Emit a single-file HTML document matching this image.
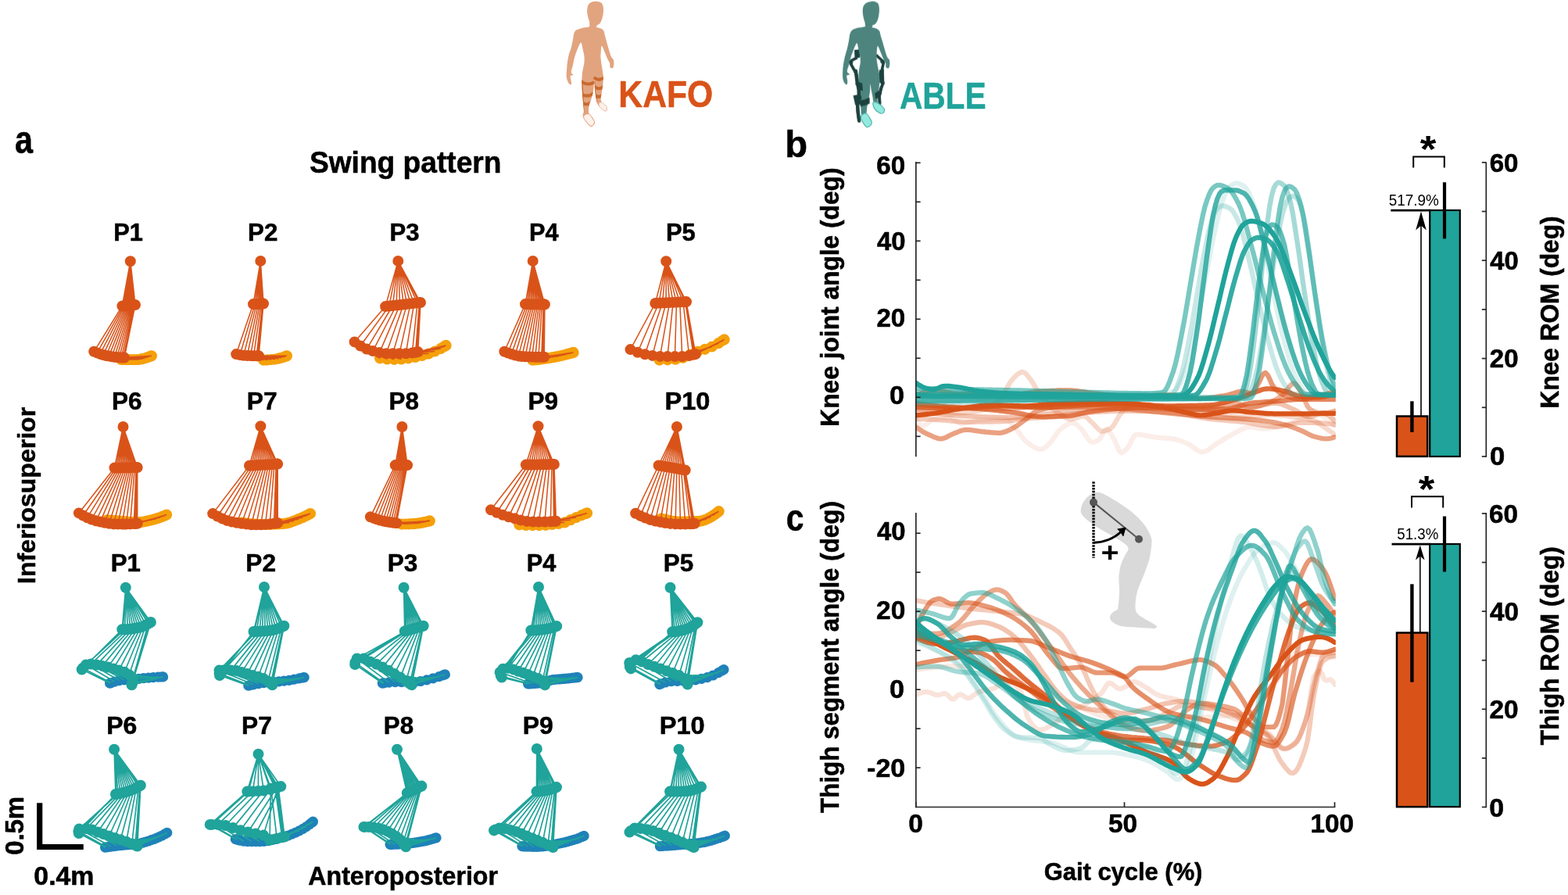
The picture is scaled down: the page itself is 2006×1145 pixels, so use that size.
<!DOCTYPE html>
<html lang="en"><head><meta charset="utf-8"><title>Swing pattern, knee and thigh kinematics: KAFO vs ABLE</title>
<style>
html,body{margin:0;padding:0;background:#fff;}
body{width:2006px;height:1145px;overflow:hidden;}
svg{display:block;font-family:"Liberation Sans",sans-serif;}
</style></head>
<body>
<svg width="2006" height="1145" viewBox="0 0 2006 1145">
<rect width="2006" height="1145" fill="#fff"/>
<g id="part_people_build">
<defs><filter id="soft" x="-10%" y="-10%" width="120%" height="120%"><feGaussianBlur stdDeviation="0.5"/></filter></defs>
<g filter="url(#soft)">
<g transform="translate(715,0) scale(0.14861)">
<clipPath id="kclip"><path d="M266,195C255.3,197.3 272.2,220.5 262,228C251.8,235.5 223.3,235 205,240C186.7,245 164.3,250.5 152,258C139.7,265.5 136.2,271.3 131,285C125.8,298.7 125.2,319.2 121,340C116.8,360.8 111.8,388.3 106,410C100.2,431.7 91.5,448.3 86,470C80.5,491.7 76,518.3 73,540C70,561.7 69.3,580 68,600C66.7,620 63.3,642.5 65,660C66.7,677.5 72.7,693.7 78,705C83.3,716.3 92,725.8 97,728C102,730.2 107.2,725.7 108,718C108.8,710.3 103.3,693 102,682C100.7,671 96.3,658 100,652C103.7,646 123,651.3 124,646C125,640.7 106.5,634.3 106,620C105.5,605.7 116,581.7 121,560C126,538.3 129.3,513.3 136,490C142.7,466.7 152,440.7 161,420C170,399.3 182.7,366 190,366C197.3,366 200.3,401 205,420C209.7,439 215.8,460 218,480C220.2,500 220,520 218,540C216,560 209,583.3 206,600C203,616.7 201.3,625 200,640C198.7,655 198,666.7 198,690C198,713.3 198.3,748.3 200,780C201.7,811.7 205.5,850 208,880C210.5,910 215.3,942.5 215,960C214.7,977.5 205.8,975 206,985C206.2,995 209.3,1006.7 216,1020C222.7,1033.3 236,1053.7 246,1065C256,1076.3 267,1086.3 276,1088C285,1089.7 294.7,1081.3 300,1075C305.3,1068.7 309.7,1060 308,1050C306.3,1040 297,1025.8 290,1015C283,1004.2 271.7,994.2 266,985C260.3,975.8 256.7,974.2 256,960C255.3,945.8 258,918.3 262,900C266,881.7 274.5,868.3 280,850C285.5,831.7 291.3,811.7 295,790C298.7,768.3 300.2,734.7 302,720C303.8,705.3 304.5,692 306,702C307.5,712 308.7,755.3 311,780C313.3,804.7 316.7,831.7 320,850C323.3,868.3 326.7,879.2 331,890C335.3,900.8 337.8,905.8 346,915C354.2,924.2 370.2,937.8 380,945C389.8,952.2 399.2,959.7 405,958C410.8,956.3 415.8,943.8 415,935C414.2,926.2 407.3,913.3 400,905C392.7,896.7 377.5,894.2 371,885C364.5,875.8 361.2,865.8 361,850C360.8,834.2 366.8,811.7 370,790C373.2,768.3 378,741.7 380,720C382,698.3 382.3,676.7 382,660C381.7,643.3 380.3,636.7 378,620C375.7,603.3 371,580 368,560C365,540 361,520 360,500C359,480 360.3,457.3 362,440C363.7,422.7 364.5,394.3 370,396C375.5,397.7 386.7,431 395,450C403.3,469 412.8,494.2 420,510C427.2,525.8 434.5,533.3 438,545C441.5,556.7 436.5,573.3 441,580C445.5,586.7 459.7,590 465,585C470.3,580 472.2,561.7 473,550C473.8,538.3 473.7,525 470,515C466.3,505 457.5,504.2 451,490C444.5,475.8 437.7,451.7 431,430C424.3,408.3 417,381.7 411,360C405,338.3 399.2,315.8 395,300C390.8,284.2 391.7,274.2 386,265C380.3,255.8 371.7,250.5 361,245C350.3,239.5 327.8,237.2 322,232C316.2,226.8 335.3,220.2 326,214C316.7,207.8 276.7,192.7 266,195Z"/></clipPath>
<path d="M266,195C255.3,197.3 272.2,220.5 262,228C251.8,235.5 223.3,235 205,240C186.7,245 164.3,250.5 152,258C139.7,265.5 136.2,271.3 131,285C125.8,298.7 125.2,319.2 121,340C116.8,360.8 111.8,388.3 106,410C100.2,431.7 91.5,448.3 86,470C80.5,491.7 76,518.3 73,540C70,561.7 69.3,580 68,600C66.7,620 63.3,642.5 65,660C66.7,677.5 72.7,693.7 78,705C83.3,716.3 92,725.8 97,728C102,730.2 107.2,725.7 108,718C108.8,710.3 103.3,693 102,682C100.7,671 96.3,658 100,652C103.7,646 123,651.3 124,646C125,640.7 106.5,634.3 106,620C105.5,605.7 116,581.7 121,560C126,538.3 129.3,513.3 136,490C142.7,466.7 152,440.7 161,420C170,399.3 182.7,366 190,366C197.3,366 200.3,401 205,420C209.7,439 215.8,460 218,480C220.2,500 220,520 218,540C216,560 209,583.3 206,600C203,616.7 201.3,625 200,640C198.7,655 198,666.7 198,690C198,713.3 198.3,748.3 200,780C201.7,811.7 205.5,850 208,880C210.5,910 215.3,942.5 215,960C214.7,977.5 205.8,975 206,985C206.2,995 209.3,1006.7 216,1020C222.7,1033.3 236,1053.7 246,1065C256,1076.3 267,1086.3 276,1088C285,1089.7 294.7,1081.3 300,1075C305.3,1068.7 309.7,1060 308,1050C306.3,1040 297,1025.8 290,1015C283,1004.2 271.7,994.2 266,985C260.3,975.8 256.7,974.2 256,960C255.3,945.8 258,918.3 262,900C266,881.7 274.5,868.3 280,850C285.5,831.7 291.3,811.7 295,790C298.7,768.3 300.2,734.7 302,720C303.8,705.3 304.5,692 306,702C307.5,712 308.7,755.3 311,780C313.3,804.7 316.7,831.7 320,850C323.3,868.3 326.7,879.2 331,890C335.3,900.8 337.8,905.8 346,915C354.2,924.2 370.2,937.8 380,945C389.8,952.2 399.2,959.7 405,958C410.8,956.3 415.8,943.8 415,935C414.2,926.2 407.3,913.3 400,905C392.7,896.7 377.5,894.2 371,885C364.5,875.8 361.2,865.8 361,850C360.8,834.2 366.8,811.7 370,790C373.2,768.3 378,741.7 380,720C382,698.3 382.3,676.7 382,660C381.7,643.3 380.3,636.7 378,620C375.7,603.3 371,580 368,560C365,540 361,520 360,500C359,480 360.3,457.3 362,440C363.7,422.7 364.5,394.3 370,396C375.5,397.7 386.7,431 395,450C403.3,469 412.8,494.2 420,510C427.2,525.8 434.5,533.3 438,545C441.5,556.7 436.5,573.3 441,580C445.5,586.7 459.7,590 465,585C470.3,580 472.2,561.7 473,550C473.8,538.3 473.7,525 470,515C466.3,505 457.5,504.2 451,490C444.5,475.8 437.7,451.7 431,430C424.3,408.3 417,381.7 411,360C405,338.3 399.2,315.8 395,300C390.8,284.2 391.7,274.2 386,265C380.3,255.8 371.7,250.5 361,245C350.3,239.5 327.8,237.2 322,232C316.2,226.8 335.3,220.2 326,214C316.7,207.8 276.7,192.7 266,195Z" fill="#E2A47F"/>
<path d="M310,12C323.3,10.7 339.7,12.7 350,16C360.3,19.3 366.5,23 372,32C377.5,41 381.5,55.3 383,70C384.5,84.7 383.3,103.3 381,120C378.7,136.7 374,156 369,170C364,184 357.8,196.3 351,204C344.2,211.7 336.5,214.7 328,216C319.5,217.3 309.7,214.7 300,212C290.3,209.3 277.3,207.8 270,200C262.7,192.2 260,177 256,165C252,153 248.2,140.5 246,128C243.8,115.5 242.3,103 243,90C243.7,77 245.5,61 250,50C254.5,39 260,30.3 270,24C280,17.7 296.7,13.3 310,12Z" fill="#E2A47F"/>
<g clip-path="url(#kclip)">
<path d="M190,700 Q250,742 305,708" stroke="#CB6A2F" stroke-width="27" fill="none"/>
<path d="M200,812 Q250,842 298,802" stroke="#CB6A2F" stroke-width="27" fill="none"/>
<path d="M205,886 Q245,914 282,878" stroke="#CB6A2F" stroke-width="27" fill="none"/>
<path d="M302,666 Q345,704 388,668" stroke="#CB6A2F" stroke-width="27" fill="none"/>
<path d="M306,745 Q345,779 384,745" stroke="#CB6A2F" stroke-width="27" fill="none"/>
<path d="M312,820 Q345,848 376,818" stroke="#CB6A2F" stroke-width="27" fill="none"/>
<path d="M197,690 L204,800 L212,970" stroke="#CB6A2F" stroke-width="13" fill="none"/>
<path d="M306,700 L314,800 L328,895" stroke="#CB6A2F" stroke-width="9" fill="none"/>
</g>
<path d="M222,990C230,984.3 249,974.5 262,982C275,989.5 292.7,1023.3 300,1035C307.3,1046.7 306.3,1045.5 306,1052C305.7,1058.5 303,1068.5 298,1074C293,1079.5 284.7,1087.3 276,1085C267.3,1082.7 256.3,1071.5 246,1060C235.7,1048.5 218,1027.7 214,1016C210,1004.3 214,995.7 222,990Z" fill="#FBF0EA" stroke="#E08A55" stroke-width="5"/>
<path d="M346,886C350,880.7 363.3,878.7 374,884C384.7,889.3 403.5,909 410,918C416.5,927 414,932 413,938C412,944 408.8,952 404,954C399.2,956 393,956.3 384,950C375,943.7 356.3,926.7 350,916C343.7,905.3 342,891.3 346,886Z" fill="#FBF0EA" stroke="#E8A784" stroke-width="4"/>
</g>
<g transform="translate(1065,0) scale(0.14861)">
<path d="M188,430 L232,425 L236,495 L192,500 Z" fill="#1D4340"/>
<path d="M205,500 L165,520 L156,546 L186,600 L206,640 L212,700 L226,760 L230,830 L212,880 L218,960 L228,1035" stroke="#1D4340" stroke-width="25" fill="none" stroke-linejoin="round" stroke-linecap="round"/>
<path d="M380,478 L422,516 L440,538 L426,600 L431,700 L434,722 L416,760 L402,820 L406,885" stroke="#1D4340" stroke-width="24" fill="none" stroke-linejoin="round" stroke-linecap="round"/>
<path d="M283,200C272.3,202.3 291.2,221.3 280,228C268.8,234.7 234.2,235 216,240C197.8,245 181.8,249.7 171,258C160.2,266.3 156,274.7 151,290C146,305.3 145.2,328.3 141,350C136.8,371.7 131.8,396.7 126,420C120.2,443.3 111.5,466.7 106,490C100.5,513.3 96,538.3 93,560C90,581.7 88.5,600 88,620C87.5,640 86.7,663.3 90,680C93.3,696.7 102.2,712.3 108,720C113.8,727.7 121.5,730 125,726C128.5,722 129.3,708.3 129,696C128.7,683.7 119.8,661.3 123,652C126.2,642.7 147.5,646.2 148,640C148.5,633.8 127.2,628.3 126,615C124.8,601.7 136,579.2 141,560C146,540.8 149.3,521.7 156,500C162.7,478.3 172,451.5 181,430C190,408.5 202.7,371 210,371C217.3,371 220.3,410.2 225,430C229.7,449.8 235.5,471.7 238,490C240.5,508.3 241.5,521.7 240,540C238.5,558.3 231.5,580 229,600C226.5,620 225.2,640 225,660C224.8,680 226.3,696.7 228,720C229.7,743.3 233,775 235,800C237,825 238.3,846.7 240,870C241.7,893.3 243.3,920.8 245,940C246.7,959.2 242.5,979.2 250,985C257.5,990.8 282.3,984.2 290,975C297.7,965.8 293.3,945.8 296,930C298.7,914.2 302.7,896.7 306,880C309.3,863.3 313.2,846.7 316,830C318.8,813.3 321.3,798 323,780C324.7,762 324,722 326,722C328,722 331.8,762 335,780C338.2,798 341.7,813.3 345,830C348.3,846.7 348.3,870.8 355,880C361.7,889.2 379.5,890 385,885C390.5,880 386.2,865.8 388,850C389.8,834.2 393.2,811.7 396,790C398.8,768.3 402.7,743.3 405,720C407.3,696.7 410.8,666.7 410,650C409.2,633.3 403.7,635 400,620C396.3,605 391.3,580 388,560C384.7,540 381,520 380,500C379,480 380.3,457.3 382,440C383.7,422.7 384.5,394.3 390,396C395.5,397.7 406.7,431 415,450C423.3,469 432.8,494.2 440,510C447.2,525.8 454.5,533.3 458,545C461.5,556.7 456.5,573.3 461,580C465.5,586.7 479.7,590 485,585C490.3,580 492.2,561.7 493,550C493.8,538.3 493.7,525 490,515C486.3,505 477.5,504.2 471,490C464.5,475.8 457.7,451.7 451,430C444.3,408.3 437.3,381.7 431,360C424.7,338.3 417.3,315.3 413,300C408.7,284.7 410.3,277 405,268C399.7,259 391.5,251.5 381,246C370.5,240.5 348.2,240.3 342,235C335.8,229.7 353.8,219.8 344,214C334.2,208.2 293.7,197.7 283,200Z" fill="#4D857E"/>
<path d="M335,12C348.8,11 365,14.2 375,18C385,21.8 390.3,24.7 395,35C399.7,45.3 402.3,64.2 403,80C403.7,95.8 401.8,113.3 399,130C396.2,146.7 391.5,167 386,180C380.5,193 373.3,202 366,208C358.7,214 351,215.2 342,216C333,216.8 321.3,214.8 312,213C302.7,211.2 292.7,212.2 286,205C279.3,197.8 275.7,181.7 272,170C268.3,158.3 266,148.3 264,135C262,121.7 259.3,104.2 260,90C260.7,75.8 262.7,61 268,50C273.3,39 280.8,30.3 292,24C303.2,17.7 321.2,13 335,12Z" fill="#4D857E"/>
<path d="M200,610 L212,700 L226,770 L228,840 L216,900 L220,970 L230,1040" stroke="#1D4340" stroke-width="30" fill="none" stroke-linejoin="round" stroke-linecap="round"/>
<path d="M430,600 L434,712 L418,770 L404,830 L408,890" stroke="#1D4340" stroke-width="24" fill="none" stroke-linejoin="round" stroke-linecap="round"/>
<path d="M203,700 L256,716 L262,782 L216,772 Z" fill="#1D4340"/>
<path d="M178,822 L236,812 L242,900 L196,905 Z" fill="#1D4340"/>
<path d="M232,862 Q280,860 320,838 L320,890 Q282,914 240,916 Z" fill="#1D4340"/>
<path d="M402,600 L436,610 L441,722 L406,712 Z" fill="#1D4340"/>
<path d="M364,802 L411,774 L414,832 L370,852 Z" fill="#1D4340"/>
<circle cx="160" cy="535" r="17" fill="#1D4340"/>
<circle cx="200" cy="615" r="16" fill="#1D4340"/>
<circle cx="215" cy="720" r="18" fill="#1D4340"/>
<circle cx="228" cy="840" r="22" fill="#1D4340"/>
<circle cx="430" cy="530" r="17" fill="#1D4340"/>
<circle cx="428" cy="610" r="16" fill="#1D4340"/>
<circle cx="432" cy="715" r="17" fill="#1D4340"/>
<circle cx="408" cy="800" r="16" fill="#1D4340"/>
<path d="M254,988C261.7,982 277.3,969 290,976C302.7,983 322,1017.3 330,1030C338,1042.7 338,1044.3 338,1052C338,1059.7 337,1069 330,1076C323,1083 306.7,1096.7 296,1094C285.3,1091.3 274.7,1073.7 266,1060C257.3,1046.3 246,1024 244,1012C242,1000 246.3,994 254,988Z" fill="#92EADF" stroke="#43A99E" stroke-width="7"/>
<path d="M350,882C355,874.3 375,878.3 390,886C405,893.7 430.5,917.3 440,928C449.5,938.7 447.3,943 447,950C446.7,957 444.2,965.8 438,970C431.8,974.2 423,981.3 410,975C397,968.7 370,947.5 360,932C350,916.5 345,889.7 350,882Z" fill="#92EADF" stroke="#43A99E" stroke-width="7"/>
</g>
</g>
</g>
<g id="part_swing_build">
<path d="M155,460h0M159.3,460h0M163.4,460h0M167.4,460h0M171.2,460h0M174.9,460h0M178.4,459.8h0M181.7,459.2h0M184.8,458.5h0M187.6,457.6h0M190.2,456.7h0M192.4,455.9h0M192.5,455.8h0M192.8,455.7h0M193.1,455.6h0M193.3,455.5h0M193.6,455.4h0M193.9,455.3h0" stroke="#F5A00A" stroke-width="14.2" stroke-linecap="round" fill="none"/>
<path d="M166.8,334.2L156.4,391.5L120.2,449.8L155,460M166.8,334.2L158.2,391.3L124.2,451.4L159.3,460M166.8,334.2L159.9,391.2L128.1,452.9L163.4,460M166.8,334.2L161.6,391L132,454.1L167.4,460M166.8,334.2L163.2,390.9L135.7,455L171.2,460M166.8,334.2L164.8,390.7L139.4,455.6L174.9,460M166.8,334.2L166.3,390.6L142.9,456.2L178.4,459.8M166.8,334.2L167.7,390.5L146.3,456.7L181.7,459.2M166.8,334.2L169,390.4L149.5,457L184.8,458.5M166.8,334.2L170.3,390.2L152.5,457.3L187.6,457.6M166.8,334.2L171.4,390.1L155.2,457.5L190.2,456.7M166.8,334.2L172.3,390.1L157.5,457.6L192.4,455.9M166.8,334.2L172.4,390.1L157.6,457.6L192.5,455.8M166.8,334.2L172.5,390L157.9,457.6L192.8,455.7M166.8,334.2L172.6,390L158.2,457.6L193.1,455.6M166.8,334.2L172.8,390L158.5,457.6L193.3,455.5M166.8,334.2L172.9,390L158.8,457.6L193.6,455.4M166.8,334.2L173,390L159.1,457.6L193.9,455.3" stroke="#D95319" stroke-width="1.55" stroke-linejoin="round" fill="none"/>
<path d="M166.8,334.2h0M156.4,391.5h0M158.2,391.3h0M159.9,391.2h0M161.6,391h0M163.2,390.9h0M164.8,390.7h0M166.3,390.6h0M167.7,390.5h0M169,390.4h0M170.3,390.2h0M171.4,390.1h0M172.3,390.1h0M172.4,390.1h0M172.5,390h0M172.6,390h0M172.8,390h0M172.9,390h0M173,390h0M120.2,449.8h0M124.2,451.4h0M128.1,452.9h0M132,454.1h0M135.7,455h0M139.4,455.6h0M142.9,456.2h0M146.3,456.7h0M149.5,457h0M152.5,457.3h0M155.2,457.5h0M157.5,457.6h0M157.6,457.6h0M157.9,457.6h0M158.2,457.6h0M158.5,457.6h0M158.8,457.6h0M159.1,457.6h0" stroke="#D95319" stroke-width="14.0" stroke-linecap="round" fill="none"/>
<path d="M337,460.6h0M342.2,460.4h0M347.2,460h0M351.9,459.5h0M356.3,458.7h0M360.4,457.6h0M364.1,456.4h0M365.8,455.7h0M366,455.6h0M366.3,455.6h0M366.5,455.5h0M366.7,455.4h0M366.9,455.3h0" stroke="#F5A00A" stroke-width="14.2" stroke-linecap="round" fill="none"/>
<path d="M333.3,333.9L324,389.1L302.2,453.1L337,460.6M333.3,333.9L326.2,389L307,454L342.2,460.4M333.3,333.9L328.3,388.9L311.7,454.7L347.2,460M333.3,333.9L330.4,388.8L316.2,455L351.9,459.5M333.3,333.9L332.3,388.7L320.5,455.1L356.3,458.7M333.3,333.9L334.1,388.6L324.5,455.2L360.4,457.6M333.3,333.9L335.7,388.6L328.2,455.3L364.1,456.4M333.3,333.9L336.5,388.5L329.9,455.3L365.8,455.7M333.3,333.9L336.6,388.5L330.1,455.3L366,455.6M333.3,333.9L336.7,388.5L330.3,455.3L366.3,455.6M333.3,333.9L336.8,388.5L330.6,455.3L366.5,455.5M333.3,333.9L336.9,388.5L330.8,455.3L366.7,455.4M333.3,333.9L337,388.5L331,455.3L366.9,455.3" stroke="#D95319" stroke-width="1.55" stroke-linejoin="round" fill="none"/>
<path d="M333.3,333.9h0M324,389.1h0M326.2,389h0M328.3,388.9h0M330.4,388.8h0M332.3,388.7h0M334.1,388.6h0M335.7,388.6h0M336.5,388.5h0M336.6,388.5h0M336.7,388.5h0M336.8,388.5h0M336.9,388.5h0M337,388.5h0M302.2,453.1h0M307,454h0M311.7,454.7h0M316.2,455h0M320.5,455.1h0M324.5,455.2h0M328.2,455.3h0M329.9,455.3h0M330.1,455.3h0M330.3,455.3h0M330.6,455.3h0M330.8,455.3h0M331,455.3h0" stroke="#D95319" stroke-width="14.0" stroke-linecap="round" fill="none"/>
<path d="M486.1,458.3h0M495.3,459.4h0M504.4,459.8h0M513.4,459.4h0M522.4,458.3h0M531.2,456.9h0M539.9,455h0M548.3,452.6h0M556.3,449.5h0M563.9,445.9h0M567.9,443.6h0M568.6,443.2h0M569.3,442.8h0M569.9,442.3h0M570.6,441.9h0" stroke="#F5A00A" stroke-width="14.2" stroke-linecap="round" fill="none"/>
<path d="M509.3,333.9L493.1,392.1L453.6,437.4L486.1,458.3M509.3,333.9L497.8,391.6L461.1,442.5L495.3,459.4M509.3,333.9L502.5,391L469,446.6L504.4,459.8M509.3,333.9L507.1,390.5L477,449.1L513.4,459.4M509.3,333.9L511.7,390L485.5,451.1L522.4,458.3M509.3,333.9L516.3,389.5L494.1,452.2L531.2,456.9M509.3,333.9L520.8,388.9L502.6,452.3L539.9,455M509.3,333.9L525.3,388.4L511,452.3L548.3,452.6M509.3,333.9L529.7,387.9L519.3,452.3L556.3,449.5M509.3,333.9L534,387.5L527.3,451.6L563.9,445.9M509.3,333.9L536.4,387.2L531.7,450.7L567.9,443.6M509.3,333.9L536.8,387.1L532.5,450.6L568.6,443.2M509.3,333.9L537.2,387.1L533.2,450.4L569.3,442.8M509.3,333.9L537.6,387L534,450.3L569.9,442.3M509.3,333.9L538,387L534.7,450.1L570.6,441.9" stroke="#D95319" stroke-width="1.55" stroke-linejoin="round" fill="none"/>
<path d="M509.3,333.9h0M493.1,392.1h0M497.8,391.6h0M502.5,391h0M507.1,390.5h0M511.7,390h0M516.3,389.5h0M520.8,388.9h0M525.3,388.4h0M529.7,387.9h0M534,387.5h0M536.4,387.2h0M536.8,387.1h0M537.2,387.1h0M537.6,387h0M538,387h0M453.6,437.4h0M461.1,442.5h0M469,446.6h0M477,449.1h0M485.5,451.1h0M494.1,452.2h0M502.6,452.3h0M511,452.3h0M519.3,452.3h0M527.3,451.6h0M531.7,450.7h0M532.5,450.6h0M533.2,450.4h0M534,450.3h0M534.7,450.1h0" stroke="#D95319" stroke-width="14.0" stroke-linecap="round" fill="none"/>
<path d="M681.2,460.6h0M683.6,460.4h0M686.1,460.2h0M688.5,459.9h0M690.9,459.6h0M693.3,459.3h0M695.6,459h0M698,458.7h0M700.3,458.3h0M702.6,458h0M704.9,457.6h0M707.2,457.2h0M709.4,456.8h0M711.6,456.4h0M713.8,456h0M716,455.5h0M718.2,455h0M720.3,454.5h0M722.4,454h0M724.4,453.5h0M726.4,452.9h0M728.4,452.4h0M730.3,451.9h0M731.7,451.4h0M732,451.4h0M732.2,451.3h0M732.7,451.2h0M733.1,451h0M733.6,450.9h0" stroke="#F5A00A" stroke-width="14.2" stroke-linecap="round" fill="none"/>
<path d="M681.7,333.9L672,389.1L645.3,449.8L681.2,460.6M681.7,333.9L674.3,389.1L649.8,451.5L686.1,460.2M681.7,333.9L676.5,389.2L654.3,453L690.9,459.6M681.7,333.9L678.8,389.2L658.8,454.4L695.6,459M681.7,333.9L681,389.2L663.2,455.4L700.3,458.3M681.7,333.9L683.1,389.3L667.7,456L704.9,457.6M681.7,333.9L685.3,389.3L672,456.2L709.4,456.8M681.7,333.9L687.4,389.3L676.4,456.4L713.8,456M681.7,333.9L689.5,389.4L680.6,456.6L718.2,455M681.7,333.9L691.5,389.4L684.8,456.7L722.4,454M681.7,333.9L693.4,389.4L688.9,456.7L726.4,452.9M681.7,333.9L695.3,389.5L692.8,456.8L730.3,451.9M681.7,333.9L696,389.5L694.3,456.8L731.7,451.4M681.7,333.9L696.2,389.5L694.8,456.8L732.2,451.3M681.7,333.9L696.5,389.5L695.3,456.8L732.7,451.2M681.7,333.9L696.7,389.5L695.7,456.8L733.1,451M681.7,333.9L696.9,389.5L696.2,456.8L733.6,450.9" stroke="#D95319" stroke-width="1.55" stroke-linejoin="round" fill="none"/>
<path d="M681.7,333.9h0M672,389.1h0M674.3,389.1h0M676.5,389.2h0M678.8,389.2h0M681,389.2h0M683.1,389.3h0M685.3,389.3h0M687.4,389.3h0M689.5,389.4h0M691.5,389.4h0M693.4,389.4h0M695.3,389.5h0M696,389.5h0M696.2,389.5h0M696.5,389.5h0M696.7,389.5h0M696.9,389.5h0M645.3,449.8h0M649.8,451.5h0M654.3,453h0M658.8,454.4h0M663.2,455.4h0M667.7,456h0M672,456.2h0M676.4,456.4h0M680.6,456.6h0M684.8,456.7h0M688.9,456.7h0M692.8,456.8h0M694.3,456.8h0M694.8,456.8h0M695.3,456.8h0M695.7,456.8h0M696.2,456.8h0" stroke="#D95319" stroke-width="14.0" stroke-linecap="round" fill="none"/>
<path d="M843.6,460.6h0M854,460.3h0M864.1,459.7h0M873.8,457.7h0M883.1,453.6h0M892.4,449.8h0M901.8,446.8h0M910.8,443.5h0M919.1,439.2h0M924.1,436.1h0M924.9,435.5h0M925.8,435h0M926.6,434.4h0" stroke="#F5A00A" stroke-width="14.2" stroke-linecap="round" fill="none"/>
<path d="M852.2,334.2L838.3,388L806.5,447.1L843.6,460.6M852.2,334.2L842.9,387.8L815.7,450.8L854,460.3M852.2,334.2L847.5,387.6L825.1,453.3L864.1,459.7M852.2,334.2L852.1,387.3L834.7,454.9L873.8,457.7M852.2,334.2L856.6,387.1L844.4,455.9L883.1,453.6M852.2,334.2L861.1,386.9L853.9,456.1L892.4,449.8M852.2,334.2L865.5,386.7L863.4,456.1L901.8,446.8M852.2,334.2L869.8,386.5L872.7,456.1L910.8,443.5M852.2,334.2L874,386.3L881.6,455L919.1,439.2M852.2,334.2L876.7,386.2L887.1,453.8L924.1,436.1M852.2,334.2L877.1,386.1L888,453.6L924.9,435.5M852.2,334.2L877.6,386.1L889,453.3L925.8,435M852.2,334.2L878,386.1L889.9,453.1L926.6,434.4" stroke="#D95319" stroke-width="1.55" stroke-linejoin="round" fill="none"/>
<path d="M852.2,334.2h0M838.3,388h0M842.9,387.8h0M847.5,387.6h0M852.1,387.3h0M856.6,387.1h0M861.1,386.9h0M865.5,386.7h0M869.8,386.5h0M874,386.3h0M876.7,386.2h0M877.1,386.1h0M877.6,386.1h0M878,386.1h0M806.5,447.1h0M815.7,450.8h0M825.1,453.3h0M834.7,454.9h0M844.4,455.9h0M853.9,456.1h0M863.4,456.1h0M872.7,456.1h0M881.6,455h0M887.1,453.8h0M888,453.6h0M889,453.3h0M889.9,453.1h0" stroke="#D95319" stroke-width="14.0" stroke-linecap="round" fill="none"/>
<path d="M136.8,665.3h0M139.8,665.6h0M142.9,665.8h0M145.9,666.1h0M148.9,666.3h0M151.9,666.6h0M154.9,666.8h0M157.8,667.1h0M160.8,667.3h0M163.7,667.6h0M166.7,667.9h0M169.6,668.1h0M172.5,668.2h0M175.3,668.3h0M178.2,668.2h0M181,667.9h0M183.8,667.5h0M186.5,666.9h0M189.3,666.3h0M192,665.7h0M194.6,665.1h0M197.2,664.4h0M199.7,663.7h0M202.1,662.9h0M204.6,662.1h0M206.9,661.2h0M209.1,660.3h0M210.7,659.7h0M211.3,659.4h0M211.5,659.3h0M212.3,659h0M213.1,658.6h0" stroke="#F5A00A" stroke-width="14.2" stroke-linecap="round" fill="none"/>
<path d="M157.5,546L146.5,598.5L100.9,656.4L136.8,665.3M157.5,546L148.8,598.5L106.3,659.5L142.9,665.8M157.5,546L151.1,598.4L111.7,662.2L148.9,666.3M157.5,546L153.3,598.4L117.2,664.5L154.9,666.8M157.5,546L155.5,598.3L122.8,666.3L160.8,667.3M157.5,546L157.7,598.3L128.3,667.6L166.7,667.9M157.5,546L159.9,598.3L134,668.8L172.5,668.2M157.5,546L162.1,598.2L139.7,669.7L178.2,668.2M157.5,546L164.2,598.2L145.3,670.4L183.8,667.5M157.5,546L166.3,598.2L150.8,670.6L189.3,666.3M157.5,546L168.3,598.1L156.2,670.6L194.6,665.1M157.5,546L170.3,598.1L161.5,670.5L199.7,663.7M157.5,546L172.3,598.1L166.6,670.4L204.6,662.1M157.5,546L174.1,598L171.4,670.1L209.1,660.3M157.5,546L174.7,598L173.1,670L210.7,659.7M157.5,546L175,598L174,670L211.5,659.3M157.5,546L175.4,598L174.8,669.9L212.3,659M157.5,546L175.7,598L175.7,669.8L213.1,658.6" stroke="#D95319" stroke-width="1.55" stroke-linejoin="round" fill="none"/>
<path d="M157.5,546h0M146.5,598.5h0M148.8,598.5h0M151.1,598.4h0M153.3,598.4h0M155.5,598.3h0M157.7,598.3h0M159.9,598.3h0M162.1,598.2h0M164.2,598.2h0M166.3,598.2h0M168.3,598.1h0M170.3,598.1h0M172.3,598.1h0M174.1,598h0M174.7,598h0M175,598h0M175.4,598h0M175.7,598h0M100.9,656.4h0M106.3,659.5h0M111.7,662.2h0M117.2,664.5h0M122.8,666.3h0M128.3,667.6h0M134,668.8h0M139.7,669.7h0M145.3,670.4h0M150.8,670.6h0M156.2,670.6h0M161.5,670.5h0M166.6,670.4h0M171.4,670.1h0M173.1,670h0M174,670h0M174.8,669.9h0M175.7,669.8h0" stroke="#D95319" stroke-width="14.0" stroke-linecap="round" fill="none"/>
<path d="M309,668.5h0M312.5,669.1h0M316.1,669.6h0M319.6,670h0M323.1,670.4h0M326.5,670.7h0M330,670.9h0M333.5,671h0M336.9,671h0M340.3,671h0M343.8,670.9h0M347.2,670.8h0M350.6,670.6h0M354,670.5h0M357.3,670.3h0M360.6,670.1h0M363.8,669.8h0M367,669.4h0M370.1,668.7h0M373.1,667.6h0M376.1,666.5h0M379.1,665.3h0M381.9,664.2h0M384.7,663h0M387.4,661.9h0M390.1,660.6h0M392.6,659.4h0M394.3,658.5h0M394.9,658.2h0M395.2,658.1h0M396.1,657.6h0M397,657.1h0" stroke="#F5A00A" stroke-width="14.2" stroke-linecap="round" fill="none"/>
<path d="M333.4,545.3L319,595.8L272.2,657.1L309,668.5M333.4,545.3L321.8,595.6L278.2,660.5L316.1,669.6M333.4,545.3L324.6,595.5L284.2,663.4L323.1,670.4M333.4,545.3L327.4,595.3L290.3,665.9L330,670.9M333.4,545.3L330.2,595.1L296.5,667.5L336.9,671M333.4,545.3L332.9,595L302.8,668.7L343.8,670.9M333.4,545.3L335.6,594.8L309.1,669.8L350.6,670.6M333.4,545.3L338.3,594.6L315.4,670.6L357.3,670.3M333.4,545.3L340.9,594.5L321.6,671.2L363.8,669.8M333.4,545.3L343.5,594.3L327.7,671.3L370.1,668.7M333.4,545.3L346.1,594.2L333.7,671.2L376.1,666.5M333.4,545.3L348.6,594L339.5,670.9L381.9,664.2M333.4,545.3L350.9,593.9L345.2,670.5L387.4,661.9M333.4,545.3L353.2,593.7L350.5,669.8L392.6,659.4M333.4,545.3L354,593.7L352.3,669.6L394.3,658.5M333.4,545.3L354.4,593.6L353.3,669.4L395.2,658.1M333.4,545.3L354.8,593.6L354.2,669.3L396.1,657.6M333.4,545.3L355.2,593.6L355.2,669.1L397,657.1" stroke="#D95319" stroke-width="1.55" stroke-linejoin="round" fill="none"/>
<path d="M333.4,545.3h0M319,595.8h0M321.8,595.6h0M324.6,595.5h0M327.4,595.3h0M330.2,595.1h0M332.9,595h0M335.6,594.8h0M338.3,594.6h0M340.9,594.5h0M343.5,594.3h0M346.1,594.2h0M348.6,594h0M350.9,593.9h0M353.2,593.7h0M354,593.7h0M354.4,593.6h0M354.8,593.6h0M355.2,593.6h0M272.2,657.1h0M278.2,660.5h0M284.2,663.4h0M290.3,665.9h0M296.5,667.5h0M302.8,668.7h0M309.1,669.8h0M315.4,670.6h0M321.6,671.2h0M327.7,671.3h0M333.7,671.2h0M339.5,670.9h0M345.2,670.5h0M350.5,669.8h0M352.3,669.6h0M353.3,669.4h0M354.2,669.3h0M355.2,669.1h0" stroke="#D95319" stroke-width="14.0" stroke-linecap="round" fill="none"/>
<path d="M513.9,670.6h0M518.6,670.5h0M523.1,670.4h0M527.4,670.1h0M531.5,669.8h0M535.4,669.4h0M539,668.9h0M542.4,668.2h0M545.4,667.5h0M548,666.9h0M548.4,666.8h0M548.6,666.7h0M548.8,666.7h0M549,666.6h0M549.2,666.6h0M549.4,666.5h0M549.6,666.5h0M549.8,666.4h0" stroke="#F5A00A" stroke-width="14.2" stroke-linecap="round" fill="none"/>
<path d="M514.4,546L505.7,595.1L473.9,661.3L513.9,670.6M514.4,546L507.7,595.1L478,662.9L518.6,670.5M514.4,546L509.6,595.1L482.1,664.3L523.1,670.4M514.4,546L511.4,595.1L486,665.5L527.4,670.1M514.4,546L513.2,595.1L489.8,666.4L531.5,669.8M514.4,546L514.8,595.1L493.4,667.2L535.4,669.4M514.4,546L516.4,595.1L496.8,667.8L539,668.9M514.4,546L517.9,595.1L500,668.3L542.4,668.2M514.4,546L519.2,595.1L503,668.7L545.4,667.5M514.4,546L520.3,595.1L505.5,669L548,666.9M514.4,546L520.5,595.1L505.8,669L548.4,666.8M514.4,546L520.6,595.1L506,669L548.6,666.7M514.4,546L520.7,595.1L506.2,669L548.8,666.7M514.4,546L520.8,595.1L506.4,669L549,666.6M514.4,546L520.8,595.1L506.6,669.1L549.2,666.6M514.4,546L520.9,595.1L506.8,669.1L549.4,666.5M514.4,546L521,595.1L507,669.1L549.6,666.5M514.4,546L521.1,595.1L507.2,669.1L549.8,666.4" stroke="#D95319" stroke-width="1.55" stroke-linejoin="round" fill="none"/>
<path d="M514.4,546h0M505.7,595.1h0M507.7,595.1h0M509.6,595.1h0M511.4,595.1h0M513.2,595.1h0M514.8,595.1h0M516.4,595.1h0M517.9,595.1h0M519.2,595.1h0M520.3,595.1h0M520.5,595.1h0M520.6,595.1h0M520.7,595.1h0M520.8,595.1h0M520.8,595.1h0M520.9,595.1h0M521,595.1h0M521.1,595.1h0M473.9,661.3h0M478,662.9h0M482.1,664.3h0M486,665.5h0M489.8,666.4h0M493.4,667.2h0M496.8,667.8h0M500,668.3h0M503,668.7h0M505.5,669h0M505.8,669h0M506,669h0M506.2,669h0M506.4,669h0M506.6,669.1h0M506.8,669.1h0M507,669.1h0M507.2,669.1h0" stroke="#D95319" stroke-width="14.0" stroke-linecap="round" fill="none"/>
<path d="M664.3,671.3h0M672.8,671.9h0M681.3,672.1h0M689.7,672.1h0M698.1,671.8h0M706.4,671h0M714.6,669.9h0M722.4,668.4h0M729.9,665.2h0M737.2,662h0M744.3,659.1h0M748.2,657.5h0M749.1,657.2h0M750.1,656.8h0M751,656.4h0" stroke="#F5A00A" stroke-width="14.2" stroke-linecap="round" fill="none"/>
<path d="M688.5,545.3L672.8,594.6L628,652.3L664.3,671.3M688.5,545.3L676.2,594.5L635.5,655.7L672.8,671.9M688.5,545.3L679.7,594.5L643.1,658.7L681.3,672.1M688.5,545.3L683.1,594.4L650.7,661.2L689.7,672.1M688.5,545.3L686.4,594.4L658.4,663.3L698.1,671.8M688.5,545.3L689.8,594.3L666.2,665.4L706.4,671M688.5,545.3L693.1,594.3L674,666.9L714.6,669.9M688.5,545.3L696.4,594.2L681.8,667.6L722.4,668.4M688.5,545.3L699.7,594.2L689.4,667.6L729.9,665.2M688.5,545.3L702.9,594.1L697,667.5L737.2,662M688.5,545.3L706,594L704.4,667.2L744.3,659.1M688.5,545.3L707.7,594L708.5,667L748.2,657.5M688.5,545.3L708.1,594L709.5,666.9L749.1,657.2M688.5,545.3L708.5,594L710.4,666.9L750.1,656.8M688.5,545.3L708.9,594L711.4,666.8L751,656.4" stroke="#D95319" stroke-width="1.55" stroke-linejoin="round" fill="none"/>
<path d="M688.5,545.3h0M672.8,594.6h0M676.2,594.5h0M679.7,594.5h0M683.1,594.4h0M686.4,594.4h0M689.8,594.3h0M693.1,594.3h0M696.4,594.2h0M699.7,594.2h0M702.9,594.1h0M706,594h0M707.7,594h0M708.1,594h0M708.5,594h0M708.9,594h0M628,652.3h0M635.5,655.7h0M643.1,658.7h0M650.7,661.2h0M658.4,663.3h0M666.2,665.4h0M674,666.9h0M681.8,667.6h0M689.4,667.6h0M697,667.5h0M704.4,667.2h0M708.5,667h0M709.5,666.9h0M710.4,666.9h0M711.4,666.8h0" stroke="#D95319" stroke-width="14.0" stroke-linecap="round" fill="none"/>
<path d="M846,663.5h0M849.3,664.4h0M852.6,665.2h0M855.9,665.9h0M859.2,666.5h0M862.5,667h0M865.7,667.3h0M869,667.5h0M872.3,667.5h0M875.6,667.5h0M879,667.4h0M882.3,667.3h0M885.6,667.3h0M888.8,667.2h0M891.9,667h0M895,666.8h0M898,666.3h0M900.9,665.4h0M903.8,664.3h0M906.6,662.9h0M909.4,661.4h0M912.1,659.7h0M914.8,657.9h0M917.3,656h0M917.4,655.9h0M918.1,655.3h0M918.9,654.8h0M919.6,654.2h0" stroke="#F5A00A" stroke-width="14.2" stroke-linecap="round" fill="none"/>
<path d="M865.9,546L842.6,595.5L813.1,656.8L846,663.5M865.9,546L845.6,596L819.3,659.9L852.6,665.2M865.9,546L848.5,596.5L825.5,662.6L859.2,666.5M865.9,546L851.5,597.1L831.8,664.9L865.7,667.3M865.9,546L854.4,597.6L838.2,666.6L872.3,667.5M865.9,546L857.3,598.1L844.6,667.8L879,667.4M865.9,546L860.2,598.6L851.1,669L885.6,667.3M865.9,546L863.1,599.1L857.7,669.9L891.9,667M865.9,546L865.9,599.6L864.1,670.4L898,666.3M865.9,546L868.7,600.1L870.5,670.6L903.8,664.3M865.9,546L871.5,600.6L876.8,670.5L909.4,661.4M865.9,546L874.2,601.1L882.9,670.3L914.8,657.9M865.9,546L875.5,601.3L886,670L917.4,655.9M865.9,546L875.9,601.4L886.9,670L918.1,655.3M865.9,546L876.3,601.4L887.7,669.9L918.9,654.8M865.9,546L876.7,601.5L888.6,669.8L919.6,654.2" stroke="#D95319" stroke-width="1.55" stroke-linejoin="round" fill="none"/>
<path d="M865.9,546h0M842.6,595.5h0M845.6,596h0M848.5,596.5h0M851.5,597.1h0M854.4,597.6h0M857.3,598.1h0M860.2,598.6h0M863.1,599.1h0M865.9,599.6h0M868.7,600.1h0M871.5,600.6h0M874.2,601.1h0M875.5,601.3h0M875.9,601.4h0M876.3,601.4h0M876.7,601.5h0M813.1,656.8h0M819.3,659.9h0M825.5,662.6h0M831.8,664.9h0M838.2,666.6h0M844.6,667.8h0M851.1,669h0M857.7,669.9h0M864.1,670.4h0M870.5,670.6h0M876.8,670.5h0M882.9,670.3h0M886,670h0M886.9,670h0M887.7,669.9h0M888.6,669.8h0" stroke="#D95319" stroke-width="14.0" stroke-linecap="round" fill="none"/>
<path d="M140.6,874.1h0M142.1,873.6h0M146.6,872.1h0M152.6,870.6h0M158.8,869.9h0M165,869.5h0M171.3,869.1h0M177.5,868.4h0M183.7,867.7h0M189.9,867.1h0M196.1,866.6h0M202.4,866.2h0M206.3,866h0M207.1,866h0M207.8,865.9h0M208.6,865.9h0" stroke="#1F82B8" stroke-width="13.2" stroke-linecap="round" fill="none"/>
<path d="M160.8,751.7L156.3,805.3L104.7,856.5L140.6,874.1M160.8,751.7L157.2,805.3L105.9,854.8L142.1,873.6M160.8,751.7L159.9,805.2L110,850.5L146.6,872.1M160.8,751.7L163.4,805L116.2,849.6L152.6,870.6M160.8,751.7L166.9,804.6L123.6,850.6L158.8,869.9M160.8,751.7L170.3,804.2L130.9,851.9L165,869.5M160.8,751.7L173.7,803.6L138,853.5L171.3,869.1M160.8,751.7L177,803L145,855.4L177.5,868.4M160.8,751.7L180.3,802.2L152.1,857.5L183.7,867.7M160.8,751.7L183.5,801L159.2,859.8L189.9,867.1M160.8,751.7L186.7,799.5L165.2,863.2L196.1,866.6M160.8,751.7L189.8,797.8L169.7,869.2L202.4,866.2M160.8,751.7L191.8,796.7L169.4,873.5L206.3,866M160.8,751.7L192.1,796.5L169.2,874.4L207.1,866M160.8,751.7L192.5,796.2L168.9,875.3L207.8,865.9M160.8,751.7L192.9,796L168.5,876.3L208.6,865.9" stroke="#1FA39A" stroke-width="1.7" stroke-linejoin="round" fill="none"/>
<path d="M160.8,751.7h0M156.3,805.3h0M157.2,805.3h0M159.9,805.2h0M163.4,805h0M166.9,804.6h0M170.3,804.2h0M173.7,803.6h0M177,803h0M180.3,802.2h0M183.5,801h0M186.7,799.5h0M189.8,797.8h0M191.8,796.7h0M192.1,796.5h0M192.5,796.2h0M192.9,796h0M104.7,856.5h0M105.9,854.8h0M110,850.5h0M116.2,849.6h0M123.6,850.6h0M130.9,851.9h0M138,853.5h0M145,855.4h0M152.1,857.5h0M159.2,859.8h0M165.2,863.2h0M169.7,869.2h0M169.4,873.5h0M169.2,874.4h0M168.9,875.3h0M168.5,876.3h0" stroke="#1FA39A" stroke-width="14.0" stroke-linecap="round" fill="none"/>
<path d="M317.8,877.1h0M319.4,876.8h0M324.2,875.8h0M330.7,874.6h0M337.2,873.7h0M343.7,873.1h0M350.3,872.5h0M356.8,871.9h0M363.3,871.2h0M369.8,870.3h0M376.3,869.2h0M382.8,867.9h0M386.8,867.1h0M387.6,866.9h0M388.4,866.8h0M389.2,866.6h0" stroke="#1F82B8" stroke-width="13.2" stroke-linecap="round" fill="none"/>
<path d="M338,751L324.5,808L281,864L317.8,877.1M338,751L325.4,808L280.6,861.6L319.4,876.8M338,751L328.2,807.9L280.5,857.6L324.2,875.8M338,751L331.9,807.8L286.1,857.6L330.7,874.6M338,751L335.5,807.6L295.3,857.6L337.2,873.7M338,751L339.1,807.3L302.4,858.1L343.7,873.1M338,751L342.7,806.9L309.4,859.9L350.3,872.5M338,751L346.2,806.5L316.3,862L356.8,871.9M338,751L349.7,805.9L323.2,863.9L363.3,871.2M338,751L353.2,804.9L330.2,865.7L369.8,870.3M338,751L356.6,803.7L336.9,868L376.3,869.2M338,751L360,802.3L342.9,871.5L382.8,867.9M338,751L362.2,801.4L346.4,874.4L386.8,867.1M338,751L362.6,801.2L347.1,875L387.6,866.9M338,751L363,801L347.7,875.7L388.4,866.8M338,751L363.4,800.8L348.4,876.3L389.2,866.6" stroke="#1FA39A" stroke-width="1.7" stroke-linejoin="round" fill="none"/>
<path d="M338,751h0M324.5,808h0M325.4,808h0M328.2,807.9h0M331.9,807.8h0M335.5,807.6h0M339.1,807.3h0M342.7,806.9h0M346.2,806.5h0M349.7,805.9h0M353.2,804.9h0M356.6,803.7h0M360,802.3h0M362.2,801.4h0M362.6,801.2h0M363,801h0M363.4,800.8h0M281,864h0M280.6,861.6h0M280.5,857.6h0M286.1,857.6h0M295.3,857.6h0M302.4,858.1h0M309.4,859.9h0M316.3,862h0M323.2,863.9h0M330.2,865.7h0M336.9,868h0M342.9,871.5h0M346.4,874.4h0M347.1,875h0M347.7,875.7h0M348.4,876.3h0" stroke="#1FA39A" stroke-width="14.0" stroke-linecap="round" fill="none"/>
<path d="M489.4,874.1h0M491.2,873.8h0M497.5,873.1h0M505.6,872.6h0M513.7,872.7h0M521.9,873h0M530,872.8h0M538,871.5h0M546,869.8h0M553.9,867.9h0M561.7,865.6h0M566.8,863.8h0M567.7,863.5h0M568.5,863.2h0M569.4,862.9h0" stroke="#1F82B8" stroke-width="13.2" stroke-linecap="round" fill="none"/>
<path d="M516.6,751.7L517.8,807.5L454.2,850L489.4,874.1M516.6,751.7L518.3,807.3L454.3,847.6L491.2,873.8M516.6,751.7L520.2,806.8L456.7,842.5L497.5,873.1M516.6,751.7L522.6,806.2L465.5,842.4L505.6,872.6M516.6,751.7L525,805.5L473.5,846.4L513.7,872.7M516.6,751.7L527.4,804.8L481.6,849.8L521.9,873M516.6,751.7L529.8,804.1L489.4,853.6L530,872.8M516.6,751.7L532.1,803.5L497.1,857.8L538,871.5M516.6,751.7L534.5,802.8L504.7,862.1L546,869.8M516.6,751.7L536.9,802.1L512.2,866.6L553.9,867.9M516.6,751.7L539.3,801.5L519.5,871.3L561.7,865.6M516.6,751.7L540.9,801L524.3,874.6L566.8,863.8M516.6,751.7L541.2,801L525.1,875.1L567.7,863.5M516.6,751.7L541.4,800.9L525.9,875.7L568.5,863.2M516.6,751.7L541.7,800.8L526.7,876.3L569.4,862.9" stroke="#1FA39A" stroke-width="1.7" stroke-linejoin="round" fill="none"/>
<path d="M516.6,751.7h0M517.8,807.5h0M518.3,807.3h0M520.2,806.8h0M522.6,806.2h0M525,805.5h0M527.4,804.8h0M529.8,804.1h0M532.1,803.5h0M534.5,802.8h0M536.9,802.1h0M539.3,801.5h0M540.9,801h0M541.2,801h0M541.4,800.9h0M541.7,800.8h0M454.2,850h0M454.3,847.6h0M456.7,842.5h0M465.5,842.4h0M473.5,846.4h0M481.6,849.8h0M489.4,853.6h0M497.1,857.8h0M504.7,862.1h0M512.2,866.6h0M519.5,871.3h0M524.3,874.6h0M525.1,875.1h0M525.9,875.7h0M526.7,876.3h0" stroke="#1FA39A" stroke-width="14.0" stroke-linecap="round" fill="none"/>
<path d="M675.5,874.8h0M677,874.8h0M678.4,874.8h0M681.4,874.6h0M684.3,874.5h0M687.2,874.2h0M690.1,874h0M693,873.5h0M695.8,872.8h0M698.6,872h0M701.4,871.1h0M704.3,870.3h0M707.1,869.7h0M710,869.3h0M712.9,869h0M715.8,868.8h0M718.7,868.6h0M721.6,868.3h0M724.6,868.1h0M727.5,867.8h0M730.4,867.5h0M733.3,867.2h0M736.2,866.9h0M736.9,866.8h0M737.7,866.7h0M738.4,866.7h0M739.1,866.6h0" stroke="#1F82B8" stroke-width="13.2" stroke-linecap="round" fill="none"/>
<path d="M689,751L679.3,806.5L641.9,866.6L675.5,874.8M689,751L680.1,806.5L640.8,864.7L677,874.8M689,751L682.4,806.4L639.6,860L681.4,874.6M689,751L685.4,806.3L643.4,855.8L687.2,874.2M689,751L688.5,806L650.2,854.8L693,873.5M689,751L691.5,805.7L656.6,856.4L698.6,872M689,751L694.5,805.3L663,858.7L704.3,870.3M689,751L697.5,804.9L669.3,860.7L710,869.3M689,751L700.5,804.4L675.5,863L715.8,868.8M689,751L703.4,803.8L681.6,865.4L721.6,868.3M689,751L706.4,803L688.3,868L727.5,867.8M689,751L709.3,802.1L694.1,871L733.3,867.2M689,751L711.1,801.5L696.4,873.8L736.9,866.8M689,751L711.5,801.3L696.7,874.6L737.7,866.7M689,751L711.8,801.2L697,875.5L738.4,866.7M689,751L712.2,801.1L697.2,876.3L739.1,866.6" stroke="#1FA39A" stroke-width="1.7" stroke-linejoin="round" fill="none"/>
<path d="M689,751h0M679.3,806.5h0M680.1,806.5h0M682.4,806.4h0M685.4,806.3h0M688.5,806h0M691.5,805.7h0M694.5,805.3h0M697.5,804.9h0M700.5,804.4h0M703.4,803.8h0M706.4,803h0M709.3,802.1h0M711.1,801.5h0M711.5,801.3h0M711.8,801.2h0M712.2,801.1h0M641.9,866.6h0M640.8,864.7h0M639.6,860h0M643.4,855.8h0M650.2,854.8h0M656.6,856.4h0M663,858.7h0M669.3,860.7h0M675.5,863h0M681.6,865.4h0M688.3,868h0M694.1,871h0M696.4,873.8h0M696.7,874.6h0M697,875.5h0M697.2,876.3h0" stroke="#1FA39A" stroke-width="14.0" stroke-linecap="round" fill="none"/>
<path d="M843.8,875.6h0M845.6,874.9h0M851.2,873h0M858.8,871.7h0M866.5,871.4h0M874.3,871.2h0M882,870.9h0M889.8,869.9h0M897.4,868.4h0M904.9,866.6h0M912.1,864h0M919.1,860.7h0M923.5,858.2h0M924.3,857.7h0M925.2,857.2h0M926,856.7h0" stroke="#1F82B8" stroke-width="13.2" stroke-linecap="round" fill="none"/>
<path d="M857.5,751.7L860.2,808.3L807.1,855.4L843.8,875.6M857.5,751.7L861,808.3L805.8,853.1L845.6,874.9M857.5,751.7L863.5,808.1L805.2,847.9L851.2,873M857.5,751.7L866.7,807.7L813.5,844.2L858.8,871.7M857.5,751.7L869.8,807.1L821.2,846.5L866.5,871.4M857.5,751.7L872.9,806.3L829.1,850L874.3,871.2M857.5,751.7L875.8,805.5L837,852.8L882,870.9M857.5,751.7L878.8,804.6L844.9,855.4L889.8,869.9M857.5,751.7L881.6,803.4L852.7,858.2L897.4,868.4M857.5,751.7L884.4,801.9L860.6,861L904.9,866.6M857.5,751.7L887.1,800.2L868.7,863.9L912.1,864M857.5,751.7L889.8,798.3L875.3,868.1L919.1,860.7M857.5,751.7L891.4,797.1L878.2,872.5L923.5,858.2M857.5,751.7L891.8,796.8L878.7,873.5L924.3,857.7M857.5,751.7L892.1,796.6L879.2,874.5L925.2,857.2M857.5,751.7L892.4,796.3L879.6,875.6L926,856.7" stroke="#1FA39A" stroke-width="1.7" stroke-linejoin="round" fill="none"/>
<path d="M857.5,751.7h0M860.2,808.3h0M861,808.3h0M863.5,808.1h0M866.7,807.7h0M869.8,807.1h0M872.9,806.3h0M875.8,805.5h0M878.8,804.6h0M881.6,803.4h0M884.4,801.9h0M887.1,800.2h0M889.8,798.3h0M891.4,797.1h0M891.8,796.8h0M892.1,796.6h0M892.4,796.3h0M807.1,855.4h0M805.8,853.1h0M805.2,847.9h0M813.5,844.2h0M821.2,846.5h0M829.1,850h0M837,852.8h0M844.9,855.4h0M852.7,858.2h0M860.6,861h0M868.7,863.9h0M875.3,868.1h0M878.2,872.5h0M878.7,873.5h0M879.2,874.5h0M879.6,875.6h0" stroke="#1FA39A" stroke-width="14.0" stroke-linecap="round" fill="none"/>
<path d="M134.6,1084.1h0M136.4,1083.8h0M138.3,1083.6h0M142,1083.1h0M145.7,1082.6h0M149.4,1082.1h0M153.1,1081.7h0M156.8,1081.3h0M160.6,1081h0M164.3,1080.7h0M168,1080.4h0M171.8,1080.1h0M175.4,1079.6h0M179.1,1079h0M182.7,1078.2h0M186.3,1077.1h0M189.9,1076h0M193.5,1074.7h0M197,1073.5h0M200.4,1072.1h0M203.8,1070.6h0M207.2,1069h0M210.5,1067.2h0M211.4,1066.8h0M212.2,1066.3h0M213,1065.9h0M213.8,1065.4h0" stroke="#1F82B8" stroke-width="13.2" stroke-linecap="round" fill="none"/>
<path d="M146.1,958.8L148,1016L100.9,1066.1L134.6,1084.1M146.1,958.8L148.8,1015.9L100.4,1063.6L136.4,1083.8M146.1,958.8L151.1,1015.5L101.3,1060.5L142,1083.1M146.1,958.8L154.1,1014.9L110.3,1060.1L149.4,1082.1M146.1,958.8L157.1,1014.2L117.7,1061.6L156.8,1081.3M146.1,958.8L160.1,1013.4L125,1064.5L164.3,1080.7M146.1,958.8L163.1,1012.5L132.3,1067.1L171.8,1080.1M146.1,958.8L166,1011.5L139.6,1069.5L179.1,1079M146.1,958.8L168.8,1010.4L146.9,1072L186.3,1077.1M146.1,958.8L171.6,1009.2L154.2,1074.3L193.5,1074.7M146.1,958.8L174.4,1007.8L161.5,1076.8L200.4,1072.1M146.1,958.8L177.2,1006.4L168.7,1079.5L207.2,1069M146.1,958.8L178.9,1005.4L173.1,1081.4L211.4,1066.8M146.1,958.8L179.2,1005.2L174,1081.8L212.2,1066.3M146.1,958.8L179.6,1005L174.8,1082.2L213,1065.9M146.1,958.8L179.9,1004.8L175.7,1082.6L213.8,1065.4" stroke="#1FA39A" stroke-width="1.7" stroke-linejoin="round" fill="none"/>
<path d="M146.1,958.8h0M148,1016h0M148.8,1015.9h0M151.1,1015.5h0M154.1,1014.9h0M157.1,1014.2h0M160.1,1013.4h0M163.1,1012.5h0M166,1011.5h0M168.8,1010.4h0M171.6,1009.2h0M174.4,1007.8h0M177.2,1006.4h0M178.9,1005.4h0M179.2,1005.2h0M179.6,1005h0M179.9,1004.8h0M100.9,1066.1h0M100.4,1063.6h0M101.3,1060.5h0M110.3,1060.1h0M117.7,1061.6h0M125,1064.5h0M132.3,1067.1h0M139.6,1069.5h0M146.9,1072h0M154.2,1074.3h0M161.5,1076.8h0M168.7,1079.5h0M173.1,1081.4h0M174,1081.8h0M174.8,1082.2h0M175.7,1082.6h0" stroke="#1FA39A" stroke-width="14.0" stroke-linecap="round" fill="none"/>
<path d="M301.3,1073.6h0M303.6,1074.3h0M306.4,1075.1h0M311.6,1076.2h0M316.7,1076.6h0M322,1076.6h0M327.3,1076.6h0M332.5,1076.6h0M337.7,1076.3h0M342.9,1075.6h0M348.1,1074.5h0M353.2,1073.3h0M358.3,1071.9h0M363.4,1070.6h0M368.4,1069h0M373.4,1067.1h0M378.2,1065.1h0M382.9,1062.8h0M387.5,1060.4h0M391.9,1057.6h0M396.2,1054.5h0M397.6,1053.4h0M398.5,1052.7h0M399.5,1052h0M400.4,1051.2h0" stroke="#1F82B8" stroke-width="13.2" stroke-linecap="round" fill="none"/>
<path d="M330.5,964.7L316.3,1012.6L268.7,1054.9L301.3,1073.6M330.5,964.7L317.9,1012.6L271,1054.9L303.6,1074.3M330.5,964.7L323.4,1012.4L278.7,1054.9L311.6,1076.2M330.5,964.7L330.4,1012L288.5,1056L322,1076.6M330.5,964.7L337.3,1011.5L298.1,1059.1L332.5,1076.6M330.5,964.7L345.7,1009.9L307.6,1062.2L342.9,1075.6M330.5,964.7L354.2,1007.6L317.3,1064.5L353.2,1073.3M330.5,964.7L359.3,1006.1L327.1,1066.5L363.4,1070.6M330.5,964.7L355.7,1006.8L337,1068.5L373.4,1067.1M330.5,964.7L346.4,1008.7L345,1074.8L382.9,1062.8M330.5,964.7L346.7,1008.7L354.3,1072.8L391.9,1057.6M330.5,964.7L352,1007.7L360.8,1071.2L397.6,1053.4M330.5,964.7L353.3,1007.5L361.9,1071L398.5,1052.7M330.5,964.7L354.6,1007.3L363,1070.8L399.5,1052M330.5,964.7L356,1007L364.1,1070.6L400.4,1051.2" stroke="#1FA39A" stroke-width="1.7" stroke-linejoin="round" fill="none"/>
<path d="M330.5,964.7h0M316.3,1012.6h0M317.9,1012.6h0M323.4,1012.4h0M330.4,1012h0M337.3,1011.5h0M345.7,1009.9h0M354.2,1007.6h0M359.3,1006.1h0M355.7,1006.8h0M346.4,1008.7h0M346.7,1008.7h0M352,1007.7h0M353.3,1007.5h0M354.6,1007.3h0M356,1007h0M268.7,1054.9h0M271,1054.9h0M278.7,1054.9h0M288.5,1056h0M298.1,1059.1h0M307.6,1062.2h0M317.3,1064.5h0M327.1,1066.5h0M337,1068.5h0M345,1074.8h0M354.3,1072.8h0M360.8,1071.2h0M361.9,1071h0M363,1070.8h0M364.1,1070.6h0" stroke="#1FA39A" stroke-width="14.0" stroke-linecap="round" fill="none"/>
<path d="M499.1,1080.3h0M500.4,1080.3h0M502.1,1080.3h0M505.1,1080.2h0M508.1,1080.1h0M511.1,1079.9h0M514.1,1079.8h0M517,1079.6h0M520,1079.4h0M523,1079.1h0M526,1078.7h0M528.9,1078.3h0M531.9,1077.9h0M534.9,1077.4h0M537.8,1076.9h0M540.7,1076.4h0M543.7,1075.8h0M546.6,1075.1h0M549.5,1074.3h0M552.3,1073.5h0M555.2,1072.7h0M556.2,1072.4h0M556.8,1072.2h0M557.5,1072h0M558.1,1071.8h0" stroke="#1F82B8" stroke-width="13.2" stroke-linecap="round" fill="none"/>
<path d="M508,958.8L520.8,1014.5L465.4,1057.9L499.1,1080.3M508,958.8L521.2,1014.3L466.8,1057.9L500.4,1080.3M508,958.8L522.7,1013.6L471.7,1058.1L505.1,1080.2M508,958.8L524.5,1012.7L477.9,1058.5L511.1,1079.9M508,958.8L526.4,1011.8L484,1059.4L517,1079.6M508,958.8L528.2,1010.9L490,1061.3L523,1079.1M508,958.8L530.1,1010L495.7,1063.6L528.9,1078.3M508,958.8L532,1009.2L501.3,1066.4L534.9,1077.4M508,958.8L533.8,1008.3L506.6,1069.9L540.7,1076.4M508,958.8L535.7,1007.4L511.4,1073.7L546.6,1075.1M508,958.8L537.5,1006.5L515.8,1078.2L552.3,1073.5M508,958.8L538.8,1005.9L518.3,1081.5L556.2,1072.4M508,958.8L539,1005.8L518.6,1082.1L556.8,1072.2M508,958.8L539.2,1005.7L519,1082.7L557.5,1072M508,958.8L539.4,1005.6L519.3,1083.3L558.1,1071.8" stroke="#1FA39A" stroke-width="1.7" stroke-linejoin="round" fill="none"/>
<path d="M508,958.8h0M520.8,1014.5h0M521.2,1014.3h0M522.7,1013.6h0M524.5,1012.7h0M526.4,1011.8h0M528.2,1010.9h0M530.1,1010h0M532,1009.2h0M533.8,1008.3h0M535.7,1007.4h0M537.5,1006.5h0M538.8,1005.9h0M539,1005.8h0M539.2,1005.7h0M539.4,1005.6h0M465.4,1057.9h0M466.8,1057.9h0M471.7,1058.1h0M477.9,1058.5h0M484,1059.4h0M490,1061.3h0M495.7,1063.6h0M501.3,1066.4h0M506.6,1069.9h0M511.4,1073.7h0M515.8,1078.2h0M518.3,1081.5h0M518.6,1082.1h0M519,1082.7h0M519.3,1083.3h0" stroke="#1FA39A" stroke-width="14.0" stroke-linecap="round" fill="none"/>
<path d="M667.9,1082.6h0M669.7,1082.8h0M671.6,1082.9h0M675.3,1083.1h0M679,1083.2h0M682.6,1083.3h0M686.3,1083.3h0M690,1083.2h0M693.6,1083h0M697.3,1082.5h0M701,1082h0M704.6,1081.3h0M708.2,1080.6h0M711.9,1079.9h0M715.5,1079.1h0M719.1,1078.4h0M722.7,1077.6h0M726.3,1076.7h0M729.8,1075.7h0M733.3,1074.6h0M736.8,1073.5h0M740.3,1072.3h0M743.7,1070.9h0M744.6,1070.5h0M745.4,1070.1h0M746.3,1069.8h0M747.1,1069.4h0" stroke="#1F82B8" stroke-width="13.2" stroke-linecap="round" fill="none"/>
<path d="M686.8,958L686.5,1012.6L632,1062.4L667.9,1082.6M686.8,958L687.1,1012.6L633.7,1061.4L669.7,1082.8M686.8,958L688.9,1012.5L638.8,1059.4L675.3,1083.1M686.8,958L691.3,1012.3L645.9,1060.1L682.6,1083.3M686.8,958L693.7,1012L653.2,1061.9L690,1083.2M686.8,958L696,1011.6L660.2,1063.9L697.3,1082.5M686.8,958L698.4,1011.2L667.1,1066.5L704.6,1081.3M686.8,958L700.7,1010.8L673.9,1069.4L711.9,1079.9M686.8,958L703,1010.3L680.7,1072.2L719.1,1078.4M686.8,958L705.3,1009.6L687.5,1075L726.3,1076.7M686.8,958L707.5,1008.9L694.2,1077.8L733.3,1074.6M686.8,958L709.8,1008L700.9,1080.9L740.3,1072.3M686.8,958L711.2,1007.4L705.1,1082.9L744.6,1070.5M686.8,958L711.5,1007.3L705.9,1083.3L745.4,1070.1M686.8,958L711.7,1007.2L706.7,1083.7L746.3,1069.8M686.8,958L712,1007.1L707.5,1084.1L747.1,1069.4" stroke="#1FA39A" stroke-width="1.7" stroke-linejoin="round" fill="none"/>
<path d="M686.8,958h0M686.5,1012.6h0M687.1,1012.6h0M688.9,1012.5h0M691.3,1012.3h0M693.7,1012h0M696,1011.6h0M698.4,1011.2h0M700.7,1010.8h0M703,1010.3h0M705.3,1009.6h0M707.5,1008.9h0M709.8,1008h0M711.2,1007.4h0M711.5,1007.3h0M711.7,1007.2h0M712,1007.1h0M632,1062.4h0M633.7,1061.4h0M638.8,1059.4h0M645.9,1060.1h0M653.2,1061.9h0M660.2,1063.9h0M667.1,1066.5h0M673.9,1069.4h0M680.7,1072.2h0M687.5,1075h0M694.2,1077.8h0M700.9,1080.9h0M705.1,1082.9h0M705.9,1083.3h0M706.7,1083.7h0M707.5,1084.1h0" stroke="#1FA39A" stroke-width="14.0" stroke-linecap="round" fill="none"/>
<path d="M844.3,1082.6h0M846.2,1082.5h0M848.1,1082.4h0M852,1082.1h0M855.8,1081.8h0M859.6,1081.6h0M863.5,1081.3h0M867.3,1081h0M871.1,1080.6h0M875,1080.3h0M878.8,1080h0M882.6,1079.7h0M886.5,1079.3h0M890.3,1078.9h0M894.1,1078.5h0M897.8,1077.9h0M901.6,1077.3h0M905.3,1076.4h0M909,1075.5h0M912.7,1074.4h0M916.4,1073.2h0M920,1072h0M923.7,1070.6h0M924.6,1070.3h0M925.5,1069.9h0M926.4,1069.6h0M927.3,1069.2h0" stroke="#1F82B8" stroke-width="13.2" stroke-linecap="round" fill="none"/>
<path d="M868.5,958.8L857,1012.6L805.4,1064.6L844.3,1082.6M868.5,958.8L857.9,1012.6L806.9,1063L846.2,1082.5M868.5,958.8L860.8,1012.6L811.9,1059.5L852,1082.1M868.5,958.8L864.5,1012.6L819.6,1059.9L859.6,1081.6M868.5,958.8L868.2,1012.5L827.7,1061.3L867.3,1081M868.5,958.8L871.9,1012.4L835.5,1063.1L875,1080.3M868.5,958.8L875.6,1012.3L843.1,1065.8L882.6,1079.7M868.5,958.8L879.2,1012.2L850.6,1068.7L890.3,1078.9M868.5,958.8L882.8,1011.6L858.2,1071.5L897.8,1077.9M868.5,958.8L886.4,1010.7L865.6,1074.5L905.3,1076.4M868.5,958.8L890,1009.5L873,1077.6L912.7,1074.4M868.5,958.8L893.5,1008.1L880.4,1080.8L920,1072M868.5,958.8L895.7,1007.2L885,1082.9L924.6,1070.3M868.5,958.8L896.1,1007L885.9,1083.3L925.5,1069.9M868.5,958.8L896.6,1006.8L886.8,1083.7L926.4,1069.6M868.5,958.8L897,1006.6L887.7,1084.1L927.3,1069.2" stroke="#1FA39A" stroke-width="1.7" stroke-linejoin="round" fill="none"/>
<path d="M868.5,958.8h0M857,1012.6h0M857.9,1012.6h0M860.8,1012.6h0M864.5,1012.6h0M868.2,1012.5h0M871.9,1012.4h0M875.6,1012.3h0M879.2,1012.2h0M882.8,1011.6h0M886.4,1010.7h0M890,1009.5h0M893.5,1008.1h0M895.7,1007.2h0M896.1,1007h0M896.6,1006.8h0M897,1006.6h0M805.4,1064.6h0M806.9,1063h0M811.9,1059.5h0M819.6,1059.9h0M827.7,1061.3h0M835.5,1063.1h0M843.1,1065.8h0M850.6,1068.7h0M858.2,1071.5h0M865.6,1074.5h0M873,1077.6h0M880.4,1080.8h0M885,1082.9h0M885.9,1083.3h0M886.8,1083.7h0M887.7,1084.1h0" stroke="#1FA39A" stroke-width="14.0" stroke-linecap="round" fill="none"/>
</g>
<g id="part_leg_build">
<path d="M1383,650C1383.8,646.2 1386.5,640.4 1390,637C1393.5,633.6 1398.6,629.6 1404.2,629.8C1409.8,630 1416.4,634.4 1423.4,638.4C1430.4,642.4 1439.7,648.4 1446.4,653.8C1453.1,659.2 1459.4,665.6 1463.7,671C1468,676.4 1470.7,682.2 1472.3,686.4C1473.9,690.6 1473.6,691.2 1473.3,696C1473,700.8 1472,708.8 1470.4,715.2C1468.8,721.6 1466.1,728 1463.7,734.4C1461.3,740.8 1457.8,747.8 1456,753.6C1454.2,759.4 1453.2,764.2 1452.8,769C1452.4,773.8 1452,778.9 1453.5,782.4C1455,785.9 1458.2,787.5 1461.8,790.1C1465.4,792.7 1472.2,795.9 1475.2,797.8C1478.2,799.7 1480,800.7 1480,801.7C1480,802.7 1479.8,803.9 1475.2,804C1470.6,804.1 1459.2,803.1 1452.2,802.6C1445.2,802.1 1438.1,802.1 1433,800.7C1427.9,799.3 1423.6,796.2 1421.5,794C1419.4,791.8 1419.7,789.3 1420.5,787.2C1421.3,785.1 1424.7,782.9 1426.3,781.5C1427.9,780.1 1429.1,782.6 1430.1,778.6C1431,774.6 1431.8,764.2 1432,757.5C1432.2,750.8 1431.1,744.1 1431.4,738.3C1431.7,732.5 1432.5,727.7 1433.9,722.9C1435.3,718.1 1438.1,713 1439.7,709.5C1441.3,706 1444,704.4 1443.5,701.8C1443,699.2 1441.1,697.3 1436.8,694.1C1432.5,690.9 1424,686.5 1417.6,682.6C1411.2,678.8 1403.8,674.9 1398.4,671C1393,667.1 1387.6,663 1385,659.5C1382.4,656 1382.2,653.8 1383,650Z" fill="#D9D9D9"/>
<line x1="1399" y1="616.3" x2="1399" y2="713.8" stroke="#000" stroke-width="3.4" stroke-dasharray="2.5 1.35"/>
<line x1="1399" y1="642.6" x2="1457" y2="689.7" stroke="#555" stroke-width="2"/>
<circle cx="1399" cy="642.6" r="5" fill="#555"/><circle cx="1457" cy="689.7" r="5" fill="#555"/>
<path d="M1399,694.3 Q1420,693.5 1434,680.5" fill="none" stroke="#000" stroke-width="2.9"/>
<path d="M1439.9,675.2 L1436.9,685.8 L1434.2,681.2 L1429.8,677 Z" fill="#000" stroke="#000" stroke-width="1" stroke-linejoin="miter"/>
</g>
<g id="part_curves_build">
<clipPath id="plotclip"><rect x="1171.2" y="190" width="537.6" height="850"/></clipPath>
<g id="knee-curves" clip-path="url(#plotclip)">
<path d="M1171.7,537.8L1174.4,541L1177.1,543.4L1179.7,544.7L1182.4,544.5L1185.1,543L1187.8,540.8L1190.5,538.5L1193.1,536.8L1195.8,536.2L1198.5,535.8L1201.2,535.5L1203.8,535.3L1206.5,535.1L1209.2,535L1211.9,534.9L1214.6,534.8L1217.2,535L1219.9,536.3L1222.6,538.1L1225.3,540L1228,541.4L1230.6,541.8L1233.3,541.6L1236,541.1L1238.7,540.5L1241.4,539.8L1244,539.1L1246.7,538.4L1249.4,538L1252.1,537.7L1254.7,537.5L1257.4,537.3L1260.1,537.2L1262.8,537L1265.5,536.9L1268.1,536.7L1270.8,536.6L1273.5,536.5L1276.2,536.4L1278.9,536.4L1281.5,536.3L1284.2,536.3L1286.9,536.4L1289.6,537.8L1292.3,540.2L1294.9,543.2L1297.6,546.4L1300.3,549.4L1303,552.7L1305.7,556.4L1308.3,560L1311,563.3L1313.7,565.8L1316.4,567.7L1319,569.6L1321.7,571.3L1324.4,572.8L1327.1,573.9L1329.8,574.6L1332.4,574.8L1335.1,573.9L1337.8,572L1340.5,569.5L1343.2,566.8L1345.8,564L1348.5,560L1351.2,555.7L1353.9,551.9L1356.6,549.4L1359.2,547.3L1361.9,545.2L1364.6,543.5L1367.3,542.1L1369.9,541.1L1372.6,540.8L1375.3,541.6L1378,543.6L1380.7,546.2L1383.3,548.8L1386,552L1388.7,556.3L1391.4,560.6L1394.1,564L1396.7,565.7L1399.4,565.6L1402.1,564.7L1404.8,563.4L1407.5,561.1L1410.1,556.2L1412.8,551.1L1415.5,548.8L1418.2,550.4L1420.8,554.2L1423.5,559L1426.2,563.7L1428.9,570L1431.6,576.4L1434.2,579.3L1436.9,578.3L1439.6,576L1442.3,573.3L1445,569.3L1447.6,563.7L1450.3,558.6L1453,555.9L1455.7,555.9L1458.4,556.1L1461,556.4L1463.7,556.9L1466.4,557.4L1469.1,557.9L1471.7,558.4L1474.4,558.9L1477.1,559.4L1479.8,559.7L1482.5,560L1485.1,560.2L1487.8,560.4L1490.5,560.5L1493.2,560.7L1495.9,560.9L1498.5,561.2L1501.2,561.5L1503.9,562.1L1506.6,562.8L1509.3,563.6L1511.9,564.6L1514.6,565.6L1517.3,566.7L1520,567.8L1522.6,569.4L1525.3,571.3L1528,573.4L1530.7,575.3L1533.4,576.9L1536,578L1538.7,578.3L1541.4,577.7L1544.1,576.5L1546.8,574.8L1549.4,572.8L1552.1,570.7L1554.8,568.7L1557.5,567L1560.2,565.3L1562.8,563.7L1565.5,562L1568.2,560.3L1570.9,558.7L1573.5,557.2L1576.2,555.8L1578.9,554.4L1581.6,553L1584.3,551.5L1586.9,550L1589.6,548.7L1592.3,547.7L1595,546.8L1597.7,546.4L1600.3,546.3L1603,546.6L1605.7,547L1608.4,547.6L1611.1,548L1613.7,548.3L1616.4,548.3L1619.1,548.2L1621.8,548L1624.5,547.7L1627.1,547.3L1629.8,546.9L1632.5,546.5L1635.2,546.1L1637.8,545.6L1640.5,544.9L1643.2,544.1L1645.9,543.2L1648.6,542.2L1651.2,541.3L1653.9,540.3L1656.6,539.3L1659.3,538.3L1662,537.2L1664.6,536L1667.3,534.7L1670,533.3L1672.7,532L1675.4,530.8L1678,529.8L1680.7,529.1L1683.4,528.8L1686.1,529.1L1688.7,530.3L1691.4,532L1694.1,533.9L1696.8,535.8L1699.5,537.7L1702.1,539.7L1704.8,541.9L1707.5,544.3" fill="none" stroke="#D95319" stroke-opacity="0.1" stroke-width="6.3" stroke-linecap="round" stroke-linejoin="round"/>
<path d="M1171.7,523.3L1174.4,523.6L1177.1,524L1179.7,524.3L1182.4,524.6L1185.1,524.9L1187.8,525.2L1190.5,525.5L1193.1,525.8L1195.8,526.1L1198.5,526.3L1201.2,526.6L1203.8,526.8L1206.5,527.1L1209.2,527.3L1211.9,527.6L1214.6,527.8L1217.2,528L1219.9,528.2L1222.6,528.3L1225.3,528.3L1228,528.3L1230.6,528.2L1233.3,528L1236,527.8L1238.7,527.6L1241.4,527.3L1244,527L1246.7,526.6L1249.4,526.2L1252.1,525.8L1254.7,525.3L1257.4,524.5L1260.1,523.5L1262.8,522.3L1265.5,520.9L1268.1,519.3L1270.8,517.6L1273.5,515.8L1276.2,513.4L1278.9,510.2L1281.5,506.5L1284.2,502.6L1286.9,498.6L1289.6,493.9L1292.3,489.2L1294.9,485.7L1297.6,482.9L1300.3,480.2L1303,477.9L1305.7,476.4L1308.3,475.8L1311,476.9L1313.7,479.5L1316.4,482.8L1319,486.2L1321.7,490.4L1324.4,495.1L1327.1,499.5L1329.8,503.4L1332.4,507.2L1335.1,510.8L1337.8,514.2L1340.5,517.2L1343.2,519.8L1345.8,522.2L1348.5,524.4L1351.2,526.4L1353.9,528.3L1356.6,530L1359.2,531.8L1361.9,533.5L1364.6,535L1367.3,536L1369.9,536.3L1372.6,535.9L1375.3,535.2L1378,534.3L1380.7,533.4L1383.3,532.7L1386,532.3L1388.7,532.9L1391.4,534.9L1394.1,537.7L1396.7,540.3L1399.4,542.8L1402.1,545.8L1404.8,548.7L1407.5,550.9L1410.1,551.8L1412.8,551.5L1415.5,550.7L1418.2,549.5L1420.8,548.1L1423.5,545.8L1426.2,541.7L1428.9,536.9L1431.6,532.3L1434.2,528.6L1436.9,525.1L1439.6,522.6L1442.3,521.4L1445,520.3L1447.6,519.5L1450.3,518.9L1453,518.4L1455.7,518.3L1458.4,518.3L1461,518.4L1463.7,518.5L1466.4,518.6L1469.1,518.8L1471.7,519L1474.4,519.2L1477.1,519.4L1479.8,519.7L1482.5,519.9L1485.1,520.1L1487.8,520.4L1490.5,520.6L1493.2,520.8L1495.9,521L1498.5,521.2L1501.2,521.4L1503.9,521.5L1506.6,521.7L1509.3,521.9L1511.9,522.1L1514.6,522.3L1517.3,522.5L1520,522.8L1522.6,523L1525.3,523.3L1528,523.6L1530.7,523.9L1533.4,524.3L1536,524.7L1538.7,525.1L1541.4,525.6L1544.1,526L1546.8,526.5L1549.4,527L1552.1,527.4L1554.8,527.9L1557.5,528.3L1560.2,528.7L1562.8,529.2L1565.5,529.8L1568.2,530.3L1570.9,530.9L1573.5,531.4L1576.2,531.9L1578.9,532.4L1581.6,532.8L1584.3,533L1586.9,533.2L1589.6,533.3L1592.3,533.3L1595,533.1L1597.7,532.9L1600.3,532.7L1603,532.4L1605.7,532L1608.4,531.7L1611.1,531.4L1613.7,531.2L1616.4,531L1619.1,530.8L1621.8,530.8L1624.5,530.8L1627.1,530.9L1629.8,531L1632.5,531.2L1635.2,531.4L1637.8,531.6L1640.5,531.9L1643.2,532.1L1645.9,532.4L1648.6,532.7L1651.2,533L1653.9,533.3L1656.6,533.6L1659.3,533.9L1662,534.3L1664.6,534.7L1667.3,535.2L1670,535.7L1672.7,536.2L1675.4,536.8L1678,537.5L1680.7,538.3L1683.4,539.4L1686.1,540.8L1688.7,542.6L1691.4,544.5L1694.1,546.4L1696.8,548.3L1699.5,550.1L1702.1,552L1704.8,553.9L1707.5,555.8" fill="none" stroke="#D95319" stroke-opacity="0.22" stroke-width="6.3" stroke-linecap="round" stroke-linejoin="round"/>
<path d="M1171.7,535.8L1174.4,535.9L1177.1,536L1179.7,536.1L1182.4,536.2L1185.1,536.3L1187.8,536.4L1190.5,536.6L1193.1,536.7L1195.8,536.8L1198.5,537L1201.2,537.1L1203.8,537.3L1206.5,537.5L1209.2,537.7L1211.9,538L1214.6,538.2L1217.2,538.5L1219.9,538.8L1222.6,539L1225.3,539.3L1228,539.5L1230.6,539.7L1233.3,539.8L1236,539.8L1238.7,539.8L1241.4,539.8L1244,539.8L1246.7,539.8L1249.4,539.7L1252.1,539.7L1254.7,539.7L1257.4,539.7L1260.1,539.6L1262.8,539.6L1265.5,539.6L1268.1,539.5L1270.8,539.5L1273.5,539.4L1276.2,539.4L1278.9,539.3L1281.5,539.2L1284.2,539L1286.9,538.8L1289.6,538.5L1292.3,538.2L1294.9,537.8L1297.6,537.5L1300.3,537.1L1303,536.7L1305.7,536.4L1308.3,536.1L1311,535.8L1313.7,535.6L1316.4,535.3L1319,535.1L1321.7,534.9L1324.4,534.7L1327.1,534.6L1329.8,534.4L1332.4,534.2L1335.1,534L1337.8,533.8L1340.5,533.5L1343.2,533.3L1345.8,533L1348.5,532.7L1351.2,532.4L1353.9,532.1L1356.6,531.8L1359.2,531.4L1361.9,531L1364.6,530.7L1367.3,530.3L1369.9,530L1372.6,529.6L1375.3,529.3L1378,529L1380.7,528.7L1383.3,528.5L1386,528.3L1388.7,528.1L1391.4,527.9L1394.1,527.8L1396.7,527.6L1399.4,527.4L1402.1,527.2L1404.8,527.1L1407.5,526.9L1410.1,526.7L1412.8,526.6L1415.5,526.5L1418.2,526.3L1420.8,526.2L1423.5,526.1L1426.2,526L1428.9,525.9L1431.6,525.9L1434.2,525.8L1436.9,525.8L1439.6,525.8L1442.3,525.8L1445,525.8L1447.6,525.8L1450.3,525.9L1453,525.9L1455.7,526L1458.4,526L1461,526.1L1463.7,526.2L1466.4,526.2L1469.1,526.3L1471.7,526.4L1474.4,526.5L1477.1,526.6L1479.8,526.7L1482.5,526.8L1485.1,526.9L1487.8,527.1L1490.5,527.2L1493.2,527.3L1495.9,527.5L1498.5,527.7L1501.2,528L1503.9,528.3L1506.6,528.7L1509.3,529.1L1511.9,529.6L1514.6,530.1L1517.3,530.6L1520,531.1L1522.6,531.6L1525.3,532.2L1528,532.7L1530.7,533.2L1533.4,533.7L1536,534.2L1538.7,534.7L1541.4,535.1L1544.1,535.5L1546.8,535.8L1549.4,536.1L1552.1,536.4L1554.8,536.6L1557.5,536.9L1560.2,537.1L1562.8,537.4L1565.5,537.6L1568.2,537.8L1570.9,538L1573.5,538.3L1576.2,538.5L1578.9,538.7L1581.6,539L1584.3,539.2L1586.9,539.5L1589.6,539.8L1592.3,540.1L1595,540.5L1597.7,540.9L1600.3,541.4L1603,541.9L1605.7,542.4L1608.4,542.9L1611.1,543.4L1613.7,543.9L1616.4,544.3L1619.1,544.7L1621.8,545.1L1624.5,545.4L1627.1,545.6L1629.8,545.8L1632.5,545.8L1635.2,545.7L1637.8,545.4L1640.5,545L1643.2,544.5L1645.9,543.9L1648.6,543.3L1651.2,542.7L1653.9,542.1L1656.6,541.6L1659.3,541.2L1662,540.9L1664.6,540.8L1667.3,540.8L1670,540.8L1672.7,540.8L1675.4,540.8L1678,540.9L1680.7,540.9L1683.4,541L1686.1,541.1L1688.7,541.2L1691.4,541.4L1694.1,541.6L1696.8,541.9L1699.5,542.1L1702.1,542.5L1704.8,542.9L1707.5,543.3" fill="none" stroke="#D95319" stroke-opacity="0.3" stroke-width="6.3" stroke-linecap="round" stroke-linejoin="round"/>
<path d="M1171.7,525.8L1174.4,526.2L1177.1,526.6L1179.7,526.9L1182.4,527.3L1185.1,527.7L1187.8,528L1190.5,528.3L1193.1,528.7L1195.8,529L1198.5,529.3L1201.2,529.6L1203.8,529.8L1206.5,530.1L1209.2,530.4L1211.9,530.6L1214.6,530.8L1217.2,531L1219.9,531.2L1222.6,531.4L1225.3,531.6L1228,531.8L1230.6,532L1233.3,532.1L1236,532.3L1238.7,532.4L1241.4,532.6L1244,532.7L1246.7,532.9L1249.4,533L1252.1,533.1L1254.7,533.2L1257.4,533.3L1260.1,533.4L1262.8,533.5L1265.5,533.6L1268.1,533.7L1270.8,533.7L1273.5,533.8L1276.2,533.9L1278.9,534L1281.5,534L1284.2,534.1L1286.9,534.2L1289.6,534.2L1292.3,534.2L1294.9,534.3L1297.6,534.3L1300.3,534.3L1303,534.3L1305.7,534.2L1308.3,534L1311,533.8L1313.7,533.5L1316.4,533.2L1319,532.9L1321.7,532.5L1324.4,532.1L1327.1,531.7L1329.8,531.3L1332.4,530.8L1335.1,530.4L1337.8,530L1340.5,529.7L1343.2,529.3L1345.8,528.9L1348.5,528.6L1351.2,528.2L1353.9,527.7L1356.6,527.3L1359.2,526.9L1361.9,526.4L1364.6,526L1367.3,525.6L1369.9,525.2L1372.6,524.8L1375.3,524.4L1378,524.1L1380.7,523.8L1383.3,523.5L1386,523.3L1388.7,523.1L1391.4,522.9L1394.1,522.7L1396.7,522.6L1399.4,522.4L1402.1,522.2L1404.8,522L1407.5,521.9L1410.1,521.7L1412.8,521.6L1415.5,521.4L1418.2,521.3L1420.8,521.2L1423.5,521.1L1426.2,521L1428.9,520.9L1431.6,520.9L1434.2,520.8L1436.9,520.8L1439.6,520.8L1442.3,520.8L1445,520.9L1447.6,521L1450.3,521.1L1453,521.2L1455.7,521.3L1458.4,521.5L1461,521.7L1463.7,521.9L1466.4,522L1469.1,522.2L1471.7,522.4L1474.4,522.6L1477.1,522.8L1479.8,522.9L1482.5,523L1485.1,523.1L1487.8,523.2L1490.5,523.3L1493.2,523.3L1495.9,523.3L1498.5,523.3L1501.2,523.3L1503.9,523.3L1506.6,523.3L1509.3,523.3L1511.9,523.3L1514.6,523.3L1517.3,523.3L1520,523.3L1522.6,523.3L1525.3,523.3L1528,523.3L1530.7,523.3L1533.4,523.3L1536,523.3L1538.7,523.3L1541.4,523.3L1544.1,523.3L1546.8,523.3L1549.4,523.3L1552.1,523.3L1554.8,523.2L1557.5,523.2L1560.2,523.1L1562.8,523L1565.5,522.9L1568.2,522.8L1570.9,522.7L1573.5,522.6L1576.2,522.4L1578.9,522.3L1581.6,522.1L1584.3,521.9L1586.9,521.8L1589.6,521.6L1592.3,521.4L1595,521.2L1597.7,521L1600.3,520.8L1603,520.5L1605.7,520.1L1608.4,519.7L1611.1,519.1L1613.7,518.6L1616.4,518L1619.1,517.4L1621.8,516.9L1624.5,516.5L1627.1,516.1L1629.8,515.9L1632.5,515.8L1635.2,516L1637.8,516.6L1640.5,517.4L1643.2,518.5L1645.9,519.7L1648.6,520.9L1651.2,522.2L1653.9,523.3L1656.6,524.6L1659.3,526.1L1662,527.7L1664.6,529.4L1667.3,530.9L1670,532.1L1672.7,533L1675.4,533.3L1678,532.9L1680.7,532L1683.4,530.8L1686.1,529.6L1688.7,528.7L1691.4,528.3L1694.1,528.6L1696.8,529.6L1699.5,531.1L1702.1,533.1L1704.8,535.5L1707.5,538.3" fill="none" stroke="#D95319" stroke-opacity="0.35" stroke-width="6.3" stroke-linecap="round" stroke-linejoin="round"/>
<path d="M1171.7,546.3L1174.4,548.2L1177.1,550L1179.7,551.6L1182.4,553.2L1185.1,554.6L1187.8,555.8L1190.5,557L1193.1,558.3L1195.8,559.4L1198.5,560.4L1201.2,561.1L1203.8,561.3L1206.5,560.9L1209.2,560L1211.9,558.8L1214.6,557.3L1217.2,555.9L1219.9,554.8L1222.6,553.8L1225.3,552.7L1228,551.6L1230.6,550.7L1233.3,550L1236,549.8L1238.7,549.9L1241.4,550.1L1244,550.4L1246.7,550.8L1249.4,551.2L1252.1,551.6L1254.7,552L1257.4,552.3L1260.1,552.5L1262.8,552.8L1265.5,553L1268.1,553.3L1270.8,553.5L1273.5,553.7L1276.2,553.8L1278.9,553.8L1281.5,553.6L1284.2,552.9L1286.9,552L1289.6,550.8L1292.3,549.6L1294.9,548.3L1297.6,546.9L1300.3,545.2L1303,543.3L1305.7,541.3L1308.3,539.2L1311,537.3L1313.7,535.3L1316.4,533L1319,530.8L1321.7,528.7L1324.4,527L1327.1,525.8L1329.8,524.9L1332.4,524.1L1335.1,523.4L1337.8,522.7L1340.5,522.2L1343.2,521.8L1345.8,521.5L1348.5,521.3L1351.2,521.2L1353.9,521.2L1356.6,521.1L1359.2,521.1L1361.9,521L1364.6,521L1367.3,520.9L1369.9,520.9L1372.6,520.9L1375.3,520.8L1378,520.8L1380.7,520.8L1383.3,520.8L1386,520.8L1388.7,520.8L1391.4,520.8L1394.1,520.9L1396.7,521L1399.4,521L1402.1,521.1L1404.8,521.2L1407.5,521.4L1410.1,521.5L1412.8,521.6L1415.5,521.8L1418.2,521.9L1420.8,522.1L1423.5,522.3L1426.2,522.4L1428.9,522.6L1431.6,522.8L1434.2,523L1436.9,523.1L1439.6,523.3L1442.3,523.5L1445,523.7L1447.6,523.9L1450.3,524.1L1453,524.3L1455.7,524.6L1458.4,524.8L1461,525.1L1463.7,525.3L1466.4,525.6L1469.1,525.9L1471.7,526.1L1474.4,526.4L1477.1,526.7L1479.8,527L1482.5,527.2L1485.1,527.5L1487.8,527.8L1490.5,528L1493.2,528.3L1495.9,528.6L1498.5,528.8L1501.2,529.1L1503.9,529.3L1506.6,529.6L1509.3,529.9L1511.9,530.1L1514.6,530.4L1517.3,530.7L1520,530.9L1522.6,531.2L1525.3,531.5L1528,531.7L1530.7,532L1533.4,532.2L1536,532.5L1538.7,532.7L1541.4,532.9L1544.1,533.1L1546.8,533.3L1549.4,533.5L1552.1,533.7L1554.8,533.8L1557.5,534L1560.2,534.1L1562.8,534.3L1565.5,534.4L1568.2,534.5L1570.9,534.7L1573.5,534.8L1576.2,535L1578.9,535.1L1581.6,535.3L1584.3,535.4L1586.9,535.6L1589.6,535.8L1592.3,536L1595,536.2L1597.7,536.4L1600.3,536.6L1603,536.9L1605.7,537.1L1608.4,537.4L1611.1,537.7L1613.7,538L1616.4,538.3L1619.1,538.7L1621.8,539L1624.5,539.5L1627.1,539.9L1629.8,540.4L1632.5,540.9L1635.2,541.5L1637.8,542L1640.5,542.7L1643.2,543.3L1645.9,544L1648.6,544.8L1651.2,545.7L1653.9,546.6L1656.6,547.6L1659.3,548.7L1662,549.7L1664.6,550.8L1667.3,552L1670,553.4L1672.7,554.8L1675.4,556.2L1678,557.4L1680.7,558.3L1683.4,559L1686.1,559.7L1688.7,560.3L1691.4,560.8L1694.1,561.2L1696.8,561.3L1699.5,561.2L1702.1,560.8L1704.8,560.1L1707.5,559.3" fill="none" stroke="#D95319" stroke-opacity="0.55" stroke-width="6.3" stroke-linecap="round" stroke-linejoin="round"/>
<path d="M1171.7,518.3L1174.4,518.4L1177.1,518.5L1179.7,518.7L1182.4,518.8L1185.1,518.9L1187.8,519L1190.5,519.2L1193.1,519.3L1195.8,519.4L1198.5,519.5L1201.2,519.7L1203.8,519.8L1206.5,519.9L1209.2,520L1211.9,520.2L1214.6,520.3L1217.2,520.4L1219.9,520.5L1222.6,520.7L1225.3,520.8L1228,520.9L1230.6,521.1L1233.3,521.2L1236,521.4L1238.7,521.5L1241.4,521.7L1244,521.9L1246.7,522L1249.4,522.2L1252.1,522.4L1254.7,522.5L1257.4,522.7L1260.1,522.8L1262.8,522.9L1265.5,523L1268.1,523.1L1270.8,523.2L1273.5,523.3L1276.2,523.3L1278.9,523.3L1281.5,523.3L1284.2,523.2L1286.9,523.1L1289.6,523L1292.3,522.8L1294.9,522.6L1297.6,522.4L1300.3,522.1L1303,521.9L1305.7,521.6L1308.3,521.4L1311,521.1L1313.7,520.8L1316.4,520.6L1319,520.3L1321.7,520.1L1324.4,519.8L1327.1,519.6L1329.8,519.4L1332.4,519.3L1335.1,519.2L1337.8,519L1340.5,518.9L1343.2,518.8L1345.8,518.6L1348.5,518.5L1351.2,518.3L1353.9,518.2L1356.6,518.1L1359.2,518L1361.9,517.9L1364.6,517.7L1367.3,517.7L1369.9,517.6L1372.6,517.5L1375.3,517.4L1378,517.4L1380.7,517.3L1383.3,517.3L1386,517.3L1388.7,517.3L1391.4,517.3L1394.1,517.3L1396.7,517.4L1399.4,517.4L1402.1,517.4L1404.8,517.5L1407.5,517.5L1410.1,517.6L1412.8,517.6L1415.5,517.7L1418.2,517.8L1420.8,517.8L1423.5,517.9L1426.2,518L1428.9,518L1431.6,518.1L1434.2,518.2L1436.9,518.2L1439.6,518.3L1442.3,518.4L1445,518.5L1447.6,518.6L1450.3,518.7L1453,518.8L1455.7,518.9L1458.4,519L1461,519.1L1463.7,519.2L1466.4,519.4L1469.1,519.5L1471.7,519.6L1474.4,519.7L1477.1,519.8L1479.8,519.9L1482.5,520L1485.1,520.1L1487.8,520.2L1490.5,520.3L1493.2,520.3L1495.9,520.3L1498.5,520.4L1501.2,520.4L1503.9,520.5L1506.6,520.5L1509.3,520.5L1511.9,520.6L1514.6,520.6L1517.3,520.6L1520,520.6L1522.6,520.7L1525.3,520.7L1528,520.7L1530.7,520.7L1533.4,520.8L1536,520.8L1538.7,520.8L1541.4,520.8L1544.1,520.8L1546.8,520.8L1549.4,520.7L1552.1,520.4L1554.8,520L1557.5,519.5L1560.2,518.9L1562.8,518.3L1565.5,517.7L1568.2,517.1L1570.9,516.6L1573.5,516.2L1576.2,515.9L1578.9,515.8L1581.6,516L1584.3,516.6L1586.9,517.4L1589.6,518.3L1592.3,519.2L1595,520L1597.7,520.6L1600.3,520.8L1603,520.7L1605.7,520.3L1608.4,519.8L1611.1,519.2L1613.7,518.4L1616.4,517.6L1619.1,516.7L1621.8,515.8L1624.5,514.8L1627.1,513.7L1629.8,512.4L1632.5,511L1635.2,509.4L1637.8,507.6L1640.5,505.8L1643.2,503.2L1645.9,499.7L1648.6,496L1651.2,492.8L1653.9,490.7L1656.6,490.6L1659.3,493.3L1662,497.8L1664.6,502.9L1667.3,507.8L1670,513.8L1672.7,519.7L1675.4,523.3L1678,524.9L1680.7,526.3L1683.4,527.4L1686.1,528.1L1688.7,528.3L1691.4,528.3L1694.1,528.2L1696.8,528.1L1699.5,527.8L1702.1,527.4L1704.8,526.7L1707.5,525.8" fill="none" stroke="#D95319" stroke-opacity="0.45" stroke-width="6.3" stroke-linecap="round" stroke-linejoin="round"/>
<path d="M1171.7,505.8L1174.4,504.6L1177.1,503.6L1179.7,502.6L1182.4,501.7L1185.1,501L1187.8,500.4L1190.5,499.9L1193.1,499.6L1195.8,499.4L1198.5,499.3L1201.2,499.4L1203.8,499.8L1206.5,500.4L1209.2,501.1L1211.9,501.8L1214.6,502.5L1217.2,503.2L1219.9,503.8L1222.6,504.2L1225.3,504.3L1228,504.3L1230.6,504.2L1233.3,504L1236,503.8L1238.7,503.5L1241.4,503.3L1244,503.1L1246.7,502.8L1249.4,502.6L1252.1,502.4L1254.7,502.3L1257.4,502.3L1260.1,502.4L1262.8,502.5L1265.5,502.8L1268.1,503.1L1270.8,503.4L1273.5,503.8L1276.2,504.2L1278.9,504.5L1281.5,504.8L1284.2,505.1L1286.9,505.2L1289.6,505.3L1292.3,505.3L1294.9,505.1L1297.6,505L1300.3,504.7L1303,504.4L1305.7,504.1L1308.3,503.8L1311,503.4L1313.7,503L1316.4,502.6L1319,502.2L1321.7,501.9L1324.4,501.6L1327.1,501.3L1329.8,501L1332.4,500.8L1335.1,500.6L1337.8,500.5L1340.5,500.3L1343.2,500.1L1345.8,499.9L1348.5,499.8L1351.2,499.7L1353.9,499.5L1356.6,499.4L1359.2,499.4L1361.9,499.3L1364.6,499.3L1367.3,499.3L1369.9,499.5L1372.6,499.7L1375.3,499.9L1378,500.2L1380.7,500.6L1383.3,500.9L1386,501.3L1388.7,501.7L1391.4,502.2L1394.1,502.6L1396.7,503L1399.4,503.4L1402.1,503.7L1404.8,504L1407.5,504.3L1410.1,504.5L1412.8,504.8L1415.5,505L1418.2,505.3L1420.8,505.5L1423.5,505.8L1426.2,506L1428.9,506.3L1431.6,506.5L1434.2,506.7L1436.9,506.9L1439.6,507L1442.3,507.1L1445,507.2L1447.6,507.3L1450.3,507.3L1453,507.3L1455.7,507.2L1458.4,507.1L1461,507L1463.7,506.8L1466.4,506.7L1469.1,506.5L1471.7,506.3L1474.4,506.1L1477.1,505.9L1479.8,505.8L1482.5,505.6L1485.1,505.5L1487.8,505.4L1490.5,505.3L1493.2,505.3L1495.9,505.4L1498.5,505.5L1501.2,505.7L1503.9,506L1506.6,506.3L1509.3,506.7L1511.9,507.1L1514.6,507.6L1517.3,508L1520,508.4L1522.6,508.8L1525.3,509.1L1528,509.4L1530.7,509.6L1533.4,509.7L1536,509.8L1538.7,509.8L1541.4,509.6L1544.1,509.4L1546.8,509.2L1549.4,508.8L1552.1,508.5L1554.8,508.1L1557.5,507.6L1560.2,507.2L1562.8,506.7L1565.5,506.3L1568.2,505.8L1570.9,505.2L1573.5,504.5L1576.2,503.7L1578.9,502.9L1581.6,502.1L1584.3,501.4L1586.9,501L1589.6,500.8L1592.3,501.2L1595,502.1L1597.7,502.9L1600.3,503.3L1603,501.5L1605.7,497.6L1608.4,493.3L1611.1,488.4L1613.7,482.7L1616.4,478.2L1619.1,476.9L1621.8,479.9L1624.5,485.4L1627.1,491.5L1629.8,495.8L1632.5,498.5L1635.2,500.9L1637.8,502.9L1640.5,504.6L1643.2,505.8L1645.9,506.8L1648.6,507.7L1651.2,508.5L1653.9,509.3L1656.6,509.9L1659.3,510.4L1662,510.7L1664.6,510.8L1667.3,510.7L1670,510.4L1672.7,510L1675.4,509.4L1678,508.8L1680.7,508.1L1683.4,507.4L1686.1,506.8L1688.7,506.2L1691.4,505.5L1694.1,504.8L1696.8,504.1L1699.5,503.3L1702.1,502.5L1704.8,501.7L1707.5,500.8" fill="none" stroke="#D95319" stroke-opacity="0.6" stroke-width="6.3" stroke-linecap="round" stroke-linejoin="round"/>
<path d="M1171.7,515.8L1174.4,516.2L1177.1,516.6L1179.7,516.9L1182.4,517.3L1185.1,517.7L1187.8,518L1190.5,518.3L1193.1,518.7L1195.8,519L1198.5,519.3L1201.2,519.6L1203.8,519.8L1206.5,520.1L1209.2,520.4L1211.9,520.6L1214.6,520.8L1217.2,521L1219.9,521.2L1222.6,521.3L1225.3,521.5L1228,521.6L1230.6,521.8L1233.3,521.9L1236,522L1238.7,522.2L1241.4,522.3L1244,522.5L1246.7,522.6L1249.4,522.8L1252.1,522.9L1254.7,523.1L1257.4,523.3L1260.1,523.5L1262.8,523.8L1265.5,524L1268.1,524.3L1270.8,524.6L1273.5,524.9L1276.2,525.2L1278.9,525.5L1281.5,525.8L1284.2,526.2L1286.9,526.5L1289.6,526.9L1292.3,527.2L1294.9,527.6L1297.6,527.9L1300.3,528.3L1303,528.7L1305.7,529.2L1308.3,529.7L1311,530.2L1313.7,530.8L1316.4,531.3L1319,531.9L1321.7,532.3L1324.4,532.7L1327.1,533L1329.8,533.2L1332.4,533.3L1335.1,533.3L1337.8,533.3L1340.5,533.2L1343.2,533.2L1345.8,533.1L1348.5,533L1351.2,532.9L1353.9,532.8L1356.6,532.7L1359.2,532.6L1361.9,532.4L1364.6,532.3L1367.3,532.1L1369.9,531.8L1372.6,531.3L1375.3,530.8L1378,530.2L1380.7,529.6L1383.3,529L1386,528.3L1388.7,527.7L1391.4,527.2L1394.1,526.7L1396.7,526.3L1399.4,526L1402.1,525.6L1404.8,525.3L1407.5,525L1410.1,524.7L1412.8,524.4L1415.5,524.1L1418.2,523.8L1420.8,523.6L1423.5,523.3L1426.2,523.1L1428.9,522.9L1431.6,522.7L1434.2,522.6L1436.9,522.4L1439.6,522.3L1442.3,522.2L1445,522.1L1447.6,522L1450.3,521.9L1453,521.8L1455.7,521.7L1458.4,521.7L1461,521.6L1463.7,521.5L1466.4,521.5L1469.1,521.4L1471.7,521.4L1474.4,521.3L1477.1,521.3L1479.8,521.3L1482.5,521.3L1485.1,521.3L1487.8,521.4L1490.5,521.6L1493.2,521.8L1495.9,522L1498.5,522.2L1501.2,522.5L1503.9,522.8L1506.6,523.1L1509.3,523.4L1511.9,523.6L1514.6,523.8L1517.3,524L1520,524.2L1522.6,524.3L1525.3,524.3L1528,524.3L1530.7,524.3L1533.4,524.3L1536,524.2L1538.7,524.2L1541.4,524.1L1544.1,524.1L1546.8,524L1549.4,524L1552.1,523.9L1554.8,523.8L1557.5,523.7L1560.2,523.6L1562.8,523.5L1565.5,523.4L1568.2,523.3L1570.9,523.1L1573.5,522.7L1576.2,522.1L1578.9,521.4L1581.6,520.7L1584.3,519.8L1586.9,519L1589.6,518.2L1592.3,517.4L1595,516.8L1597.7,516.2L1600.3,515.8L1603,515.5L1605.7,515.2L1608.4,515L1611.1,514.8L1613.7,514.6L1616.4,514.4L1619.1,514.2L1621.8,514L1624.5,513.9L1627.1,513.7L1629.8,513.5L1632.5,513.3L1635.2,513.1L1637.8,512.8L1640.5,512.6L1643.2,512.3L1645.9,512L1648.6,511.7L1651.2,511.5L1653.9,511.3L1656.6,511.1L1659.3,510.9L1662,510.8L1664.6,510.8L1667.3,510.8L1670,510.8L1672.7,510.8L1675.4,510.8L1678,510.8L1680.7,510.8L1683.4,510.8L1686.1,510.8L1688.7,510.8L1691.4,510.8L1694.1,510.8L1696.8,510.8L1699.5,510.8L1702.1,510.8L1704.8,510.8L1707.5,510.8" fill="none" stroke="#D95319" stroke-opacity="0.7" stroke-width="6.3" stroke-linecap="round" stroke-linejoin="round"/>
<path d="M1171.7,520.8L1174.4,521L1177.1,521.1L1179.7,521.3L1182.4,521.4L1185.1,521.6L1187.8,521.7L1190.5,521.8L1193.1,521.9L1195.8,521.9L1198.5,522L1201.2,522.1L1203.8,522.1L1206.5,522.2L1209.2,522.2L1211.9,522.2L1214.6,522.3L1217.2,522.3L1219.9,522.3L1222.6,522.3L1225.3,522.3L1228,522.3L1230.6,522.2L1233.3,522.1L1236,522L1238.7,521.8L1241.4,521.7L1244,521.5L1246.7,521.2L1249.4,521L1252.1,520.8L1254.7,520.6L1257.4,520.4L1260.1,520.1L1262.8,519.9L1265.5,519.8L1268.1,519.6L1270.8,519.5L1273.5,519.4L1276.2,519.3L1278.9,519.3L1281.5,519.3L1284.2,519.4L1286.9,519.4L1289.6,519.5L1292.3,519.6L1294.9,519.7L1297.6,519.9L1300.3,520L1303,520.2L1305.7,520.3L1308.3,520.4L1311,520.6L1313.7,520.7L1316.4,520.9L1319,521L1321.7,521.1L1324.4,521.2L1327.1,521.2L1329.8,521.3L1332.4,521.3L1335.1,521.3L1337.8,521.2L1340.5,521.2L1343.2,521.1L1345.8,520.9L1348.5,520.8L1351.2,520.6L1353.9,520.5L1356.6,520.3L1359.2,520.1L1361.9,519.9L1364.6,519.7L1367.3,519.5L1369.9,519.3L1372.6,519.1L1375.3,518.9L1378,518.7L1380.7,518.6L1383.3,518.4L1386,518.3L1388.7,518.2L1391.4,518L1394.1,517.9L1396.7,517.8L1399.4,517.6L1402.1,517.5L1404.8,517.4L1407.5,517.3L1410.1,517.1L1412.8,517L1415.5,516.9L1418.2,516.8L1420.8,516.7L1423.5,516.6L1426.2,516.5L1428.9,516.4L1431.6,516.4L1434.2,516.3L1436.9,516.3L1439.6,516.3L1442.3,516.3L1445,516.4L1447.6,516.5L1450.3,516.6L1453,516.8L1455.7,516.9L1458.4,517.1L1461,517.4L1463.7,517.6L1466.4,517.8L1469.1,518L1471.7,518.2L1474.4,518.5L1477.1,518.7L1479.8,518.8L1482.5,519L1485.1,519.1L1487.8,519.2L1490.5,519.3L1493.2,519.3L1495.9,519.3L1498.5,519.3L1501.2,519.3L1503.9,519.3L1506.6,519.2L1509.3,519.2L1511.9,519.2L1514.6,519.1L1517.3,519.1L1520,519L1522.6,519L1525.3,518.9L1528,518.9L1530.7,518.8L1533.4,518.7L1536,518.7L1538.7,518.6L1541.4,518.5L1544.1,518.4L1546.8,518.3L1549.4,518.1L1552.1,517.9L1554.8,517.5L1557.5,517L1560.2,516.4L1562.8,515.8L1565.5,515.1L1568.2,514.4L1570.9,513.7L1573.5,513L1576.2,512.3L1578.9,511.5L1581.6,510.7L1584.3,509.7L1586.9,508.8L1589.6,507.7L1592.3,506.7L1595,505.7L1597.7,504.7L1600.3,503.8L1603,502.9L1605.7,501.8L1608.4,500.7L1611.1,499.7L1613.7,498.7L1616.4,498L1619.1,497.5L1621.8,497.3L1624.5,497.4L1627.1,497.6L1629.8,497.9L1632.5,498.3L1635.2,498.7L1637.8,499.2L1640.5,499.8L1643.2,500.3L1645.9,501L1648.6,501.9L1651.2,503L1653.9,504.1L1656.6,505.2L1659.3,506.2L1662,506.9L1664.6,507.3L1667.3,507.5L1670,507.7L1672.7,507.9L1675.4,508L1678,508.1L1680.7,508.2L1683.4,508.3L1686.1,508.3L1688.7,508.2L1691.4,507.9L1694.1,507.4L1696.8,506.8L1699.5,506.1L1702.1,505.2L1704.8,504.3L1707.5,503.3" fill="none" stroke="#D95319" stroke-opacity="0.85" stroke-width="6.3" stroke-linecap="round" stroke-linejoin="round"/>
<path d="M1171.7,531.3L1174.4,531.1L1177.1,530.9L1179.7,530.6L1182.4,530.3L1185.1,530L1187.8,529.7L1190.5,529.4L1193.1,529L1195.8,528.7L1198.5,528.3L1201.2,527.9L1203.8,527.4L1206.5,526.9L1209.2,526.4L1211.9,525.8L1214.6,525.3L1217.2,524.7L1219.9,524.2L1222.6,523.7L1225.3,523.3L1228,522.9L1230.6,522.5L1233.3,522.1L1236,521.6L1238.7,521.2L1241.4,520.8L1244,520.4L1246.7,520L1249.4,519.7L1252.1,519.3L1254.7,519L1257.4,518.8L1260.1,518.6L1262.8,518.4L1265.5,518.3L1268.1,518.3L1270.8,518.3L1273.5,518.3L1276.2,518.4L1278.9,518.5L1281.5,518.5L1284.2,518.6L1286.9,518.7L1289.6,518.8L1292.3,518.9L1294.9,519L1297.6,519.1L1300.3,519.1L1303,519.2L1305.7,519.3L1308.3,519.3L1311,519.3L1313.7,519.3L1316.4,519.2L1319,519.1L1321.7,518.9L1324.4,518.7L1327.1,518.5L1329.8,518.2L1332.4,518L1335.1,517.7L1337.8,517.5L1340.5,517.2L1343.2,517L1345.8,516.8L1348.5,516.6L1351.2,516.4L1353.9,516.3L1356.6,516.2L1359.2,516.1L1361.9,516L1364.6,515.9L1367.3,515.8L1369.9,515.8L1372.6,515.7L1375.3,515.6L1378,515.5L1380.7,515.5L1383.3,515.4L1386,515.4L1388.7,515.3L1391.4,515.3L1394.1,515.3L1396.7,515.3L1399.4,515.3L1402.1,515.3L1404.8,515.3L1407.5,515.4L1410.1,515.4L1412.8,515.5L1415.5,515.5L1418.2,515.6L1420.8,515.7L1423.5,515.7L1426.2,515.8L1428.9,515.9L1431.6,516L1434.2,516.1L1436.9,516.2L1439.6,516.3L1442.3,516.4L1445,516.6L1447.6,516.8L1450.3,517L1453,517.2L1455.7,517.5L1458.4,517.8L1461,518.1L1463.7,518.4L1466.4,518.7L1469.1,519L1471.7,519.3L1474.4,519.6L1477.1,520L1479.8,520.3L1482.5,520.7L1485.1,521.1L1487.8,521.5L1490.5,521.9L1493.2,522.4L1495.9,522.8L1498.5,523.3L1501.2,523.8L1503.9,524.4L1506.6,525.1L1509.3,525.7L1511.9,526.4L1514.6,527.1L1517.3,527.7L1520,528.3L1522.6,528.9L1525.3,529.6L1528,530.2L1530.7,530.8L1533.4,531.2L1536,531.3L1538.7,531.2L1541.4,531L1544.1,530.6L1546.8,530.2L1549.4,529.7L1552.1,529.2L1554.8,528.7L1557.5,528.3L1560.2,527.8L1562.8,527.3L1565.5,526.7L1568.2,526.2L1570.9,525.7L1573.5,525.4L1576.2,525.3L1578.9,525.3L1581.6,525.5L1584.3,525.7L1586.9,525.9L1589.6,526.2L1592.3,526.5L1595,526.8L1597.7,527.1L1600.3,527.3L1603,527.5L1605.7,527.7L1608.4,527.9L1611.1,528.2L1613.7,528.4L1616.4,528.6L1619.1,528.8L1621.8,529L1624.5,529.1L1627.1,529.2L1629.8,529.3L1632.5,529.3L1635.2,529.3L1637.8,529.3L1640.5,529.3L1643.2,529.3L1645.9,529.3L1648.6,529.3L1651.2,529.3L1653.9,529.3L1656.6,529.3L1659.3,529.3L1662,529.3L1664.6,529.3L1667.3,529.3L1670,529.3L1672.7,529.3L1675.4,529.3L1678,529.2L1680.7,529.2L1683.4,529.2L1686.1,529.1L1688.7,529.1L1691.4,529.1L1694.1,529L1696.8,529L1699.5,528.9L1702.1,528.9L1704.8,528.8L1707.5,528.8" fill="none" stroke="#D95319" stroke-opacity="1.0" stroke-width="6.3" stroke-linecap="round" stroke-linejoin="round"/>
<path d="M1171.7,509.3L1174.4,509.3L1177.1,509.2L1179.7,509.1L1182.4,509.1L1185.1,509L1187.8,509L1190.5,508.9L1193.1,508.9L1195.8,508.8L1198.5,508.8L1201.2,508.7L1203.8,508.7L1206.5,508.6L1209.2,508.6L1211.9,508.5L1214.6,508.5L1217.2,508.4L1219.9,508.4L1222.6,508.3L1225.3,508.3L1228,508.2L1230.6,508.2L1233.3,508.1L1236,508.1L1238.7,508L1241.4,508L1244,507.9L1246.7,507.9L1249.4,507.8L1252.1,507.8L1254.7,507.7L1257.4,507.7L1260.1,507.6L1262.8,507.5L1265.5,507.5L1268.1,507.4L1270.8,507.4L1273.5,507.3L1276.2,507.3L1278.9,507.2L1281.5,507.2L1284.2,507.1L1286.9,507.1L1289.6,507L1292.3,507L1294.9,506.9L1297.6,506.8L1300.3,506.8L1303,506.7L1305.7,506.7L1308.3,506.6L1311,506.6L1313.7,506.5L1316.4,506.5L1319,506.4L1321.7,506.4L1324.4,506.3L1327.1,506.2L1329.8,506.2L1332.4,506.1L1335.1,506.1L1337.8,506L1340.5,506L1343.2,505.9L1345.8,505.9L1348.5,505.8L1351.2,505.8L1353.9,505.7L1356.6,505.7L1359.2,505.6L1361.9,505.6L1364.6,505.5L1367.3,505.5L1369.9,505.5L1372.6,505.4L1375.3,505.4L1378,505.3L1380.7,505.3L1383.3,505.3L1386,505.2L1388.7,505.2L1391.4,505.1L1394.1,505.1L1396.7,505.1L1399.4,505L1402.1,505L1404.8,504.9L1407.5,504.9L1410.1,504.8L1412.8,504.8L1415.5,504.7L1418.2,504.7L1420.8,504.7L1423.5,504.6L1426.2,504.5L1428.9,504.5L1431.6,504.4L1434.2,504.4L1436.9,504.3L1439.6,504.3L1442.3,504.2L1445,504.1L1447.6,504.1L1450.3,504L1453,503.9L1455.7,503.8L1458.4,503.8L1461,503.7L1463.7,503.6L1466.4,503.5L1469.1,503.4L1471.7,503.3L1474.4,503.2L1477.1,503.1L1479.8,503L1482.5,502.9L1485.1,502.8L1487.8,502.7L1490.5,502.5L1493.2,502.3L1495.9,502.1L1498.5,501.7L1501.2,501.3L1503.9,499.7L1506.6,496.1L1509.3,491.1L1511.9,485.1L1514.6,478.6L1517.3,471.6L1520,462.6L1522.6,452L1525.3,440.4L1528,428.3L1530.7,416.1L1533.4,402.8L1536,388.8L1538.7,374.5L1541.4,360.5L1544.1,346.5L1546.8,332.2L1549.4,318.2L1552.1,304.9L1554.8,292.7L1557.5,280.7L1560.2,269.5L1562.8,260.2L1565.5,253L1568.2,246.7L1570.9,241.6L1573.5,238.3L1576.2,236.4L1578.9,234.9L1581.6,234.3L1584.3,234.7L1586.9,235.7L1589.6,237.1L1592.3,238.9L1595,242L1597.7,246.6L1600.3,252.4L1603,258.9L1605.7,266.7L1608.4,276.9L1611.1,288.7L1613.7,301.3L1616.4,313.6L1619.1,326.1L1621.8,339.3L1624.5,352.8L1627.1,366L1629.8,378.7L1632.5,391.2L1635.2,403.6L1637.8,415.5L1640.5,426.8L1643.2,437.2L1645.9,447.3L1648.6,456.9L1651.2,465.6L1653.9,473.2L1656.6,479.7L1659.3,485.6L1662,490.7L1664.6,495.1L1667.3,499L1670,502.6L1672.7,504.3L1675.4,504.5L1678,504.6L1680.7,504.8L1683.4,504.9L1686.1,505L1688.7,505.1L1691.4,505.1L1694.1,505.2L1696.8,505.2L1699.5,505.3L1702.1,505.3L1704.8,505.3L1707.5,505.3" fill="none" stroke="#1FA39A" stroke-opacity="0.15" stroke-width="6.3" stroke-linecap="round" stroke-linejoin="round"/>
<path d="M1171.7,516.8L1174.4,516.7L1177.1,516.6L1179.7,516.6L1182.4,516.5L1185.1,516.4L1187.8,516.3L1190.5,516.3L1193.1,516.2L1195.8,516.1L1198.5,516L1201.2,515.9L1203.8,515.9L1206.5,515.8L1209.2,515.7L1211.9,515.6L1214.6,515.5L1217.2,515.5L1219.9,515.4L1222.6,515.3L1225.3,515.2L1228,515.1L1230.6,515.1L1233.3,515L1236,514.9L1238.7,514.8L1241.4,514.7L1244,514.7L1246.7,514.6L1249.4,514.5L1252.1,514.4L1254.7,514.3L1257.4,514.2L1260.1,514.2L1262.8,514.1L1265.5,514L1268.1,513.9L1270.8,513.8L1273.5,513.7L1276.2,513.7L1278.9,513.6L1281.5,513.5L1284.2,513.4L1286.9,513.3L1289.6,513.2L1292.3,513.2L1294.9,513.1L1297.6,513L1300.3,512.9L1303,512.8L1305.7,512.7L1308.3,512.7L1311,512.6L1313.7,512.5L1316.4,512.4L1319,512.3L1321.7,512.2L1324.4,512.1L1327.1,512.1L1329.8,512L1332.4,511.9L1335.1,511.8L1337.8,511.7L1340.5,511.6L1343.2,511.5L1345.8,511.5L1348.5,511.4L1351.2,511.3L1353.9,511.2L1356.6,511.2L1359.2,511.1L1361.9,511L1364.6,510.9L1367.3,510.9L1369.9,510.8L1372.6,510.7L1375.3,510.7L1378,510.6L1380.7,510.5L1383.3,510.4L1386,510.4L1388.7,510.3L1391.4,510.2L1394.1,510.2L1396.7,510.1L1399.4,510L1402.1,509.9L1404.8,509.9L1407.5,509.8L1410.1,509.7L1412.8,509.6L1415.5,509.6L1418.2,509.5L1420.8,509.4L1423.5,509.3L1426.2,509.2L1428.9,509.1L1431.6,509L1434.2,509L1436.9,508.9L1439.6,508.8L1442.3,508.7L1445,508.6L1447.6,508.5L1450.3,508.4L1453,508.2L1455.7,508.1L1458.4,508L1461,507.9L1463.7,507.8L1466.4,507.6L1469.1,507.5L1471.7,507.4L1474.4,507.2L1477.1,507.1L1479.8,507L1482.5,506.8L1485.1,506.7L1487.8,506.5L1490.5,506.3L1493.2,506.1L1495.9,505.7L1498.5,505.3L1501.2,503.3L1503.9,498.7L1506.6,492.4L1509.3,485.3L1511.9,477.4L1514.6,466.9L1517.3,454.4L1520,441L1522.6,427.4L1525.3,412.5L1528,396.6L1530.7,380.8L1533.4,365.2L1536,349.3L1538.7,333.9L1541.4,319.9L1544.1,306.4L1546.8,294L1549.4,284.2L1552.1,276.8L1554.8,270.6L1557.5,266.9L1560.2,264.7L1562.8,263.4L1565.5,263.4L1568.2,264.1L1570.9,265.3L1573.5,266.8L1576.2,269L1578.9,272.8L1581.6,277.7L1584.3,283.4L1586.9,289.9L1589.6,298.5L1592.3,308.9L1595,320.1L1597.7,331.4L1600.3,342.5L1603,354.3L1605.7,366.5L1608.4,378.5L1611.1,390.1L1613.7,401.4L1616.4,412.6L1619.1,423.5L1621.8,433.7L1624.5,443.2L1627.1,452.3L1629.8,461.1L1632.5,469.1L1635.2,476.1L1637.8,482L1640.5,487.3L1643.2,492L1645.9,496L1648.6,499.5L1651.2,502.8L1653.9,504.3L1656.6,504.4L1659.3,504.5L1662,504.6L1664.6,504.7L1667.3,504.8L1670,504.9L1672.7,505L1675.4,505L1678,505.1L1680.7,505.1L1683.4,505.2L1686.1,505.2L1688.7,505.2L1691.4,505.2L1694.1,505.3L1696.8,505.3L1699.5,505.3L1702.1,505.3L1704.8,505.3L1707.5,505.3" fill="none" stroke="#1FA39A" stroke-opacity="0.25" stroke-width="6.3" stroke-linecap="round" stroke-linejoin="round"/>
<path d="M1171.7,511.8L1174.4,511.8L1177.1,511.8L1179.7,511.8L1182.4,511.7L1185.1,511.7L1187.8,511.7L1190.5,511.7L1193.1,511.7L1195.8,511.7L1198.5,511.6L1201.2,511.6L1203.8,511.6L1206.5,511.6L1209.2,511.6L1211.9,511.6L1214.6,511.6L1217.2,511.5L1219.9,511.5L1222.6,511.5L1225.3,511.5L1228,511.5L1230.6,511.5L1233.3,511.4L1236,511.4L1238.7,511.4L1241.4,511.4L1244,511.4L1246.7,511.4L1249.4,511.4L1252.1,511.3L1254.7,511.3L1257.4,511.3L1260.1,511.3L1262.8,511.3L1265.5,511.3L1268.1,511.2L1270.8,511.2L1273.5,511.2L1276.2,511.2L1278.9,511.2L1281.5,511.2L1284.2,511.1L1286.9,511.1L1289.6,511.1L1292.3,511.1L1294.9,511.1L1297.6,511.1L1300.3,511.1L1303,511L1305.7,511L1308.3,511L1311,511L1313.7,511L1316.4,511L1319,510.9L1321.7,510.9L1324.4,510.9L1327.1,510.9L1329.8,510.9L1332.4,510.9L1335.1,510.8L1337.8,510.8L1340.5,510.8L1343.2,510.8L1345.8,510.8L1348.5,510.8L1351.2,510.7L1353.9,510.7L1356.6,510.7L1359.2,510.7L1361.9,510.7L1364.6,510.7L1367.3,510.6L1369.9,510.6L1372.6,510.6L1375.3,510.6L1378,510.6L1380.7,510.6L1383.3,510.6L1386,510.5L1388.7,510.5L1391.4,510.5L1394.1,510.5L1396.7,510.5L1399.4,510.5L1402.1,510.4L1404.8,510.4L1407.5,510.4L1410.1,510.4L1412.8,510.4L1415.5,510.4L1418.2,510.4L1420.8,510.4L1423.5,510.4L1426.2,510.4L1428.9,510.3L1431.6,510.3L1434.2,510.3L1436.9,510.3L1439.6,510.3L1442.3,510.3L1445,510.3L1447.6,510.3L1450.3,510.3L1453,510.3L1455.7,510.3L1458.4,510.2L1461,510.2L1463.7,510.2L1466.4,510.2L1469.1,510.2L1471.7,510.2L1474.4,510.2L1477.1,510.2L1479.8,510.2L1482.5,510.2L1485.1,510.1L1487.8,510.1L1490.5,510.1L1493.2,510.1L1495.9,510.1L1498.5,510.1L1501.2,510.1L1503.9,510.1L1506.6,510L1509.3,510L1511.9,510L1514.6,510L1517.3,510L1520,510L1522.6,509.9L1525.3,509.9L1528,509.9L1530.7,509.9L1533.4,509.8L1536,509.8L1538.7,509.8L1541.4,509.8L1544.1,509.7L1546.8,509.7L1549.4,509.7L1552.1,509.7L1554.8,509.6L1557.5,509.6L1560.2,509.6L1562.8,509.5L1565.5,509.5L1568.2,509.5L1570.9,509.4L1573.5,509.4L1576.2,509.3L1578.9,509.3L1581.6,509.2L1584.3,509.1L1586.9,508.9L1589.6,508.6L1592.3,508.3L1595,507.8L1597.7,505.3L1600.3,499.5L1603,491.7L1605.7,483.1L1608.4,472.3L1611.1,458.4L1613.7,442.9L1616.4,426.9L1619.1,409.4L1621.8,390.8L1624.5,372.3L1627.1,353.8L1629.8,335.2L1632.5,317.7L1635.2,301.7L1637.8,286.6L1640.5,274.3L1643.2,265.4L1645.9,258.2L1648.6,254.1L1651.2,251.8L1653.9,250.8L1656.6,251.7L1659.3,253.8L1662,257.5L1664.6,264.9L1667.3,274.5L1670,287.9L1672.7,305.8L1675.4,324.7L1678,344L1680.7,364.4L1683.4,384.1L1686.1,403.1L1688.7,421.5L1691.4,438L1694.1,453.4L1696.8,467.2L1699.5,478.4L1702.1,487.5L1704.8,494.8L1707.5,500.3" fill="none" stroke="#1FA39A" stroke-opacity="0.3" stroke-width="6.3" stroke-linecap="round" stroke-linejoin="round"/>
<path d="M1171.7,501.8L1174.4,501.8L1177.1,501.9L1179.7,501.9L1182.4,502L1185.1,502L1187.8,502L1190.5,502.1L1193.1,502.1L1195.8,502.2L1198.5,502.2L1201.2,502.2L1203.8,502.3L1206.5,502.3L1209.2,502.4L1211.9,502.4L1214.6,502.4L1217.2,502.5L1219.9,502.5L1222.6,502.6L1225.3,502.6L1228,502.6L1230.6,502.7L1233.3,502.7L1236,502.8L1238.7,502.8L1241.4,502.9L1244,502.9L1246.7,502.9L1249.4,503L1252.1,503L1254.7,503.1L1257.4,503.1L1260.1,503.1L1262.8,503.2L1265.5,503.2L1268.1,503.3L1270.8,503.3L1273.5,503.3L1276.2,503.4L1278.9,503.4L1281.5,503.5L1284.2,503.5L1286.9,503.6L1289.6,503.6L1292.3,503.6L1294.9,503.7L1297.6,503.7L1300.3,503.8L1303,503.8L1305.7,503.9L1308.3,503.9L1311,503.9L1313.7,504L1316.4,504L1319,504.1L1321.7,504.1L1324.4,504.1L1327.1,504.2L1329.8,504.2L1332.4,504.3L1335.1,504.3L1337.8,504.4L1340.5,504.4L1343.2,504.4L1345.8,504.5L1348.5,504.5L1351.2,504.6L1353.9,504.6L1356.6,504.7L1359.2,504.7L1361.9,504.7L1364.6,504.8L1367.3,504.8L1369.9,504.9L1372.6,504.9L1375.3,505L1378,505L1380.7,505.1L1383.3,505.1L1386,505.1L1388.7,505.2L1391.4,505.2L1394.1,505.3L1396.7,505.3L1399.4,505.4L1402.1,505.4L1404.8,505.5L1407.5,505.5L1410.1,505.6L1412.8,505.7L1415.5,505.7L1418.2,505.8L1420.8,505.8L1423.5,505.9L1426.2,505.9L1428.9,506L1431.6,506.1L1434.2,506.1L1436.9,506.2L1439.6,506.2L1442.3,506.3L1445,506.4L1447.6,506.4L1450.3,506.5L1453,506.5L1455.7,506.6L1458.4,506.7L1461,506.7L1463.7,506.8L1466.4,506.8L1469.1,506.9L1471.7,507L1474.4,507L1477.1,507.1L1479.8,507.1L1482.5,507.2L1485.1,507.2L1487.8,507.3L1490.5,507.3L1493.2,507.4L1495.9,507.4L1498.5,507.5L1501.2,507.5L1503.9,507.6L1506.6,507.6L1509.3,507.7L1511.9,507.7L1514.6,507.8L1517.3,507.8L1520,507.9L1522.6,507.9L1525.3,507.9L1528,508L1530.7,508L1533.4,508L1536,508.1L1538.7,508.1L1541.4,508.1L1544.1,508.2L1546.8,508.2L1549.4,508.2L1552.1,508.2L1554.8,508.2L1557.5,508.3L1560.2,508.3L1562.8,508.3L1565.5,508.3L1568.2,508.3L1570.9,508.3L1573.5,508.3L1576.2,508.3L1578.9,508.2L1581.6,508L1584.3,507.7L1586.9,507.3L1589.6,506.8L1592.3,502.7L1595,493.5L1597.7,481.9L1600.3,467.4L1603,447.7L1605.7,426.2L1608.4,403L1611.1,377.6L1613.7,352.6L1616.4,327.1L1619.1,303.2L1621.8,281.6L1624.5,262.6L1627.1,249.6L1629.8,240.1L1632.5,235.6L1635.2,233.4L1637.8,233.8L1640.5,235.5L1643.2,237.9L1645.9,242.9L1648.6,250.6L1651.2,259.9L1653.9,272.9L1656.6,289.7L1659.3,307.6L1662,325.4L1664.6,344.5L1667.3,363.7L1670,381.8L1672.7,399.7L1675.4,416.9L1678,432.5L1680.7,447L1683.4,460.6L1686.1,472.1L1688.7,481.4L1691.4,489.3L1694.1,495.6L1696.8,501.1L1699.5,504.3L1702.1,504.9L1704.8,505.2L1707.5,505.3" fill="none" stroke="#1FA39A" stroke-opacity="0.4" stroke-width="6.3" stroke-linecap="round" stroke-linejoin="round"/>
<path d="M1171.7,496.8L1174.4,496.9L1177.1,496.9L1179.7,497L1182.4,497L1185.1,497.1L1187.8,497.1L1190.5,497.2L1193.1,497.2L1195.8,497.3L1198.5,497.3L1201.2,497.4L1203.8,497.4L1206.5,497.5L1209.2,497.5L1211.9,497.6L1214.6,497.6L1217.2,497.7L1219.9,497.8L1222.6,497.8L1225.3,497.9L1228,497.9L1230.6,498L1233.3,498L1236,498.1L1238.7,498.1L1241.4,498.2L1244,498.2L1246.7,498.3L1249.4,498.4L1252.1,498.4L1254.7,498.5L1257.4,498.5L1260.1,498.6L1262.8,498.6L1265.5,498.7L1268.1,498.7L1270.8,498.8L1273.5,498.9L1276.2,498.9L1278.9,499L1281.5,499L1284.2,499.1L1286.9,499.1L1289.6,499.2L1292.3,499.2L1294.9,499.3L1297.6,499.4L1300.3,499.4L1303,499.5L1305.7,499.5L1308.3,499.6L1311,499.6L1313.7,499.7L1316.4,499.8L1319,499.8L1321.7,499.9L1324.4,499.9L1327.1,500L1329.8,500.1L1332.4,500.1L1335.1,500.2L1337.8,500.2L1340.5,500.3L1343.2,500.4L1345.8,500.4L1348.5,500.5L1351.2,500.6L1353.9,500.7L1356.6,500.7L1359.2,500.8L1361.9,500.9L1364.6,501L1367.3,501.1L1369.9,501.1L1372.6,501.2L1375.3,501.3L1378,501.4L1380.7,501.5L1383.3,501.5L1386,501.6L1388.7,501.7L1391.4,501.8L1394.1,501.9L1396.7,501.9L1399.4,502L1402.1,502.1L1404.8,502.2L1407.5,502.2L1410.1,502.3L1412.8,502.4L1415.5,502.5L1418.2,502.5L1420.8,502.6L1423.5,502.7L1426.2,502.7L1428.9,502.8L1431.6,502.8L1434.2,502.9L1436.9,502.9L1439.6,503L1442.3,503L1445,503.1L1447.6,503.1L1450.3,503.2L1453,503.2L1455.7,503.2L1458.4,503.2L1461,503.3L1463.7,503.3L1466.4,503.3L1469.1,503.3L1471.7,503.3L1474.4,503.3L1477.1,503.1L1479.8,502.9L1482.5,502.6L1485.1,502.3L1487.8,501.8L1490.5,499.8L1493.2,495.4L1495.9,489.3L1498.5,482.2L1501.2,474.7L1503.9,465.2L1506.6,453.4L1509.3,440.2L1511.9,426.6L1514.6,412.6L1517.3,397.2L1520,381.1L1522.6,365.2L1525.3,349.4L1528,333.3L1530.7,317.6L1533.4,302.9L1536,289.3L1538.7,276.1L1541.4,264.8L1544.1,256.3L1546.8,249.1L1549.4,243.5L1552.1,240.2L1554.8,238.2L1557.5,236.9L1560.2,236.9L1562.8,237.4L1565.5,238.3L1568.2,239.5L1570.9,240.8L1573.5,242.9L1576.2,246.1L1578.9,250.2L1581.6,254.9L1584.3,260.1L1586.9,266L1589.6,273.5L1592.3,282.4L1595,292.2L1597.7,302.3L1600.3,312.3L1603,322.3L1605.7,332.7L1608.4,343.5L1611.1,354.4L1613.7,365.2L1616.4,375.6L1619.1,385.7L1621.8,395.8L1624.5,405.8L1627.1,415.5L1629.8,424.7L1632.5,433.3L1635.2,441.6L1637.8,449.7L1640.5,457.4L1643.2,464.5L1645.9,471L1648.6,476.6L1651.2,481.6L1653.9,486.3L1656.6,490.4L1659.3,494.1L1662,497.3L1664.6,500.5L1667.3,503.1L1670,504.3L1672.7,504.5L1675.4,504.6L1678,504.7L1680.7,504.8L1683.4,504.9L1686.1,505L1688.7,505.1L1691.4,505.2L1694.1,505.2L1696.8,505.2L1699.5,505.3L1702.1,505.3L1704.8,505.3L1707.5,505.3" fill="none" stroke="#1FA39A" stroke-opacity="0.6" stroke-width="6.3" stroke-linecap="round" stroke-linejoin="round"/>
<path d="M1171.7,506.8L1174.4,506.8L1177.1,506.8L1179.7,506.9L1182.4,506.9L1185.1,506.9L1187.8,506.9L1190.5,506.9L1193.1,507L1195.8,507L1198.5,507L1201.2,507L1203.8,507.1L1206.5,507.1L1209.2,507.1L1211.9,507.1L1214.6,507.1L1217.2,507.2L1219.9,507.2L1222.6,507.2L1225.3,507.2L1228,507.2L1230.6,507.3L1233.3,507.3L1236,507.3L1238.7,507.3L1241.4,507.4L1244,507.4L1246.7,507.4L1249.4,507.4L1252.1,507.4L1254.7,507.5L1257.4,507.5L1260.1,507.5L1262.8,507.5L1265.5,507.5L1268.1,507.6L1270.8,507.6L1273.5,507.6L1276.2,507.6L1278.9,507.7L1281.5,507.7L1284.2,507.7L1286.9,507.7L1289.6,507.7L1292.3,507.8L1294.9,507.8L1297.6,507.8L1300.3,507.8L1303,507.9L1305.7,507.9L1308.3,507.9L1311,507.9L1313.7,507.9L1316.4,508L1319,508L1321.7,508L1324.4,508L1327.1,508.1L1329.8,508.1L1332.4,508.1L1335.1,508.1L1337.8,508.1L1340.5,508.2L1343.2,508.2L1345.8,508.2L1348.5,508.2L1351.2,508.3L1353.9,508.3L1356.6,508.3L1359.2,508.3L1361.9,508.3L1364.6,508.4L1367.3,508.4L1369.9,508.4L1372.6,508.4L1375.3,508.5L1378,508.5L1380.7,508.5L1383.3,508.5L1386,508.6L1388.7,508.6L1391.4,508.6L1394.1,508.6L1396.7,508.6L1399.4,508.7L1402.1,508.7L1404.8,508.7L1407.5,508.8L1410.1,508.8L1412.8,508.8L1415.5,508.8L1418.2,508.9L1420.8,508.9L1423.5,508.9L1426.2,509L1428.9,509L1431.6,509L1434.2,509L1436.9,509.1L1439.6,509.1L1442.3,509.1L1445,509.2L1447.6,509.2L1450.3,509.2L1453,509.3L1455.7,509.3L1458.4,509.3L1461,509.4L1463.7,509.4L1466.4,509.4L1469.1,509.5L1471.7,509.5L1474.4,509.5L1477.1,509.5L1479.8,509.6L1482.5,509.6L1485.1,509.6L1487.8,509.7L1490.5,509.7L1493.2,509.7L1495.9,509.8L1498.5,509.8L1501.2,509.8L1503.9,509.8L1506.6,509.9L1509.3,509.9L1511.9,509.9L1514.6,509.9L1517.3,510L1520,510L1522.6,510L1525.3,510L1528,510.1L1530.7,510.1L1533.4,510.1L1536,510.1L1538.7,510.1L1541.4,510.2L1544.1,510.2L1546.8,510.2L1549.4,510.2L1552.1,510.2L1554.8,510.2L1557.5,510.2L1560.2,510.3L1562.8,510.3L1565.5,510.3L1568.2,510.3L1570.9,510.3L1573.5,510.3L1576.2,510.3L1578.9,510.3L1581.6,510.3L1584.3,510.3L1586.9,510.3L1589.6,510.1L1592.3,510L1595,509.7L1597.7,509.3L1600.3,508.8L1603,505.1L1605.7,496.8L1608.4,486.1L1611.1,473.5L1613.7,456.1L1616.4,436.1L1619.1,415.4L1621.8,392.1L1624.5,368.4L1627.1,344.9L1629.8,321.4L1632.5,300.2L1635.2,280.3L1637.8,263.9L1640.5,252.5L1643.2,244.2L1645.9,240.3L1648.6,238.4L1651.2,238.8L1653.9,240.4L1656.6,242.8L1659.3,247.6L1662,255.1L1664.6,264.2L1667.3,276.8L1670,293.2L1672.7,310.6L1675.4,327.9L1678,346.4L1680.7,365L1683.4,382.7L1686.1,400.1L1688.7,416.8L1691.4,432L1694.1,446.1L1696.8,459.3L1699.5,470.5L1702.1,479.5L1704.8,487.2L1707.5,493.4" fill="none" stroke="#1FA39A" stroke-opacity="0.6" stroke-width="6.3" stroke-linecap="round" stroke-linejoin="round"/>
<path d="M1171.7,513.3L1174.4,513.3L1177.1,513.3L1179.7,513.2L1182.4,513.2L1185.1,513.2L1187.8,513.2L1190.5,513.1L1193.1,513.1L1195.8,513.1L1198.5,513.1L1201.2,513L1203.8,513L1206.5,513L1209.2,513L1211.9,512.9L1214.6,512.9L1217.2,512.9L1219.9,512.8L1222.6,512.8L1225.3,512.8L1228,512.8L1230.6,512.7L1233.3,512.7L1236,512.7L1238.7,512.7L1241.4,512.6L1244,512.6L1246.7,512.6L1249.4,512.6L1252.1,512.5L1254.7,512.5L1257.4,512.5L1260.1,512.5L1262.8,512.4L1265.5,512.4L1268.1,512.4L1270.8,512.4L1273.5,512.3L1276.2,512.3L1278.9,512.3L1281.5,512.3L1284.2,512.2L1286.9,512.2L1289.6,512.2L1292.3,512.2L1294.9,512.1L1297.6,512.1L1300.3,512.1L1303,512.1L1305.7,512L1308.3,512L1311,512L1313.7,511.9L1316.4,511.9L1319,511.9L1321.7,511.9L1324.4,511.8L1327.1,511.8L1329.8,511.8L1332.4,511.8L1335.1,511.7L1337.8,511.7L1340.5,511.7L1343.2,511.7L1345.8,511.6L1348.5,511.6L1351.2,511.6L1353.9,511.5L1356.6,511.5L1359.2,511.5L1361.9,511.5L1364.6,511.4L1367.3,511.4L1369.9,511.4L1372.6,511.4L1375.3,511.3L1378,511.3L1380.7,511.3L1383.3,511.3L1386,511.2L1388.7,511.2L1391.4,511.2L1394.1,511.2L1396.7,511.1L1399.4,511.1L1402.1,511.1L1404.8,511.1L1407.5,511.1L1410.1,511L1412.8,511L1415.5,511L1418.2,511L1420.8,511L1423.5,511L1426.2,510.9L1428.9,510.9L1431.6,510.9L1434.2,510.9L1436.9,510.9L1439.6,510.9L1442.3,510.8L1445,510.8L1447.6,510.8L1450.3,510.8L1453,510.8L1455.7,510.8L1458.4,510.7L1461,510.7L1463.7,510.7L1466.4,510.7L1469.1,510.7L1471.7,510.7L1474.4,510.6L1477.1,510.6L1479.8,510.6L1482.5,510.6L1485.1,510.6L1487.8,510.5L1490.5,510.5L1493.2,510.5L1495.9,510.5L1498.5,510.4L1501.2,510.4L1503.9,510.4L1506.6,510.4L1509.3,510.3L1511.9,510.3L1514.6,510.3L1517.3,510.2L1520,510.2L1522.6,510.2L1525.3,510.1L1528,510.1L1530.7,510.1L1533.4,510L1536,510L1538.7,509.9L1541.4,509.9L1544.1,509.8L1546.8,509.8L1549.4,509.7L1552.1,509.7L1554.8,509.6L1557.5,509.6L1560.2,509.5L1562.8,509.5L1565.5,509.4L1568.2,509.3L1570.9,509.3L1573.5,509.2L1576.2,509L1578.9,508.8L1581.6,508.5L1584.3,508.1L1586.9,507L1589.6,500.9L1592.3,491.3L1595,479.7L1597.7,463L1600.3,443.8L1603,423.1L1605.7,400.5L1608.4,378.2L1611.1,355.8L1613.7,335.6L1616.4,317.1L1619.1,303.6L1621.8,294.2L1624.5,289.5L1627.1,287.4L1629.8,287.8L1632.5,289.3L1635.2,291.7L1637.8,296.9L1640.5,304.3L1643.2,313.7L1645.9,327.2L1648.6,342.8L1651.2,358.2L1653.9,374.8L1656.6,391.5L1659.3,407.4L1662,423L1664.6,437.8L1667.3,451L1670,463.5L1672.7,474.5L1675.4,483.4L1678,490.6L1680.7,496.5L1683.4,501.4L1686.1,504.3L1688.7,504.6L1691.4,504.8L1694.1,505L1696.8,505.1L1699.5,505.2L1702.1,505.3L1704.8,505.3L1707.5,505.3" fill="none" stroke="#1FA39A" stroke-opacity="0.7" stroke-width="6.3" stroke-linecap="round" stroke-linejoin="round"/>
<path d="M1171.7,504.3L1174.4,504.3L1177.1,504.3L1179.7,504.3L1182.4,504.3L1185.1,504.4L1187.8,504.4L1190.5,504.4L1193.1,504.4L1195.8,504.4L1198.5,504.4L1201.2,504.4L1203.8,504.4L1206.5,504.4L1209.2,504.5L1211.9,504.5L1214.6,504.5L1217.2,504.5L1219.9,504.5L1222.6,504.5L1225.3,504.5L1228,504.5L1230.6,504.6L1233.3,504.6L1236,504.6L1238.7,504.6L1241.4,504.6L1244,504.6L1246.7,504.6L1249.4,504.6L1252.1,504.6L1254.7,504.7L1257.4,504.7L1260.1,504.7L1262.8,504.7L1265.5,504.7L1268.1,504.7L1270.8,504.7L1273.5,504.7L1276.2,504.8L1278.9,504.8L1281.5,504.8L1284.2,504.8L1286.9,504.8L1289.6,504.8L1292.3,504.8L1294.9,504.8L1297.6,504.8L1300.3,504.9L1303,504.9L1305.7,504.9L1308.3,504.9L1311,504.9L1313.7,504.9L1316.4,504.9L1319,504.9L1321.7,505L1324.4,505L1327.1,505L1329.8,505L1332.4,505L1335.1,505L1337.8,505L1340.5,505L1343.2,505.1L1345.8,505.1L1348.5,505.1L1351.2,505.1L1353.9,505.1L1356.6,505.1L1359.2,505.1L1361.9,505.2L1364.6,505.2L1367.3,505.2L1369.9,505.2L1372.6,505.2L1375.3,505.2L1378,505.3L1380.7,505.3L1383.3,505.3L1386,505.3L1388.7,505.3L1391.4,505.3L1394.1,505.4L1396.7,505.4L1399.4,505.4L1402.1,505.4L1404.8,505.4L1407.5,505.4L1410.1,505.5L1412.8,505.5L1415.5,505.5L1418.2,505.5L1420.8,505.5L1423.5,505.5L1426.2,505.6L1428.9,505.6L1431.6,505.6L1434.2,505.6L1436.9,505.6L1439.6,505.6L1442.3,505.6L1445,505.7L1447.6,505.7L1450.3,505.7L1453,505.7L1455.7,505.7L1458.4,505.7L1461,505.7L1463.7,505.7L1466.4,505.7L1469.1,505.8L1471.7,505.8L1474.4,505.8L1477.1,505.8L1479.8,505.8L1482.5,505.8L1485.1,505.8L1487.8,505.8L1490.5,505.8L1493.2,505.8L1495.9,505.8L1498.5,505.8L1501.2,505.6L1503.9,505.4L1506.6,505.2L1509.3,504.8L1511.9,504.3L1514.6,501.3L1517.3,494.5L1520,485.6L1522.6,475.8L1525.3,462.3L1528,445.8L1530.7,428.3L1533.4,409.7L1536,389.2L1538.7,368.7L1541.4,348.3L1544.1,327.7L1546.8,308.6L1549.4,291.1L1552.1,275L1554.8,263.2L1557.5,254L1560.2,247.9L1562.8,244.9L1565.5,243.4L1568.2,243.3L1570.9,243.3L1573.5,243.3L1576.2,243.3L1578.9,243.3L1581.6,243.4L1584.3,244L1586.9,245L1589.6,246.3L1592.3,247.8L1595,250.5L1597.7,254.3L1600.3,259L1603,264.3L1605.7,270.2L1608.4,277.7L1611.1,286.9L1613.7,297.1L1616.4,307.8L1619.1,318.3L1621.8,328.8L1624.5,339.9L1627.1,351.4L1629.8,362.8L1632.5,373.9L1635.2,384.6L1637.8,395.3L1640.5,405.9L1643.2,416.1L1645.9,425.8L1648.6,434.9L1651.2,443.6L1653.9,452.1L1656.6,460.1L1659.3,467.5L1662,474L1664.6,479.6L1667.3,484.7L1670,489.3L1672.7,493.3L1675.4,496.8L1678,500.1L1680.7,503L1683.4,504.3L1686.1,504.5L1688.7,504.7L1691.4,504.9L1694.1,505L1696.8,505.1L1699.5,505.2L1702.1,505.3L1704.8,505.3L1707.5,505.3" fill="none" stroke="#1FA39A" stroke-opacity="0.8" stroke-width="6.3" stroke-linecap="round" stroke-linejoin="round"/>
<path d="M1171.7,506.8L1174.4,506.8L1177.1,506.8L1179.7,506.8L1182.4,506.8L1185.1,506.8L1187.8,506.8L1190.5,506.8L1193.1,506.8L1195.8,506.8L1198.5,506.8L1201.2,506.8L1203.8,506.8L1206.5,506.8L1209.2,506.9L1211.9,506.9L1214.6,506.9L1217.2,506.9L1219.9,506.9L1222.6,506.9L1225.3,506.9L1228,506.9L1230.6,506.9L1233.3,506.9L1236,506.9L1238.7,506.9L1241.4,506.9L1244,506.9L1246.7,506.9L1249.4,506.9L1252.1,506.9L1254.7,506.9L1257.4,506.9L1260.1,506.9L1262.8,506.9L1265.5,506.9L1268.1,506.9L1270.8,506.9L1273.5,506.9L1276.2,506.9L1278.9,506.9L1281.5,507L1284.2,507L1286.9,507L1289.6,507L1292.3,507L1294.9,507L1297.6,507L1300.3,507L1303,507L1305.7,507L1308.3,507L1311,507L1313.7,507L1316.4,507L1319,507L1321.7,507L1324.4,507L1327.1,507L1329.8,507L1332.4,507L1335.1,507L1337.8,507L1340.5,507L1343.2,507L1345.8,507L1348.5,507L1351.2,507.1L1353.9,507.1L1356.6,507.1L1359.2,507.1L1361.9,507.1L1364.6,507.1L1367.3,507.1L1369.9,507.1L1372.6,507.1L1375.3,507.1L1378,507.1L1380.7,507.1L1383.3,507.1L1386,507.1L1388.7,507.1L1391.4,507.1L1394.1,507.1L1396.7,507.1L1399.4,507.1L1402.1,507.1L1404.8,507.2L1407.5,507.2L1410.1,507.2L1412.8,507.2L1415.5,507.2L1418.2,507.2L1420.8,507.2L1423.5,507.2L1426.2,507.2L1428.9,507.2L1431.6,507.2L1434.2,507.2L1436.9,507.2L1439.6,507.2L1442.3,507.2L1445,507.2L1447.6,507.2L1450.3,507.2L1453,507.2L1455.7,507.2L1458.4,507.3L1461,507.3L1463.7,507.3L1466.4,507.3L1469.1,507.3L1471.7,507.3L1474.4,507.3L1477.1,507.3L1479.8,507.3L1482.5,507.3L1485.1,507.3L1487.8,507.3L1490.5,507.3L1493.2,507.3L1495.9,507.3L1498.5,507.3L1501.2,507.3L1503.9,507.3L1506.6,507.3L1509.3,507.3L1511.9,507.3L1514.6,507.3L1517.3,507.1L1520,506.9L1522.6,506.6L1525.3,506.2L1528,505.8L1530.7,504.6L1533.4,502L1536,498.4L1538.7,494.1L1541.4,489.4L1544.1,484.4L1546.8,477.9L1549.4,470.2L1552.1,461.6L1554.8,452.6L1557.5,443.6L1560.2,434L1562.8,423.7L1565.5,413L1568.2,402.5L1570.9,392.2L1573.5,381.6L1576.2,371.1L1578.9,361L1581.6,351.7L1584.3,342.7L1586.9,334L1589.6,326.4L1592.3,320.4L1595,315.4L1597.7,311.1L1600.3,307.9L1603,306.1L1605.7,304.8L1608.4,304L1611.1,303.8L1613.7,304.2L1616.4,305L1619.1,306L1621.8,307.2L1624.5,309.2L1627.1,312.2L1629.8,315.9L1632.5,320.1L1635.2,324.7L1637.8,330.8L1640.5,338.1L1643.2,346.2L1645.9,354.6L1648.6,362.7L1651.2,371.1L1653.9,379.9L1656.6,388.9L1659.3,397.8L1662,406.4L1664.6,414.7L1667.3,423L1670,431.2L1672.7,439L1675.4,446.4L1678,453.2L1680.7,460L1683.4,466.4L1686.1,472.3L1688.7,477.6L1691.4,482.1L1694.1,486.2L1696.8,489.9L1699.5,493.1L1702.1,495.8L1704.8,498.2L1707.5,500.2" fill="none" stroke="#1FA39A" stroke-opacity="0.9" stroke-width="6.3" stroke-linecap="round" stroke-linejoin="round"/>
<path d="M1171.7,489.8L1174.4,491.7L1177.1,493.3L1179.7,494.8L1182.4,495.9L1185.1,496.8L1187.8,497.5L1190.5,498.1L1193.1,498.3L1195.8,498L1198.5,497.1L1201.2,496.1L1203.8,495L1206.5,494.1L1209.2,493.8L1211.9,493.9L1214.6,494L1217.2,494.3L1219.9,494.6L1222.6,495L1225.3,495.3L1228,495.7L1230.6,496.1L1233.3,496.7L1236,497.2L1238.7,497.8L1241.4,498.4L1244,499L1246.7,499.5L1249.4,499.9L1252.1,500.3L1254.7,500.6L1257.4,500.9L1260.1,501.2L1262.8,501.4L1265.5,501.7L1268.1,501.9L1270.8,502.2L1273.5,502.4L1276.2,502.6L1278.9,502.8L1281.5,502.9L1284.2,503.1L1286.9,503.2L1289.6,503.3L1292.3,503.4L1294.9,503.5L1297.6,503.6L1300.3,503.6L1303,503.7L1305.7,503.8L1308.3,503.8L1311,503.9L1313.7,503.9L1316.4,504L1319,504L1321.7,504.1L1324.4,504.1L1327.1,504.2L1329.8,504.2L1332.4,504.3L1335.1,504.4L1337.8,504.4L1340.5,504.5L1343.2,504.5L1345.8,504.6L1348.5,504.6L1351.2,504.7L1353.9,504.7L1356.6,504.7L1359.2,504.8L1361.9,504.8L1364.6,504.9L1367.3,504.9L1369.9,505L1372.6,505L1375.3,505.1L1378,505.1L1380.7,505.2L1383.3,505.2L1386,505.3L1388.7,505.4L1391.4,505.4L1394.1,505.5L1396.7,505.6L1399.4,505.7L1402.1,505.7L1404.8,505.8L1407.5,505.9L1410.1,506L1412.8,506.1L1415.5,506.2L1418.2,506.3L1420.8,506.3L1423.5,506.4L1426.2,506.5L1428.9,506.6L1431.6,506.6L1434.2,506.7L1436.9,506.8L1439.6,506.8L1442.3,506.8L1445,506.9L1447.6,506.9L1450.3,506.9L1453,507L1455.7,507L1458.4,507L1461,507.1L1463.7,507.1L1466.4,507.1L1469.1,507.1L1471.7,507.2L1474.4,507.2L1477.1,507.2L1479.8,507.3L1482.5,507.3L1485.1,507.4L1487.8,507.4L1490.5,507.5L1493.2,507.6L1495.9,507.7L1498.5,507.7L1501.2,507.8L1503.9,507.8L1506.6,507.6L1509.3,507L1511.9,506.1L1514.6,505L1517.3,503.8L1520,501.9L1522.6,499L1525.3,495.3L1528,490.9L1530.7,486L1533.4,480.7L1536,473.8L1538.7,465.6L1541.4,456.4L1544.1,446.8L1546.8,437.1L1549.4,426.8L1552.1,415.8L1554.8,404.3L1557.5,392.9L1560.2,381.8L1562.8,370.4L1565.5,359L1568.2,347.9L1570.9,337.7L1573.5,328L1576.2,318.4L1578.9,309.8L1581.6,302.8L1584.3,297.2L1586.9,292.3L1589.6,288.4L1592.3,286L1595,284.4L1597.7,283.3L1600.3,282.8L1603,283L1605.7,283.4L1608.4,284L1611.1,284.8L1613.7,285.7L1616.4,286.9L1619.1,288.7L1621.8,291.1L1624.5,294L1627.1,297.3L1629.8,301L1632.5,304.8L1635.2,309.5L1637.8,315.2L1640.5,321.6L1643.2,328.5L1645.9,335.6L1648.6,342.7L1651.2,349.7L1653.9,356.8L1656.6,364.3L1659.3,371.9L1662,379.6L1664.6,387.1L1667.3,394.5L1670,401.7L1672.7,408.8L1675.4,415.9L1678,422.9L1680.7,429.7L1683.4,436.3L1686.1,442.5L1688.7,448.4L1691.4,454.2L1694.1,459.8L1696.8,465.2L1699.5,470.3L1702.1,475L1704.8,479.2L1707.5,482.9" fill="none" stroke="#1FA39A" stroke-opacity="1.0" stroke-width="6.3" stroke-linecap="round" stroke-linejoin="round"/>
</g><g id="thigh-curves" clip-path="url(#plotclip)">
<path d="M1171.7,857.2L1174.4,856.7L1177.1,856.2L1179.7,855.8L1182.4,855.4L1185.1,855L1187.8,854.7L1190.5,854.3L1193.1,854L1195.8,853.7L1198.5,853.5L1201.2,853.2L1203.8,853L1206.5,852.8L1209.2,852.7L1211.9,852.5L1214.6,852.4L1217.2,852.3L1219.9,852.2L1222.6,852.2L1225.3,852.2L1228,852.2L1230.6,852.3L1233.3,852.3L1236,852.5L1238.7,852.6L1241.4,852.8L1244,852.9L1246.7,853.2L1249.4,853.4L1252.1,853.7L1254.7,853.9L1257.4,854.2L1260.1,854.6L1262.8,854.9L1265.5,855.2L1268.1,855.6L1270.8,856L1273.5,856.4L1276.2,856.8L1278.9,857.2L1281.5,857.7L1284.2,858.4L1286.9,859.1L1289.6,860.1L1292.3,861.1L1294.9,862.2L1297.6,863.5L1300.3,864.8L1303,866.2L1305.7,867.6L1308.3,869.1L1311,870.6L1313.7,872.1L1316.4,873.7L1319,875.2L1321.7,876.7L1324.4,878.1L1327.1,879.6L1329.8,880.9L1332.4,882.2L1335.1,883.5L1337.8,884.8L1340.5,886.1L1343.2,887.4L1345.8,888.7L1348.5,890.1L1351.2,891.4L1353.9,892.8L1356.6,894.1L1359.2,895.5L1361.9,896.8L1364.6,898.1L1367.3,899.4L1369.9,900.6L1372.6,901.8L1375.3,903L1378,904.1L1380.7,905.2L1383.3,906.2L1386,907.2L1388.7,908.2L1391.4,909.1L1394.1,910.1L1396.7,911.2L1399.4,912.2L1402.1,913.2L1404.8,914.2L1407.5,915.2L1410.1,916.1L1412.8,917L1415.5,917.9L1418.2,918.7L1420.8,919.5L1423.5,920.1L1426.2,920.7L1428.9,921.2L1431.6,921.6L1434.2,921.9L1436.9,922.1L1439.6,922.2L1442.3,922.2L1445,922.2L1447.6,922.2L1450.3,922.2L1453,922.2L1455.7,922.2L1458.4,922.2L1461,922.2L1463.7,922.2L1466.4,922.2L1469.1,922.2L1471.7,922.2L1474.4,922.2L1477.1,922.2L1479.8,922.2L1482.5,922.2L1485.1,922.2L1487.8,922.2L1490.5,922.2L1493.2,922.2L1495.9,922.2L1498.5,922.1L1501.2,922L1503.9,921.8L1506.6,921.7L1509.3,921.4L1511.9,921.2L1514.6,920.9L1517.3,920.6L1520,920.3L1522.6,920L1525.3,919.7L1528,919.3L1530.7,919L1533.4,918.7L1536,918.4L1538.7,918L1541.4,917.7L1544.1,917.5L1546.8,917.2L1549.4,917L1552.1,916.7L1554.8,916.5L1557.5,916.4L1560.2,916.2L1562.8,916L1565.5,915.9L1568.2,915.7L1570.9,915.5L1573.5,915.3L1576.2,915.2L1578.9,914.9L1581.6,914.7L1584.3,914.5L1586.9,914.2L1589.6,913.9L1592.3,913.5L1595,913.1L1597.7,912.7L1600.3,912.2L1603,911.3L1605.7,909.7L1608.4,907.4L1611.1,904.6L1613.7,901.4L1616.4,897.8L1619.1,894L1621.8,890.1L1624.5,886.1L1627.1,882.2L1629.8,877.9L1632.5,872.7L1635.2,867.2L1637.8,861.7L1640.5,856.6L1643.2,852.2L1645.9,848.1L1648.6,843.8L1651.2,840L1653.9,837.1L1656.6,835.7L1659.3,835.7L1662,835.8L1664.6,835.9L1667.3,836.1L1670,836.3L1672.7,836.5L1675.4,836.7L1678,837L1680.7,837.2L1683.4,837.4L1686.1,837.7L1688.7,838L1691.4,838.3L1694.1,838.7L1696.8,839L1699.5,839.4L1702.1,839.8L1704.8,840.3L1707.5,840.7" fill="none" stroke="#D95319" stroke-opacity="0.12" stroke-width="6.3" stroke-linecap="round" stroke-linejoin="round"/>
<path d="M1171.7,889.2L1174.4,887.8L1177.1,886.7L1179.7,885.9L1182.4,885.4L1185.1,885.2L1187.8,885.4L1190.5,886.2L1193.1,887.4L1195.8,888.6L1198.5,889.2L1201.2,889L1203.8,888.3L1206.5,887.5L1209.2,887.2L1211.9,888.6L1214.6,891.6L1217.2,894.1L1219.9,894.5L1222.6,892.3L1225.3,889.6L1228,888.2L1230.6,889L1233.3,890.7L1236,892.4L1238.7,893.2L1241.4,892.5L1244,890.8L1246.7,888.7L1249.4,886.6L1252.1,885.2L1254.7,884.4L1257.4,883.8L1260.1,883.3L1262.8,882.8L1265.5,882.3L1268.1,881.6L1270.8,880.8L1273.5,879.6L1276.2,878.1L1278.9,876.4L1281.5,874.9L1284.2,873.5L1286.9,872.6L1289.6,872.2L1292.3,872.6L1294.9,873.8L1297.6,875.8L1300.3,878.3L1303,881.5L1305.7,885.1L1308.3,891.1L1311,903.6L1313.7,915.5L1316.4,920.9L1319,924.9L1321.7,928.4L1324.4,931.1L1327.1,932.9L1329.8,933.7L1332.4,933.5L1335.1,932.9L1337.8,931.8L1340.5,930.4L1343.2,928.9L1345.8,927.3L1348.5,925.7L1351.2,923.9L1353.9,921.7L1356.6,919.3L1359.2,916.9L1361.9,914.6L1364.6,912.7L1367.3,911.1L1369.9,909.8L1372.6,908.5L1375.3,907.3L1378,906.1L1380.7,904.9L1383.3,903.6L1386,902.2L1388.7,900.7L1391.4,899.2L1394.1,897.6L1396.7,896L1399.4,894.2L1402.1,892.4L1404.8,890.3L1407.5,888.1L1410.1,885.5L1412.8,881.3L1415.5,876.9L1418.2,874L1420.8,874L1423.5,875.5L1426.2,877.7L1428.9,879.8L1431.6,881.1L1434.2,881L1436.9,880L1439.6,878.7L1442.3,877L1445,874.9L1447.6,873L1450.3,872.2L1453,872.6L1455.7,873.5L1458.4,874.9L1461,876.5L1463.7,878.2L1466.4,879.7L1469.1,881.3L1471.7,883.1L1474.4,885.1L1477.1,886.9L1479.8,888.5L1482.5,889.7L1485.1,890.5L1487.8,891.2L1490.5,891.8L1493.2,892.4L1495.9,892.9L1498.5,893.4L1501.2,894L1503.9,894.7L1506.6,895.5L1509.3,896.4L1511.9,897.4L1514.6,898.5L1517.3,899.5L1520,900.5L1522.6,901.4L1525.3,902.2L1528,902.9L1530.7,903.5L1533.4,904.1L1536,904.7L1538.7,905.3L1541.4,905.8L1544.1,906.5L1546.8,907.2L1549.4,908L1552.1,908.9L1554.8,909.9L1557.5,910.9L1560.2,911.9L1562.8,913L1565.5,914.1L1568.2,915.1L1570.9,916.2L1573.5,917.2L1576.2,918.2L1578.9,919.2L1581.6,920.1L1584.3,921.1L1586.9,922.1L1589.6,923L1592.3,924L1595,925.1L1597.7,926.1L1600.3,927.2L1603,928.3L1605.7,929.4L1608.4,930.5L1611.1,931.6L1613.7,932.9L1616.4,934.2L1619.1,935.6L1621.8,937.2L1624.5,939.3L1627.1,942.2L1629.8,945.5L1632.5,948.9L1635.2,952L1637.8,954.7L1640.5,956.5L1643.2,957.2L1645.9,956.8L1648.6,955.8L1651.2,954.3L1653.9,952.4L1656.6,950.2L1659.3,947.3L1662,943L1664.6,937.4L1667.3,930.6L1670,923L1672.7,913L1675.4,896.5L1678,878.9L1680.7,866.1L1683.4,861.7L1686.1,859.2L1688.7,858.2L1691.4,862.3L1694.1,869L1696.8,870.6L1699.5,869.8L1702.1,869.2L1704.8,871.2L1707.5,875.7" fill="none" stroke="#D95319" stroke-opacity="0.16" stroke-width="6.3" stroke-linecap="round" stroke-linejoin="round"/>
<path d="M1171.7,768.2L1174.4,768.7L1177.1,769.1L1179.7,769.6L1182.4,770L1185.1,770.5L1187.8,770.9L1190.5,771.4L1193.1,771.8L1195.8,772.2L1198.5,772.6L1201.2,773L1203.8,773.4L1206.5,773.8L1209.2,774.2L1211.9,774.6L1214.6,775L1217.2,775.4L1219.9,775.8L1222.6,776.1L1225.3,776.5L1228,776.9L1230.6,777.2L1233.3,777.5L1236,777.9L1238.7,778.2L1241.4,778.5L1244,778.8L1246.7,779.1L1249.4,779.4L1252.1,779.6L1254.7,779.9L1257.4,780.2L1260.1,780.4L1262.8,780.7L1265.5,780.9L1268.1,781.2L1270.8,781.5L1273.5,781.7L1276.2,782L1278.9,782.3L1281.5,782.6L1284.2,782.9L1286.9,783.1L1289.6,783.4L1292.3,783.7L1294.9,784L1297.6,784.3L1300.3,784.6L1303,785L1305.7,785.5L1308.3,786L1311,786.8L1313.7,787.7L1316.4,788.7L1319,789.8L1321.7,791.1L1324.4,792.3L1327.1,793.6L1329.8,794.9L1332.4,796.2L1335.1,797.5L1337.8,798.8L1340.5,800.1L1343.2,801.5L1345.8,803L1348.5,804.6L1351.2,806.5L1353.9,808.5L1356.6,810.7L1359.2,813.6L1361.9,817.3L1364.6,821.5L1367.3,825.9L1369.9,830L1372.6,834L1375.3,837.9L1378,842L1380.7,846.4L1383.3,851.2L1386,856.8L1388.7,863L1391.4,869.4L1394.1,875.4L1396.7,880.8L1399.4,885.9L1402.1,890.7L1404.8,895L1407.5,898.6L1410.1,901.8L1412.8,904.8L1415.5,907.6L1418.2,910L1420.8,912L1423.5,913.7L1426.2,915.3L1428.9,916.9L1431.6,918.2L1434.2,919.4L1436.9,920.2L1439.6,920.7L1442.3,921L1445,921.2L1447.6,921.4L1450.3,921.6L1453,921.8L1455.7,921.9L1458.4,922.1L1461,922.1L1463.7,922.2L1466.4,922.2L1469.1,922L1471.7,921.5L1474.4,920.7L1477.1,919.8L1479.8,918.6L1482.5,917.3L1485.1,916L1487.8,914.7L1490.5,913.4L1493.2,912.2L1495.9,910.9L1498.5,909.4L1501.2,907.7L1503.9,906.1L1506.6,904.6L1509.3,903.3L1511.9,902.5L1514.6,902.2L1517.3,902.3L1520,902.5L1522.6,902.8L1525.3,903.1L1528,903.5L1530.7,904L1533.4,904.4L1536,904.7L1538.7,905L1541.4,905.3L1544.1,905.6L1546.8,905.8L1549.4,906.1L1552.1,906.5L1554.8,906.8L1557.5,907.2L1560.2,907.6L1562.8,908.1L1565.5,908.6L1568.2,909.2L1570.9,909.8L1573.5,910.5L1576.2,911.3L1578.9,912.2L1581.6,913.4L1584.3,914.9L1586.9,916.7L1589.6,918.8L1592.3,920.9L1595,923.1L1597.7,925.2L1600.3,927.2L1603,929L1605.7,930.6L1608.4,932.2L1611.1,933.8L1613.7,935.5L1616.4,937.4L1619.1,939.6L1621.8,942.2L1624.5,945.8L1627.1,950.7L1629.8,956.4L1632.5,962.3L1635.2,968L1637.8,972.9L1640.5,976.6L1643.2,980.3L1645.9,983.8L1648.6,986.7L1651.2,988.7L1653.9,989.2L1656.6,987.7L1659.3,984.4L1662,979.5L1664.6,973.3L1667.3,966L1670,958L1672.7,947.8L1675.4,930.1L1678,909.3L1680.7,890.5L1683.4,876.9L1686.1,864L1688.7,853.3L1691.4,846.8L1694.1,844.5L1696.8,842.6L1699.5,841.2L1702.1,840.1L1704.8,839.4L1707.5,839.2" fill="none" stroke="#D95319" stroke-opacity="0.3" stroke-width="6.3" stroke-linecap="round" stroke-linejoin="round"/>
<path d="M1171.7,800.2L1174.4,803.1L1177.1,805.7L1179.7,808L1182.4,810L1185.1,811.7L1187.8,813.1L1190.5,814.2L1193.1,815L1195.8,815.5L1198.5,815.7L1201.2,815.5L1203.8,814.9L1206.5,813.8L1209.2,812.5L1211.9,811.1L1214.6,809.7L1217.2,808.4L1219.9,807.2L1222.6,805.9L1225.3,804.5L1228,803L1230.6,801.7L1233.3,800.4L1236,799.4L1238.7,798.7L1241.4,798.1L1244,797.6L1246.7,797.1L1249.4,796.7L1252.1,796.4L1254.7,796.2L1257.4,796.2L1260.1,796.4L1262.8,796.8L1265.5,797.4L1268.1,798.2L1270.8,799.1L1273.5,800.1L1276.2,801.1L1278.9,802.1L1281.5,803.4L1284.2,804.8L1286.9,806.5L1289.6,808.3L1292.3,810.3L1294.9,812.3L1297.6,814.6L1300.3,817.1L1303,819.9L1305.7,822.9L1308.3,826L1311,829.3L1313.7,832.7L1316.4,836L1319,839.4L1321.7,843L1324.4,846.7L1327.1,850.6L1329.8,854.4L1332.4,858.2L1335.1,862L1337.8,865.7L1340.5,869.4L1343.2,873.2L1345.8,876.9L1348.5,880.5L1351.2,883.8L1353.9,886.7L1356.6,889.3L1359.2,891.9L1361.9,894.3L1364.6,896.4L1367.3,898.2L1369.9,899.7L1372.6,900.9L1375.3,902L1378,903.1L1380.7,904L1383.3,904.9L1386,905.7L1388.7,906.4L1391.4,906.9L1394.1,907.4L1396.7,907.9L1399.4,908.2L1402.1,908.5L1404.8,908.7L1407.5,908.9L1410.1,909.2L1412.8,909.4L1415.5,909.6L1418.2,909.8L1420.8,910.1L1423.5,910.4L1426.2,910.9L1428.9,911.4L1431.6,911.8L1434.2,912.3L1436.9,912.6L1439.6,912.7L1442.3,912.6L1445,912.3L1447.6,911.9L1450.3,911.4L1453,910.7L1455.7,910L1458.4,909.3L1461,908.6L1463.7,907.9L1466.4,907.2L1469.1,906.5L1471.7,905.7L1474.4,904.9L1477.1,904.1L1479.8,903.2L1482.5,902.4L1485.1,901.6L1487.8,900.8L1490.5,900.2L1493.2,899.7L1495.9,899.3L1498.5,898.8L1501.2,898.4L1503.9,898L1506.6,897.7L1509.3,897.4L1511.9,897.3L1514.6,897.2L1517.3,897.3L1520,897.4L1522.6,897.6L1525.3,898L1528,898.4L1530.7,898.8L1533.4,899.3L1536,899.8L1538.7,900.4L1541.4,901L1544.1,901.6L1546.8,902.2L1549.4,902.9L1552.1,903.6L1554.8,904.5L1557.5,905.4L1560.2,906.4L1562.8,907.5L1565.5,908.7L1568.2,909.8L1570.9,911L1573.5,912.2L1576.2,913.5L1578.9,914.8L1581.6,916.2L1584.3,917.7L1586.9,919.3L1589.6,920.9L1592.3,922.5L1595,924.1L1597.7,925.6L1600.3,927.2L1603,928.7L1605.7,930.2L1608.4,931.6L1611.1,933.1L1613.7,934.6L1616.4,936.2L1619.1,937.9L1621.8,939.7L1624.5,941.9L1627.1,944.7L1629.8,947.7L1632.5,950.8L1635.2,953.7L1637.8,956L1640.5,957.6L1643.2,958.2L1645.9,957.9L1648.6,956.9L1651.2,955.5L1653.9,953.7L1656.6,951.6L1659.3,948.8L1662,944L1664.6,937.9L1667.3,930.7L1670,922.9L1672.7,914.3L1675.4,902.9L1678,890.2L1680.7,877.7L1683.4,867.2L1686.1,857.6L1688.7,848.2L1691.4,840.7L1694.1,837.2L1696.8,836.3L1699.5,835.6L1702.1,835.1L1704.8,834.8L1707.5,834.7" fill="none" stroke="#D95319" stroke-opacity="0.35" stroke-width="6.3" stroke-linecap="round" stroke-linejoin="round"/>
<path d="M1171.7,808.2L1174.4,808.9L1177.1,809.4L1179.7,809.8L1182.4,810.2L1185.1,810.4L1187.8,810.5L1190.5,810.6L1193.1,810.7L1195.8,810.7L1198.5,810.7L1201.2,810.5L1203.8,809.9L1206.5,809L1209.2,807.9L1211.9,806.5L1214.6,804.9L1217.2,803.2L1219.9,801.4L1222.6,799.5L1225.3,797.7L1228,795.6L1230.6,792.9L1233.3,790L1236,786.7L1238.7,783.4L1241.4,780.1L1244,777L1246.7,774.2L1249.4,771.5L1252.1,768.8L1254.7,766.2L1257.4,763.7L1260.1,761.4L1262.8,759.5L1265.5,757.9L1268.1,756.5L1270.8,755.2L1273.5,754.4L1276.2,754.3L1278.9,754.8L1281.5,755.9L1284.2,757.3L1286.9,758.9L1289.6,761.7L1292.3,765.3L1294.9,769.3L1297.6,772.9L1300.3,775.9L1303,778.6L1305.7,781.2L1308.3,783.7L1311,786.2L1313.7,788.8L1316.4,791.6L1319,794.6L1321.7,797.8L1324.4,801.1L1327.1,804.6L1329.8,808.1L1332.4,811.7L1335.1,815.3L1337.8,819L1340.5,822.6L1343.2,826.2L1345.8,829.8L1348.5,833.6L1351.2,837.4L1353.9,841.2L1356.6,845.1L1359.2,848.9L1361.9,852.6L1364.6,856.3L1367.3,859.8L1369.9,863.2L1372.6,866.5L1375.3,869.6L1378,872.7L1380.7,875.8L1383.3,878.8L1386,881.7L1388.7,884.5L1391.4,887.3L1394.1,890.1L1396.7,892.8L1399.4,895.4L1402.1,898L1404.8,900.6L1407.5,903.1L1410.1,905.6L1412.8,908L1415.5,910.3L1418.2,912.6L1420.8,914.8L1423.5,917L1426.2,919.3L1428.9,921.6L1431.6,923.8L1434.2,925.8L1436.9,927.5L1439.6,928.7L1442.3,929.6L1445,930.5L1447.6,931.4L1450.3,932.2L1453,932.9L1455.7,933.5L1458.4,934L1461,934.4L1463.7,934.6L1466.4,934.7L1469.1,934.6L1471.7,934.4L1474.4,934.1L1477.1,933.7L1479.8,933.2L1482.5,932.6L1485.1,932L1487.8,931.3L1490.5,930.5L1493.2,929.7L1495.9,928.5L1498.5,926.8L1501.2,924.6L1503.9,922.1L1506.6,919.4L1509.3,916.6L1511.9,913.9L1514.6,911.3L1517.3,909L1520,907.2L1522.6,905.6L1525.3,903.9L1528,902.3L1530.7,900.9L1533.4,900L1536,899.7L1538.7,899.8L1541.4,899.9L1544.1,900.2L1546.8,900.5L1549.4,900.9L1552.1,901.3L1554.8,901.8L1557.5,902.2L1560.2,902.6L1562.8,903.1L1565.5,903.6L1568.2,904.1L1570.9,904.7L1573.5,905.5L1576.2,906.3L1578.9,907.2L1581.6,908.5L1584.3,910.4L1586.9,912.7L1589.6,915.3L1592.3,918.2L1595,921.2L1597.7,924.2L1600.3,927.2L1603,930.6L1605.7,934.6L1608.4,938.7L1611.1,942.5L1613.7,945.5L1616.4,947.2L1619.1,948L1621.8,948.7L1624.5,949.2L1627.1,949.6L1629.8,949.7L1632.5,948.2L1635.2,944.2L1637.8,938.6L1640.5,932.2L1643.2,923.3L1645.9,910.8L1648.6,896.5L1651.2,882.2L1653.9,867.4L1656.6,851.4L1659.3,835.8L1662,822.2L1664.6,810.3L1667.3,799.1L1670,789.5L1672.7,782.2L1675.4,776.4L1678,771L1680.7,766.5L1683.4,763.4L1686.1,762.2L1688.7,763.2L1691.4,765.7L1694.1,769L1696.8,772.2L1699.5,775.4L1702.1,779L1704.8,783L1707.5,787.2" fill="none" stroke="#D95319" stroke-opacity="0.5" stroke-width="6.3" stroke-linecap="round" stroke-linejoin="round"/>
<path d="M1171.7,805.7L1174.4,798.6L1177.1,792.1L1179.7,786.6L1182.4,782L1185.1,777.6L1187.8,773.6L1190.5,770.3L1193.1,768.2L1195.8,767.2L1198.5,766.5L1201.2,766.2L1203.8,766.5L1206.5,767.6L1209.2,769.1L1211.9,770.7L1214.6,772L1217.2,772.7L1219.9,772.7L1222.6,772.5L1225.3,772.3L1228,772L1230.6,771.7L1233.3,771.4L1236,771.3L1238.7,771.2L1241.4,771.3L1244,771.6L1246.7,772L1249.4,772.5L1252.1,773.1L1254.7,773.8L1257.4,774.6L1260.1,775.3L1262.8,776.1L1265.5,776.8L1268.1,777.6L1270.8,778.5L1273.5,779.4L1276.2,780.4L1278.9,781.5L1281.5,782.6L1284.2,783.8L1286.9,785.1L1289.6,786.4L1292.3,787.8L1294.9,789.2L1297.6,790.8L1300.3,792.5L1303,794.4L1305.7,796.3L1308.3,798.4L1311,800.5L1313.7,802.8L1316.4,805.2L1319,807.8L1321.7,810.9L1324.4,814.3L1327.1,818L1329.8,821.8L1332.4,825.6L1335.1,829.4L1337.8,833.1L1340.5,836.6L1343.2,839.7L1345.8,842.9L1348.5,846.3L1351.2,849.6L1353.9,852.5L1356.6,854.5L1359.2,855.2L1361.9,855.1L1364.6,855L1367.3,854.8L1369.9,854.6L1372.6,854.3L1375.3,854.1L1378,853.9L1380.7,853.7L1383.3,853.7L1386,854.1L1388.7,855.1L1391.4,856.3L1394.1,857.6L1396.7,858.9L1399.4,859.9L1402.1,860.6L1404.8,860.7L1407.5,860.7L1410.1,860.7L1412.8,860.7L1415.5,860.7L1418.2,860.7L1420.8,860.7L1423.5,860.8L1426.2,861.4L1428.9,862.4L1431.6,863.5L1434.2,864.6L1436.9,865.4L1439.6,865.7L1442.3,865.1L1445,863.4L1447.6,861.2L1450.3,858.8L1453,856.6L1455.7,855.1L1458.4,854.7L1461,854.7L1463.7,854.7L1466.4,854.7L1469.1,854.7L1471.7,854.7L1474.4,854.7L1477.1,854.7L1479.8,854.7L1482.5,854.7L1485.1,854.6L1487.8,854.3L1490.5,853.8L1493.2,853.2L1495.9,852.5L1498.5,851.8L1501.2,851.1L1503.9,850.4L1506.6,849.8L1509.3,849.2L1511.9,848.6L1514.6,847.9L1517.3,847.2L1520,846.5L1522.6,845.9L1525.3,845.3L1528,844.8L1530.7,844.4L1533.4,844.2L1536,844.2L1538.7,844.6L1541.4,845.2L1544.1,846.1L1546.8,847.2L1549.4,848.4L1552.1,849.7L1554.8,851.3L1557.5,853.5L1560.2,856.1L1562.8,859L1565.5,862.2L1568.2,865.3L1570.9,868.5L1573.5,871.8L1576.2,875.3L1578.9,879.1L1581.6,882.9L1584.3,886.9L1586.9,890.9L1589.6,895.1L1592.3,899.8L1595,904.8L1597.7,909.6L1600.3,914.1L1603,917.9L1605.7,920.8L1608.4,923.6L1611.1,926.2L1613.7,928.4L1616.4,929.8L1619.1,930.2L1621.8,930.2L1624.5,930.2L1627.1,930.2L1629.8,930.1L1632.5,927.1L1635.2,920.6L1637.8,911.7L1640.5,900.4L1643.2,879.3L1645.9,854.4L1648.6,829.6L1651.2,803.4L1653.9,783.4L1656.6,768L1659.3,754.7L1662,744L1664.6,736.4L1667.3,730L1670,724.2L1672.7,719.5L1675.4,716.4L1678,715.2L1680.7,715.8L1683.4,717.6L1686.1,720.1L1688.7,723.2L1691.4,726.5L1694.1,730.4L1696.8,735.5L1699.5,741.8L1702.1,749L1704.8,757L1707.5,765.7" fill="none" stroke="#D95319" stroke-opacity="0.6" stroke-width="6.3" stroke-linecap="round" stroke-linejoin="round"/>
<path d="M1171.7,850.2L1174.4,849.6L1177.1,849L1179.7,848.4L1182.4,847.9L1185.1,847.3L1187.8,846.8L1190.5,846.3L1193.1,845.8L1195.8,845.3L1198.5,844.8L1201.2,844.4L1203.8,844L1206.5,843.6L1209.2,843.3L1211.9,843L1214.6,842.6L1217.2,842.2L1219.9,841.8L1222.6,841.3L1225.3,840.7L1228,839.9L1230.6,838.7L1233.3,837.2L1236,835.6L1238.7,833.9L1241.4,832.2L1244,830.6L1246.7,829.2L1249.4,827.8L1252.1,826.4L1254.7,825L1257.4,823.7L1260.1,822.6L1262.8,821.7L1265.5,821.1L1268.1,820.7L1270.8,820.3L1273.5,819.9L1276.2,819.6L1278.9,819.3L1281.5,819.1L1284.2,818.9L1286.9,818.8L1289.6,818.7L1292.3,818.7L1294.9,818.7L1297.6,818.8L1300.3,818.8L1303,818.9L1305.7,819.1L1308.3,819.2L1311,819.3L1313.7,819.5L1316.4,819.7L1319,820L1321.7,820.6L1324.4,821.4L1327.1,822.4L1329.8,823.4L1332.4,824.6L1335.1,825.8L1337.8,827L1340.5,828.1L1343.2,829.2L1345.8,830.2L1348.5,831.3L1351.2,832.4L1353.9,833.5L1356.6,834.6L1359.2,835.7L1361.9,836.7L1364.6,837.8L1367.3,838.8L1369.9,839.7L1372.6,840.6L1375.3,841.4L1378,842.1L1380.7,842.9L1383.3,843.6L1386,844.3L1388.7,845.1L1391.4,845.8L1394.1,846.7L1396.7,847.6L1399.4,848.5L1402.1,849.5L1404.8,850.5L1407.5,851.5L1410.1,852.6L1412.8,853.7L1415.5,854.8L1418.2,856L1420.8,857.2L1423.5,858.4L1426.2,859.6L1428.9,860.8L1431.6,862.1L1434.2,863.5L1436.9,865.2L1439.6,867.2L1442.3,870.3L1445,874.2L1447.6,877.7L1450.3,880.3L1453,882.8L1455.7,885L1458.4,887.1L1461,889L1463.7,890.9L1466.4,892.8L1469.1,894.7L1471.7,896.6L1474.4,898.5L1477.1,900.4L1479.8,902.2L1482.5,904L1485.1,905.6L1487.8,907.2L1490.5,908.7L1493.2,910L1495.9,911.2L1498.5,912.2L1501.2,913L1503.9,913.7L1506.6,914.4L1509.3,915L1511.9,915.5L1514.6,916L1517.3,916.4L1520,916.9L1522.6,917.3L1525.3,917.7L1528,918.2L1530.7,918.8L1533.4,919.3L1536,920L1538.7,920.7L1541.4,921.4L1544.1,922.2L1546.8,923L1549.4,923.8L1552.1,924.6L1554.8,925.5L1557.5,926.4L1560.2,927.2L1562.8,928.1L1565.5,928.9L1568.2,929.7L1570.9,930.5L1573.5,931.2L1576.2,931.9L1578.9,932.6L1581.6,933.2L1584.3,933.9L1586.9,934.6L1589.6,935.5L1592.3,936.4L1595,937.4L1597.7,938.9L1600.3,940.7L1603,942.8L1605.7,945L1608.4,947.1L1611.1,949L1613.7,950.5L1616.4,951.6L1619.1,952.5L1621.8,953.4L1624.5,954.1L1627.1,954.6L1629.8,954.7L1632.5,953.4L1635.2,950.7L1637.8,946.8L1640.5,942.2L1643.2,937.2L1645.9,930.2L1648.6,920.3L1651.2,908.8L1653.9,897.1L1656.6,886.5L1659.3,877.6L1662,868.9L1664.6,860.5L1667.3,852.4L1670,844.8L1672.7,837.6L1675.4,830.9L1678,824.4L1680.7,818.2L1683.4,812.2L1686.1,806.7L1688.7,801.9L1691.4,797.9L1694.1,794.6L1696.8,791.5L1699.5,788.7L1702.1,786.4L1704.8,784.5L1707.5,783.2" fill="none" stroke="#D95319" stroke-opacity="0.65" stroke-width="6.3" stroke-linecap="round" stroke-linejoin="round"/>
<path d="M1171.7,814.7L1174.4,815.3L1177.1,816L1179.7,816.7L1182.4,817.4L1185.1,818.2L1187.8,818.9L1190.5,819.7L1193.1,820.5L1195.8,821.4L1198.5,822.2L1201.2,823.1L1203.8,824.2L1206.5,825.4L1209.2,826.6L1211.9,827.8L1214.6,828.9L1217.2,830L1219.9,830.9L1222.6,831.7L1225.3,832.2L1228,832.6L1230.6,832.8L1233.3,833.1L1236,833.2L1238.7,833.4L1241.4,833.6L1244,833.8L1246.7,834L1249.4,834.3L1252.1,834.7L1254.7,835.3L1257.4,836.3L1260.1,837.6L1262.8,839L1265.5,840.6L1268.1,842.2L1270.8,844.1L1273.5,846.3L1276.2,848.9L1278.9,851.6L1281.5,854.4L1284.2,857.2L1286.9,859.8L1289.6,862.2L1292.3,864.4L1294.9,866.5L1297.6,868.5L1300.3,870.5L1303,872.5L1305.7,874.4L1308.3,876.3L1311,878.3L1313.7,880.2L1316.4,882.2L1319,884.2L1321.7,886.2L1324.4,888.3L1327.1,890.3L1329.8,892.4L1332.4,894.4L1335.1,896.4L1337.8,898.4L1340.5,900.3L1343.2,902.2L1345.8,904.1L1348.5,905.9L1351.2,907.8L1353.9,909.6L1356.6,911.5L1359.2,913.2L1361.9,915L1364.6,916.6L1367.3,918.2L1369.9,919.7L1372.6,921.1L1375.3,922.6L1378,924L1380.7,925.3L1383.3,926.6L1386,927.9L1388.7,929L1391.4,930.2L1394.1,931.2L1396.7,932.2L1399.4,933.1L1402.1,934L1404.8,934.9L1407.5,935.7L1410.1,936.5L1412.8,937.2L1415.5,937.9L1418.2,938.6L1420.8,939.2L1423.5,939.7L1426.2,940.2L1428.9,940.7L1431.6,941.1L1434.2,941.5L1436.9,941.9L1439.6,942.2L1442.3,942.5L1445,942.8L1447.6,943.1L1450.3,943.3L1453,943.5L1455.7,943.8L1458.4,944L1461,944.2L1463.7,944.5L1466.4,944.7L1469.1,944.9L1471.7,945.2L1474.4,945.4L1477.1,945.6L1479.8,945.8L1482.5,946.1L1485.1,946.3L1487.8,946.6L1490.5,946.9L1493.2,947.2L1495.9,947.6L1498.5,948L1501.2,948.6L1503.9,949.1L1506.6,949.7L1509.3,950.3L1511.9,950.8L1514.6,951.4L1517.3,951.8L1520,952.2L1522.6,952.5L1525.3,952.9L1528,953.2L1530.7,953.6L1533.4,953.9L1536,954.1L1538.7,954.4L1541.4,954.5L1544.1,954.7L1546.8,954.7L1549.4,954.6L1552.1,954.3L1554.8,953.8L1557.5,953.2L1560.2,952.4L1562.8,951.6L1565.5,950.7L1568.2,949.7L1570.9,948.5L1573.5,946.9L1576.2,945L1578.9,942.7L1581.6,940.3L1584.3,937.7L1586.9,935L1589.6,932.2L1592.3,929.2L1595,925.9L1597.7,922.3L1600.3,918.4L1603,914.4L1605.7,910.3L1608.4,906.2L1611.1,902.2L1613.7,898.1L1616.4,894L1619.1,889.7L1621.8,885.4L1624.5,881.2L1627.1,877.2L1629.8,873.2L1632.5,869.2L1635.2,865.2L1637.8,861.4L1640.5,857.9L1643.2,854.7L1645.9,851.7L1648.6,848.8L1651.2,846.1L1653.9,843.6L1656.6,841.4L1659.3,839.7L1662,838.2L1664.6,836.7L1667.3,835.3L1670,834.2L1672.7,833.5L1675.4,833.2L1678,833.3L1680.7,833.6L1683.4,834L1686.1,834.3L1688.7,834.6L1691.4,834.7L1694.1,834.6L1696.8,834.2L1699.5,833.5L1702.1,832.7L1704.8,831.8L1707.5,830.7" fill="none" stroke="#D95319" stroke-opacity="0.75" stroke-width="6.3" stroke-linecap="round" stroke-linejoin="round"/>
<path d="M1171.7,815.7L1174.4,817.1L1177.1,818.3L1179.7,819.5L1182.4,820.5L1185.1,821.4L1187.8,822.2L1190.5,822.8L1193.1,823.3L1195.8,823.6L1198.5,823.7L1201.2,823.7L1203.8,823.5L1206.5,823.2L1209.2,822.9L1211.9,822.5L1214.6,822.1L1217.2,821.6L1219.9,821.2L1222.6,820.7L1225.3,820.1L1228,819.4L1230.6,818.7L1233.3,817.9L1236,817.3L1238.7,816.6L1241.4,816.1L1244,815.8L1246.7,815.7L1249.4,815.9L1252.1,816.3L1254.7,817L1257.4,817.9L1260.1,818.9L1262.8,820.8L1265.5,823.6L1268.1,827.1L1270.8,830.9L1273.5,834.6L1276.2,838L1278.9,840.7L1281.5,843.2L1284.2,845.5L1286.9,847.7L1289.6,849.9L1292.3,852L1294.9,854.3L1297.6,856.6L1300.3,859L1303,861.4L1305.7,863.8L1308.3,866.2L1311,868.6L1313.7,870.9L1316.4,873.2L1319,875.5L1321.7,877.7L1324.4,879.8L1327.1,881.9L1329.8,884L1332.4,886.1L1335.1,888.2L1337.8,890.3L1340.5,892.5L1343.2,894.7L1345.8,897L1348.5,899.4L1351.2,901.9L1353.9,904.4L1356.6,906.9L1359.2,909.3L1361.9,911.7L1364.6,914L1367.3,916.2L1369.9,918.2L1372.6,920.1L1375.3,922L1378,923.8L1380.7,925.6L1383.3,927.3L1386,928.9L1388.7,930.4L1391.4,931.8L1394.1,933L1396.7,934.1L1399.4,935.1L1402.1,936L1404.8,936.9L1407.5,937.7L1410.1,938.4L1412.8,939.2L1415.5,939.9L1418.2,940.6L1420.8,941.4L1423.5,942.2L1426.2,943.1L1428.9,944.1L1431.6,945L1434.2,945.8L1436.9,946.4L1439.6,946.7L1442.3,946.8L1445,946.9L1447.6,946.9L1450.3,946.9L1453,947L1455.7,947L1458.4,947L1461,947.1L1463.7,947.2L1466.4,947.3L1469.1,947.5L1471.7,947.8L1474.4,948.1L1477.1,948.6L1479.8,949.1L1482.5,949.7L1485.1,950.3L1487.8,951L1490.5,951.7L1493.2,952.5L1495.9,953.3L1498.5,954.2L1501.2,955.1L1503.9,956.2L1506.6,957.6L1509.3,959.3L1511.9,961.1L1514.6,963.1L1517.3,965.2L1520,967.3L1522.6,969.5L1525.3,971.7L1528,973.8L1530.7,975.8L1533.4,977.7L1536,979.4L1538.7,981.1L1541.4,982.9L1544.1,984.6L1546.8,986.4L1549.4,988L1552.1,989.5L1554.8,990.9L1557.5,992.1L1560.2,993.1L1562.8,994L1565.5,995L1568.2,995.9L1570.9,996.7L1573.5,997.4L1576.2,997.9L1578.9,998.2L1581.6,998.1L1584.3,997.4L1586.9,995.9L1589.6,993.8L1592.3,991.3L1595,988.6L1597.7,984.3L1600.3,978.2L1603,970.8L1605.7,962.8L1608.4,954.7L1611.1,946L1613.7,936.1L1616.4,925.5L1619.1,914.8L1621.8,904.2L1624.5,894L1627.1,883.7L1629.8,873.4L1632.5,863.3L1635.2,853.5L1637.8,844L1640.5,834.5L1643.2,825.2L1645.9,816.4L1648.6,808.4L1651.2,801.5L1653.9,794.8L1656.6,788.4L1659.3,782.7L1662,778.4L1664.6,775.8L1667.3,774L1670,772.4L1672.7,771.5L1675.4,771.2L1678,771.9L1680.7,773.4L1683.4,775.3L1686.1,777.5L1688.7,779.7L1691.4,781.9L1694.1,784.4L1696.8,787.2L1699.5,790.3L1702.1,793.5L1704.8,797L1707.5,800.7" fill="none" stroke="#D95319" stroke-opacity="0.85" stroke-width="6.3" stroke-linecap="round" stroke-linejoin="round"/>
<path d="M1171.7,808.2L1174.4,809.8L1177.1,811.4L1179.7,813L1182.4,814.5L1185.1,816.1L1187.8,817.6L1190.5,819.1L1193.1,820.5L1195.8,822L1198.5,823.4L1201.2,824.8L1203.8,826.2L1206.5,827.5L1209.2,828.9L1211.9,830.2L1214.6,831.5L1217.2,832.8L1219.9,834.1L1222.6,835.4L1225.3,836.7L1228,838L1230.6,839.3L1233.3,840.7L1236,842L1238.7,843.3L1241.4,844.6L1244,846L1246.7,847.3L1249.4,848.8L1252.1,850.2L1254.7,851.7L1257.4,853.4L1260.1,855.1L1262.8,856.8L1265.5,858.5L1268.1,860.2L1270.8,861.9L1273.5,863.4L1276.2,864.9L1278.9,866.2L1281.5,867.4L1284.2,868.5L1286.9,869.6L1289.6,870.6L1292.3,871.6L1294.9,872.6L1297.6,873.6L1300.3,874.6L1303,875.7L1305.7,876.9L1308.3,878.1L1311,879.3L1313.7,880.6L1316.4,881.9L1319,883.2L1321.7,884.5L1324.4,885.9L1327.1,887.4L1329.8,888.9L1332.4,890.5L1335.1,892.2L1337.8,894L1340.5,895.9L1343.2,897.9L1345.8,899.9L1348.5,901.9L1351.2,903.9L1353.9,905.8L1356.6,907.7L1359.2,909.6L1361.9,911.5L1364.6,913.4L1367.3,915.3L1369.9,917.2L1372.6,919.1L1375.3,920.9L1378,922.7L1380.7,924.4L1383.3,926L1386,927.6L1388.7,929.1L1391.4,930.6L1394.1,932L1396.7,933.4L1399.4,934.8L1402.1,936.1L1404.8,937.3L1407.5,938.5L1410.1,939.6L1412.8,940.7L1415.5,941.6L1418.2,942.6L1420.8,943.4L1423.5,944.3L1426.2,945.1L1428.9,946L1431.6,946.8L1434.2,947.7L1436.9,948.7L1439.6,949.7L1442.3,950.8L1445,952L1447.6,953.2L1450.3,954.5L1453,955.7L1455.7,957L1458.4,958.3L1461,959.5L1463.7,960.7L1466.4,961.9L1469.1,962.9L1471.7,963.9L1474.4,964.8L1477.1,965.7L1479.8,966.6L1482.5,967.5L1485.1,968.4L1487.8,969.4L1490.5,970.4L1493.2,971.6L1495.9,972.9L1498.5,974.3L1501.2,975.9L1503.9,978.2L1506.6,981L1509.3,984.1L1511.9,987.4L1514.6,990.5L1517.3,993.3L1520,995.5L1522.6,997.1L1525.3,998.7L1528,1000.1L1530.7,1001.4L1533.4,1002.4L1536,1003L1538.7,1003.2L1541.4,1002.7L1544.1,1001.6L1546.8,1000L1549.4,998.2L1552.1,996.2L1554.8,993.7L1557.5,990.2L1560.2,986.1L1562.8,981.4L1565.5,976.4L1568.2,971.3L1570.9,966.1L1573.5,960.4L1576.2,954.1L1578.9,947.4L1581.6,940.7L1584.3,934.1L1586.9,927.9L1589.6,922L1592.3,916.1L1595,910.3L1597.7,904.7L1600.3,899.3L1603,894.4L1605.7,890L1608.4,885.9L1611.1,882.2L1613.7,878.7L1616.4,875.3L1619.1,871.9L1621.8,868.6L1624.5,865.1L1627.1,861.5L1629.8,857.7L1632.5,853.9L1635.2,850L1637.8,846.2L1640.5,842.6L1643.2,839.3L1645.9,836.3L1648.6,833.5L1651.2,830.7L1653.9,828L1656.6,825.5L1659.3,823.1L1662,821.1L1664.6,819.5L1667.3,818.4L1670,817.6L1672.7,816.9L1675.4,816.3L1678,815.8L1680.7,815.3L1683.4,815L1686.1,814.8L1688.7,814.7L1691.4,814.9L1694.1,815.4L1696.8,816.2L1699.5,817.3L1702.1,818.6L1704.8,820.1L1707.5,821.7" fill="none" stroke="#D95319" stroke-opacity="1.0" stroke-width="6.3" stroke-linecap="round" stroke-linejoin="round"/>
<path d="M1171.7,822.2L1174.4,823L1177.1,823.8L1179.7,824.7L1182.4,825.6L1185.1,826.6L1187.8,827.7L1190.5,828.7L1193.1,829.9L1195.8,831L1198.5,832.2L1201.2,833.4L1203.8,834.6L1206.5,835.9L1209.2,837.2L1211.9,838.6L1214.6,840L1217.2,841.6L1219.9,843.3L1222.6,845.2L1225.3,847.2L1228,849.5L1230.6,852.3L1233.3,855.5L1236,859L1238.7,862.7L1241.4,866.5L1244,870.5L1246.7,874.5L1249.4,878.4L1252.1,882.2L1254.7,886.1L1257.4,890.2L1260.1,894.4L1262.8,898.7L1265.5,903.1L1268.1,907.3L1270.8,911.4L1273.5,915.3L1276.2,918.9L1278.9,922.2L1281.5,925.3L1284.2,928.4L1286.9,931.4L1289.6,934.3L1292.3,936.8L1294.9,939.1L1297.6,940.9L1300.3,942.2L1303,943.1L1305.7,944L1308.3,944.7L1311,945.3L1313.7,945.8L1316.4,946.3L1319,946.8L1321.7,947.2L1324.4,947.6L1327.1,947.9L1329.8,948.2L1332.4,948.4L1335.1,948.7L1337.8,949L1340.5,949.3L1343.2,949.7L1345.8,950.3L1348.5,951L1351.2,951.9L1353.9,953L1356.6,954.1L1359.2,955.3L1361.9,956.5L1364.6,957.7L1367.3,958.9L1369.9,959.9L1372.6,960.9L1375.3,961.7L1378,962.3L1380.7,962.6L1383.3,962.7L1386,962.7L1388.7,962.7L1391.4,962.7L1394.1,962.7L1396.7,962.7L1399.4,962.7L1402.1,962.7L1404.8,962.7L1407.5,962.7L1410.1,962.7L1412.8,962.7L1415.5,962.7L1418.2,962.7L1420.8,962.7L1423.5,962.7L1426.2,962.9L1428.9,963.3L1431.6,963.7L1434.2,964.2L1436.9,964.7L1439.6,965.2L1442.3,965.7L1445,966.2L1447.6,966.8L1450.3,967.4L1453,968.1L1455.7,968.8L1458.4,969.6L1461,970.4L1463.7,971.3L1466.4,972.2L1469.1,973.2L1471.7,974.4L1474.4,975.7L1477.1,977.2L1479.8,978.7L1482.5,980.3L1485.1,982L1487.8,983.7L1490.5,985.5L1493.2,987.2L1495.9,989.4L1498.5,992L1501.2,994.5L1503.9,996.4L1506.6,997.2L1509.3,996.4L1511.9,994.2L1514.6,990.8L1517.3,986.8L1520,982.2L1522.6,975.5L1525.3,965.4L1528,953.2L1530.7,940L1533.4,927L1536,915L1538.7,902.8L1541.4,890.3L1544.1,877.7L1546.8,865.2L1549.4,853.3L1552.1,842.2L1554.8,831.7L1557.5,821.4L1560.2,811.4L1562.8,801.9L1565.5,792.9L1568.2,784.4L1570.9,776.6L1573.5,769.2L1576.2,762L1578.9,755.2L1581.6,748.8L1584.3,742.8L1586.9,737.2L1589.6,732.2L1592.3,727.5L1595,722.8L1597.7,718.4L1600.3,714.2L1603,710.4L1605.7,707.1L1608.4,704.3L1611.1,702.2L1613.7,700.4L1616.4,698.8L1619.1,697.2L1621.8,696L1624.5,695L1627.1,694.4L1629.8,694.2L1632.5,695L1635.2,696.8L1637.8,699.1L1640.5,701.9L1643.2,704.7L1645.9,708L1648.6,712L1651.2,716.6L1653.9,721.5L1656.6,726.3L1659.3,731L1662,736.1L1664.6,741.5L1667.3,747L1670,752.4L1672.7,757.7L1675.4,762.7L1678,767.3L1680.7,771.3L1683.4,774.7L1686.1,778L1688.7,781.1L1691.4,784.1L1694.1,786.9L1696.8,789.5L1699.5,791.8L1702.1,793.9L1704.8,795.7L1707.5,797.2" fill="none" stroke="#1FA39A" stroke-opacity="0.15" stroke-width="6.3" stroke-linecap="round" stroke-linejoin="round"/>
<path d="M1171.7,818.7L1174.4,819.9L1177.1,821.1L1179.7,822.3L1182.4,823.6L1185.1,824.9L1187.8,826.3L1190.5,827.7L1193.1,829.2L1195.8,830.7L1198.5,832.2L1201.2,833.7L1203.8,835.3L1206.5,836.9L1209.2,838.5L1211.9,840.2L1214.6,842L1217.2,843.8L1219.9,845.8L1222.6,847.9L1225.3,850.2L1228,852.8L1230.6,855.7L1233.3,858.9L1236,862.2L1238.7,865.7L1241.4,869.3L1244,873.1L1246.7,877.1L1249.4,881.1L1252.1,885.3L1254.7,889.6L1257.4,893.8L1260.1,898.1L1262.8,902.5L1265.5,907.1L1268.1,911.7L1270.8,915.9L1273.5,919.7L1276.2,923.2L1278.9,926.7L1281.5,929.8L1284.2,932.4L1286.9,934.5L1289.6,936.4L1292.3,938.3L1294.9,939.9L1297.6,941.4L1300.3,942.4L1303,943.1L1305.7,943.3L1308.3,943.4L1311,943.5L1313.7,943.6L1316.4,943.7L1319,943.7L1321.7,943.8L1324.4,943.9L1327.1,944L1329.8,944.2L1332.4,944.8L1335.1,946.3L1337.8,948.4L1340.5,950.5L1343.2,952.2L1345.8,953.5L1348.5,954.9L1351.2,956.2L1353.9,957.5L1356.6,958.6L1359.2,959.4L1361.9,960L1364.6,960.2L1367.3,960.1L1369.9,959.9L1372.6,959.5L1375.3,959L1378,958.5L1380.7,957.8L1383.3,957L1386,955.3L1388.7,952.7L1391.4,949.9L1394.1,947.6L1396.7,946.3L1399.4,945.2L1402.1,944.3L1404.8,943.4L1407.5,942.8L1410.1,942.4L1412.8,942.2L1415.5,942.3L1418.2,942.5L1420.8,942.9L1423.5,943.3L1426.2,943.9L1428.9,944.5L1431.6,945.1L1434.2,945.8L1436.9,946.5L1439.6,947.2L1442.3,947.9L1445,948.7L1447.6,949.5L1450.3,950.4L1453,951.4L1455.7,952.4L1458.4,953.5L1461,954.7L1463.7,955.9L1466.4,957.2L1469.1,958.6L1471.7,960.2L1474.4,961.9L1477.1,963.7L1479.8,965.7L1482.5,967.8L1485.1,970L1487.8,972.3L1490.5,974.7L1493.2,977.2L1495.9,980.6L1498.5,984.7L1501.2,988.2L1503.9,989.7L1506.6,989.1L1509.3,987.5L1511.9,985.1L1514.6,982.2L1517.3,976.9L1520,968.2L1522.6,957.8L1525.3,947.2L1528,936.4L1530.7,924.4L1533.4,911.7L1536,898.6L1538.7,885.3L1541.4,872.2L1544.1,859L1546.8,845.5L1549.4,831.9L1552.1,818.3L1554.8,805L1557.5,792.2L1560.2,779.6L1562.8,766.9L1565.5,754.5L1568.2,742.6L1570.9,731.8L1573.5,722.2L1576.2,712.9L1578.9,703.3L1581.6,694.7L1584.3,688.3L1586.9,685.3L1589.6,686L1592.3,688.7L1595,692.8L1597.7,697.5L1600.3,702.2L1603,707.2L1605.7,713L1608.4,719.3L1611.1,725.9L1613.7,732.9L1616.4,740.8L1619.1,749L1621.8,756.7L1624.5,763.5L1627.1,768.8L1629.8,773.5L1632.5,777.8L1635.2,781.6L1637.8,784.9L1640.5,787.8L1643.2,790.5L1645.9,793.1L1648.6,795.5L1651.2,797.6L1653.9,799.5L1656.6,801L1659.3,802.2L1662,803.1L1664.6,803.9L1667.3,804.5L1670,805.1L1672.7,805.6L1675.4,806.2L1678,806.7L1680.7,807.2L1683.4,807.8L1686.1,808.3L1688.7,808.8L1691.4,809.3L1694.1,809.9L1696.8,810.4L1699.5,810.8L1702.1,811.3L1704.8,811.8L1707.5,812.2" fill="none" stroke="#1FA39A" stroke-opacity="0.2" stroke-width="6.3" stroke-linecap="round" stroke-linejoin="round"/>
<path d="M1171.7,787.2L1174.4,788L1177.1,788.8L1179.7,789.7L1182.4,790.6L1185.1,791.6L1187.8,792.7L1190.5,793.7L1193.1,794.9L1195.8,796L1198.5,797.2L1201.2,798.4L1203.8,799.7L1206.5,801L1209.2,802.4L1211.9,803.9L1214.6,805.4L1217.2,807L1219.9,808.6L1222.6,810.4L1225.3,812.2L1228,814.2L1230.6,816.3L1233.3,818.6L1236,821.1L1238.7,823.6L1241.4,826.3L1244,829L1246.7,831.7L1249.4,834.5L1252.1,837.2L1254.7,840L1257.4,842.9L1260.1,846L1262.8,849.1L1265.5,852.2L1268.1,855.3L1270.8,858.4L1273.5,861.5L1276.2,864.4L1278.9,867.2L1281.5,869.9L1284.2,872.7L1286.9,875.4L1289.6,878.1L1292.3,880.8L1294.9,883.3L1297.6,885.8L1300.3,888.1L1303,890.2L1305.7,892.2L1308.3,894L1311,895.8L1313.7,897.4L1316.4,899L1319,900.5L1321.7,902L1324.4,903.4L1327.1,904.7L1329.8,906L1332.4,907.2L1335.1,908.4L1337.8,909.5L1340.5,910.6L1343.2,911.6L1345.8,912.6L1348.5,913.6L1351.2,914.5L1353.9,915.4L1356.6,916.3L1359.2,917.2L1361.9,918.1L1364.6,918.9L1367.3,919.7L1369.9,920.5L1372.6,921.3L1375.3,922L1378,922.7L1380.7,923.4L1383.3,924.1L1386,924.7L1388.7,925.3L1391.4,925.9L1394.1,926.5L1396.7,927L1399.4,927.5L1402.1,928L1404.8,928.5L1407.5,928.9L1410.1,929.3L1412.8,929.7L1415.5,930L1418.2,930.3L1420.8,930.6L1423.5,930.8L1426.2,931.1L1428.9,931.3L1431.6,931.5L1434.2,931.7L1436.9,932L1439.6,932.2L1442.3,932.4L1445,932.7L1447.6,932.9L1450.3,933.1L1453,933.3L1455.7,933.5L1458.4,933.8L1461,934L1463.7,934.3L1466.4,934.7L1469.1,935.1L1471.7,935.7L1474.4,936.3L1477.1,937.1L1479.8,937.8L1482.5,938.7L1485.1,939.6L1487.8,940.4L1490.5,941.3L1493.2,942.2L1495.9,943.1L1498.5,944.1L1501.2,945.2L1503.9,946.3L1506.6,947.4L1509.3,948.5L1511.9,949.6L1514.6,950.6L1517.3,951.5L1520,952.2L1522.6,952.8L1525.3,953.4L1528,953.9L1530.7,954.4L1533.4,954.8L1536,955.3L1538.7,955.7L1541.4,956.2L1544.1,956.7L1546.8,957.2L1549.4,957.7L1552.1,958.3L1554.8,958.8L1557.5,959.3L1560.2,959.9L1562.8,960.6L1565.5,961.3L1568.2,962.2L1570.9,963.6L1573.5,965.6L1576.2,967.9L1578.9,970L1581.6,971.6L1584.3,972.2L1586.9,971.8L1589.6,970.8L1592.3,969.2L1595,967.2L1597.7,961.4L1600.3,950.1L1603,936.2L1605.7,922.2L1608.4,907.7L1611.1,891.2L1613.7,873.9L1616.4,857.2L1619.1,842.2L1621.8,828.8L1624.5,816L1627.1,804L1629.8,792.7L1632.5,782.2L1635.2,772.1L1637.8,762.3L1640.5,753.7L1643.2,747.2L1645.9,741.9L1648.6,737.1L1651.2,733.6L1653.9,732.2L1656.6,733.2L1659.3,735.7L1662,739.2L1664.6,743.2L1667.3,747.2L1670,751.6L1672.7,756.8L1675.4,762.4L1678,767.7L1680.7,772.2L1683.4,776L1686.1,779.7L1688.7,783.3L1691.4,786.7L1694.1,789.9L1696.8,792.9L1699.5,795.7L1702.1,798.2L1704.8,800.4L1707.5,802.2" fill="none" stroke="#1FA39A" stroke-opacity="0.3" stroke-width="6.3" stroke-linecap="round" stroke-linejoin="round"/>
<path d="M1171.7,853.7L1174.4,853.4L1177.1,853.2L1179.7,853.1L1182.4,852.9L1185.1,852.8L1187.8,852.8L1190.5,852.7L1193.1,852.7L1195.8,852.7L1198.5,852.7L1201.2,852.8L1203.8,853.2L1206.5,853.8L1209.2,854.5L1211.9,855.4L1214.6,856.3L1217.2,857.2L1219.9,858L1222.6,858.7L1225.3,859.2L1228,859.5L1230.6,859.8L1233.3,860L1236,860.2L1238.7,860.4L1241.4,860.5L1244,860.8L1246.7,861L1249.4,861.3L1252.1,861.7L1254.7,862.3L1257.4,863.3L1260.1,864.6L1262.8,866.1L1265.5,867.8L1268.1,869.6L1270.8,871.6L1273.5,873.5L1276.2,875.4L1278.9,877.2L1281.5,879L1284.2,881L1286.9,883L1289.6,885.1L1292.3,887.2L1294.9,889.4L1297.6,891.5L1300.3,893.5L1303,895.4L1305.7,897.2L1308.3,898.9L1311,900.6L1313.7,902.2L1316.4,903.8L1319,905.3L1321.7,906.8L1324.4,908.3L1327.1,909.7L1329.8,911L1332.4,912.2L1335.1,913.4L1337.8,914.6L1340.5,915.7L1343.2,916.8L1345.8,917.9L1348.5,918.9L1351.2,919.8L1353.9,920.7L1356.6,921.5L1359.2,922.2L1361.9,922.9L1364.6,923.5L1367.3,924.1L1369.9,924.6L1372.6,925.1L1375.3,925.6L1378,926.1L1380.7,926.5L1383.3,926.9L1386,927.2L1388.7,927.5L1391.4,927.8L1394.1,928.1L1396.7,928.3L1399.4,928.6L1402.1,928.8L1404.8,929L1407.5,929.2L1410.1,929.5L1412.8,929.7L1415.5,930L1418.2,930.3L1420.8,930.6L1423.5,930.9L1426.2,931.3L1428.9,931.6L1431.6,931.8L1434.2,932L1436.9,932.2L1439.6,932.2L1442.3,932.1L1445,931.8L1447.6,931.4L1450.3,930.9L1453,930.3L1455.7,929.7L1458.4,929L1461,928.4L1463.7,927.7L1466.4,927.2L1469.1,926.7L1471.7,926L1474.4,925.4L1477.1,924.7L1479.8,924.1L1482.5,923.5L1485.1,923L1487.8,922.6L1490.5,922.3L1493.2,922.2L1495.9,922.3L1498.5,922.5L1501.2,922.9L1503.9,923.3L1506.6,923.9L1509.3,924.5L1511.9,925.1L1514.6,925.8L1517.3,926.5L1520,927.2L1522.6,927.9L1525.3,928.7L1528,929.6L1530.7,930.5L1533.4,931.5L1536,932.6L1538.7,933.7L1541.4,934.8L1544.1,936L1546.8,937.2L1549.4,938.4L1552.1,939.7L1554.8,941L1557.5,942.4L1560.2,943.8L1562.8,945.3L1565.5,946.9L1568.2,948.6L1570.9,950.3L1573.5,952.2L1576.2,954.6L1578.9,957.8L1581.6,961.1L1584.3,964.2L1586.9,966.4L1589.6,967.2L1592.3,965.9L1595,962.5L1597.7,957.7L1600.3,952.2L1603,944.4L1605.7,933.3L1608.4,920L1611.1,905.8L1613.7,892.2L1616.4,878.7L1619.1,864.3L1621.8,849.6L1624.5,834.9L1627.1,820.6L1629.8,807.2L1632.5,794.3L1635.2,781.5L1637.8,769.1L1640.5,757.4L1643.2,746.6L1645.9,737.2L1648.6,728.6L1651.2,720.4L1653.9,713.1L1656.6,706.8L1659.3,702.2L1662,698.5L1664.6,695.1L1667.3,692.8L1670,692.3L1672.7,695.6L1675.4,702.1L1678,709.9L1680.7,717.2L1683.4,724.2L1686.1,731.9L1688.7,739.7L1691.4,746.7L1694.1,752.2L1696.8,756.6L1699.5,760.7L1702.1,764.3L1704.8,767.1L1707.5,769.2" fill="none" stroke="#1FA39A" stroke-opacity="0.4" stroke-width="6.3" stroke-linecap="round" stroke-linejoin="round"/>
<path d="M1171.7,780.7L1174.4,781.2L1177.1,781.7L1179.7,782.2L1182.4,782.7L1185.1,783.3L1187.8,783.8L1190.5,784.5L1193.1,785.1L1195.8,785.9L1198.5,786.9L1201.2,787.9L1203.8,788.8L1206.5,789.7L1209.2,790.4L1211.9,791L1214.6,791.2L1217.2,790L1219.9,786.1L1222.6,780.7L1225.3,775.3L1228,771.2L1230.6,768.2L1233.3,765.2L1236,762.7L1238.7,760.7L1241.4,759.7L1244,759.3L1246.7,758.9L1249.4,758.6L1252.1,758.4L1254.7,758.2L1257.4,758.2L1260.1,758.5L1262.8,759.2L1265.5,760.2L1268.1,761.4L1270.8,762.7L1273.5,764.1L1276.2,765.4L1278.9,766.7L1281.5,768L1284.2,769.4L1286.9,770.8L1289.6,772.3L1292.3,773.9L1294.9,775.6L1297.6,777.3L1300.3,779.1L1303,780.9L1305.7,782.9L1308.3,784.9L1311,787.1L1313.7,789.4L1316.4,791.8L1319,794.4L1321.7,797.1L1324.4,800.1L1327.1,803.3L1329.8,806.8L1332.4,810.6L1335.1,814.5L1337.8,818.7L1340.5,823.3L1343.2,828.3L1345.8,833.7L1348.5,839.2L1351.2,844.8L1353.9,850.2L1356.6,855.7L1359.2,861.4L1361.9,867.1L1364.6,872.4L1367.3,877.1L1369.9,881.7L1372.6,886.1L1375.3,889.7L1378,892.1L1380.7,893.8L1383.3,895.3L1386,896.4L1388.7,897.1L1391.4,897.2L1394.1,896.7L1396.7,896L1399.4,895.3L1402.1,894.8L1404.8,894.7L1407.5,895.1L1410.1,895.7L1412.8,896.5L1415.5,897.4L1418.2,898.4L1420.8,899.4L1423.5,900.2L1426.2,901.2L1428.9,902.3L1431.6,903.3L1434.2,904.4L1436.9,905.4L1439.6,906.2L1442.3,906.9L1445,907.6L1447.6,908.2L1450.3,908.8L1453,909.3L1455.7,909.9L1458.4,910.4L1461,911L1463.7,911.6L1466.4,912.2L1469.1,912.9L1471.7,913.6L1474.4,914.3L1477.1,915L1479.8,915.7L1482.5,916.5L1485.1,917.2L1487.8,918L1490.5,918.9L1493.2,919.7L1495.9,920.6L1498.5,921.5L1501.2,922.4L1503.9,923.4L1506.6,924.4L1509.3,925.4L1511.9,926.5L1514.6,927.5L1517.3,928.6L1520,929.7L1522.6,930.8L1525.3,931.9L1528,933L1530.7,934.2L1533.4,935.3L1536,936.5L1538.7,937.7L1541.4,938.9L1544.1,940.2L1546.8,941.5L1549.4,942.8L1552.1,944.2L1554.8,945.6L1557.5,946.9L1560.2,948.3L1562.8,949.8L1565.5,951.4L1568.2,953.4L1570.9,955.8L1573.5,959.4L1576.2,964L1578.9,968.6L1581.6,972.8L1584.3,975.7L1586.9,978.1L1589.6,980.3L1592.3,981.8L1595,982.1L1597.7,978.6L1600.3,971L1603,960.7L1605.7,949L1608.4,937.2L1611.1,923.6L1613.7,906.8L1616.4,888.4L1619.1,869.8L1621.8,852.8L1624.5,837.6L1627.1,822.6L1629.8,808L1632.5,794L1635.2,780.9L1637.8,768.8L1640.5,758.1L1643.2,748.4L1645.9,739.6L1648.6,731.3L1651.2,723.2L1653.9,715L1656.6,706.1L1659.3,697.3L1662,689.7L1664.6,684.3L1667.3,680L1670,676.6L1672.7,675.2L1675.4,677.2L1678,682.5L1680.7,689.8L1683.4,697.9L1686.1,706.1L1688.7,716.5L1691.4,728.3L1694.1,739.3L1696.8,747.8L1699.5,755.3L1702.1,762.1L1704.8,767.9L1707.5,772.7" fill="none" stroke="#1FA39A" stroke-opacity="0.5" stroke-width="6.3" stroke-linecap="round" stroke-linejoin="round"/>
<path d="M1171.7,812.2L1174.4,813L1177.1,813.7L1179.7,814.5L1182.4,815.2L1185.1,816L1187.8,816.7L1190.5,817.5L1193.1,818.2L1195.8,819L1198.5,819.7L1201.2,820.5L1203.8,821.3L1206.5,822.2L1209.2,823.1L1211.9,823.9L1214.6,824.7L1217.2,825.5L1219.9,826.2L1222.6,826.8L1225.3,827.2L1228,827.6L1230.6,827.9L1233.3,828.1L1236,828.4L1238.7,828.6L1241.4,828.8L1244,829L1246.7,829.2L1249.4,829.5L1252.1,829.7L1254.7,829.9L1257.4,830.2L1260.1,830.4L1262.8,830.6L1265.5,830.8L1268.1,831L1270.8,831.2L1273.5,831.5L1276.2,831.8L1278.9,832.2L1281.5,832.7L1284.2,833.3L1286.9,834L1289.6,834.9L1292.3,835.9L1294.9,837L1297.6,838.2L1300.3,839.5L1303,840.8L1305.7,842.2L1308.3,843.8L1311,845.8L1313.7,848L1316.4,850.4L1319,853.1L1321.7,855.8L1324.4,858.7L1327.1,861.6L1329.8,864.4L1332.4,867.2L1335.1,870L1337.8,873L1340.5,876.2L1343.2,879.4L1345.8,882.6L1348.5,885.8L1351.2,888.9L1353.9,891.9L1356.6,894.7L1359.2,897.2L1361.9,899.6L1364.6,902L1367.3,904.4L1369.9,906.6L1372.6,908.8L1375.3,910.9L1378,912.8L1380.7,914.5L1383.3,916L1386,917.2L1388.7,918.3L1391.4,919.3L1394.1,920.2L1396.7,921.1L1399.4,921.8L1402.1,922.6L1404.8,923.2L1407.5,923.8L1410.1,924.3L1412.8,924.7L1415.5,925.1L1418.2,925.4L1420.8,925.8L1423.5,926.1L1426.2,926.4L1428.9,926.7L1431.6,926.9L1434.2,927.1L1436.9,927.2L1439.6,927.2L1442.3,927.1L1445,926.8L1447.6,926.4L1450.3,925.9L1453,925.3L1455.7,924.7L1458.4,924L1461,923.4L1463.7,922.7L1466.4,922.2L1469.1,921.7L1471.7,921L1474.4,920.4L1477.1,919.7L1479.8,919.1L1482.5,918.5L1485.1,918L1487.8,917.6L1490.5,917.3L1493.2,917.2L1495.9,917.3L1498.5,917.7L1501.2,918.2L1503.9,918.9L1506.6,919.8L1509.3,920.7L1511.9,921.7L1514.6,922.7L1517.3,923.7L1520,924.7L1522.6,925.7L1525.3,926.8L1528,927.9L1530.7,929.1L1533.4,930.4L1536,931.7L1538.7,933.1L1541.4,934.5L1544.1,935.8L1546.8,937.2L1549.4,938.5L1552.1,939.9L1554.8,941.2L1557.5,942.5L1560.2,943.9L1562.8,945.3L1565.5,946.8L1568.2,948.5L1570.9,950.3L1573.5,952.2L1576.2,954.6L1578.9,957.6L1581.6,960.8L1584.3,964.1L1586.9,967.2L1589.6,969.7L1592.3,972.1L1595,974.3L1597.7,975.2L1600.3,970.8L1603,959.9L1605.7,945.9L1608.4,932.2L1611.1,919L1613.7,904.5L1616.4,889.1L1619.1,873.3L1621.8,857.3L1624.5,841.7L1627.1,826.5L1629.8,810.6L1632.5,794.6L1635.2,779.3L1637.8,765.7L1640.5,754.2L1643.2,742.4L1645.9,731.8L1648.6,725L1651.2,723.9L1653.9,726.3L1656.6,730.6L1659.3,736.2L1662,742.5L1664.6,748.7L1667.3,754.2L1670,759L1672.7,764L1675.4,769L1678,774L1680.7,778.8L1683.4,783.2L1686.1,787.1L1688.7,790.2L1691.4,792.9L1694.1,795.4L1696.8,797.8L1699.5,799.9L1702.1,801.7L1704.8,803.2L1707.5,804.2" fill="none" stroke="#1FA39A" stroke-opacity="0.7" stroke-width="6.3" stroke-linecap="round" stroke-linejoin="round"/>
<path d="M1171.7,807.2L1174.4,808.2L1177.1,809.2L1179.7,810.2L1182.4,811.2L1185.1,812.2L1187.8,813.2L1190.5,814.2L1193.1,815.2L1195.8,816.2L1198.5,817.2L1201.2,818.2L1203.8,819.1L1206.5,820L1209.2,820.9L1211.9,821.8L1214.6,822.7L1217.2,823.7L1219.9,824.8L1222.6,825.9L1225.3,827.2L1228,828.6L1230.6,830.3L1233.3,832.1L1236,834L1238.7,836.1L1241.4,838.2L1244,840.5L1246.7,842.7L1249.4,845L1252.1,847.2L1254.7,849.5L1257.4,851.8L1260.1,854.3L1262.8,856.8L1265.5,859.4L1268.1,861.9L1270.8,864.5L1273.5,867.1L1276.2,869.7L1278.9,872.2L1281.5,874.7L1284.2,877.3L1286.9,879.9L1289.6,882.5L1292.3,885L1294.9,887.6L1297.6,890.1L1300.3,892.6L1303,894.9L1305.7,897.2L1308.3,899.4L1311,901.6L1313.7,903.7L1316.4,905.8L1319,907.8L1321.7,909.8L1324.4,911.8L1327.1,913.6L1329.8,915.5L1332.4,917.2L1335.1,918.9L1337.8,920.6L1340.5,922.2L1343.2,923.8L1345.8,925.3L1348.5,926.8L1351.2,928.3L1353.9,929.7L1356.6,931L1359.2,932.2L1361.9,933.4L1364.6,934.6L1367.3,935.7L1369.9,936.8L1372.6,937.9L1375.3,938.9L1378,939.8L1380.7,940.7L1383.3,941.5L1386,942.2L1388.7,942.9L1391.4,943.5L1394.1,944.1L1396.7,944.6L1399.4,945.1L1402.1,945.6L1404.8,946.1L1407.5,946.5L1410.1,946.9L1412.8,947.2L1415.5,947.5L1418.2,947.8L1420.8,948L1423.5,948.2L1426.2,948.5L1428.9,948.7L1431.6,948.9L1434.2,949.1L1436.9,949.4L1439.6,949.7L1442.3,950.1L1445,950.5L1447.6,950.9L1450.3,951.4L1453,951.9L1455.7,952.4L1458.4,953L1461,953.6L1463.7,954.1L1466.4,954.7L1469.1,955.3L1471.7,956.1L1474.4,956.9L1477.1,957.8L1479.8,958.7L1482.5,959.5L1485.1,960.2L1487.8,960.7L1490.5,961.1L1493.2,961.2L1495.9,959.8L1498.5,956.4L1501.2,952.2L1503.9,946.6L1506.6,939L1509.3,930.3L1511.9,921L1514.6,910.3L1517.3,898.4L1520,885.9L1522.6,873.2L1525.3,861L1528,849.7L1530.7,839L1533.4,828.3L1536,817.9L1538.7,807.9L1541.4,798.5L1544.1,789.9L1546.8,782.2L1549.4,775L1552.1,768.3L1554.8,762L1557.5,756L1560.2,750.2L1562.8,744.7L1565.5,739.2L1568.2,733.7L1570.9,728.3L1573.5,723.3L1576.2,718.9L1578.9,715.1L1581.6,712.1L1584.3,709.2L1586.9,706.4L1589.6,703.9L1592.3,701.6L1595,699.7L1597.7,698.4L1600.3,697.8L1603,697.9L1605.7,698.7L1608.4,700.3L1611.1,702.3L1613.7,704.8L1616.4,707.5L1619.1,710.3L1621.8,714.2L1624.5,719.3L1627.1,725.4L1629.8,732.1L1632.5,738.9L1635.2,745.6L1637.8,751.9L1640.5,757.3L1643.2,762.8L1645.9,768.4L1648.6,773.9L1651.2,779.2L1653.9,784.1L1656.6,788.4L1659.3,792L1662,794.7L1664.6,797.2L1667.3,799.5L1670,801.7L1672.7,803.5L1675.4,805.2L1678,806.5L1680.7,807.4L1683.4,808.1L1686.1,808.6L1688.7,809.2L1691.4,809.7L1694.1,810.1L1696.8,810.5L1699.5,810.8L1702.1,811L1704.8,811.2L1707.5,811.2" fill="none" stroke="#1FA39A" stroke-opacity="0.7" stroke-width="6.3" stroke-linecap="round" stroke-linejoin="round"/>
<path d="M1171.7,802.7L1174.4,804.2L1177.1,805.7L1179.7,807.3L1182.4,808.9L1185.1,810.5L1187.8,812.1L1190.5,813.7L1193.1,815.3L1195.8,817L1198.5,818.7L1201.2,820.4L1203.8,822L1206.5,823.6L1209.2,825.2L1211.9,826.8L1214.6,828.6L1217.2,830.4L1219.9,832.3L1222.6,834.4L1225.3,836.7L1228,839.3L1230.6,842.4L1233.3,845.8L1236,849.2L1238.7,852.7L1241.4,856.2L1244,859.8L1246.7,863.5L1249.4,867.2L1252.1,870.7L1254.7,874.2L1257.4,877.6L1260.1,881L1262.8,884.2L1265.5,887.3L1268.1,890.2L1270.8,893.1L1273.5,895.9L1276.2,898.6L1278.9,901.2L1281.5,903.8L1284.2,906.2L1286.9,908.7L1289.6,911L1292.3,913.4L1294.9,915.7L1297.6,918L1300.3,920.2L1303,922.3L1305.7,924.3L1308.3,926.2L1311,928L1313.7,929.7L1316.4,931.5L1319,933.2L1321.7,934.9L1324.4,936.6L1327.1,938.1L1329.8,939.4L1332.4,940.5L1335.1,941.3L1337.8,941.7L1340.5,941.9L1343.2,942.1L1345.8,942.3L1348.5,942.5L1351.2,942.7L1353.9,942.8L1356.6,942.9L1359.2,943L1361.9,943.1L1364.6,943.2L1367.3,943.2L1369.9,943.2L1372.6,943.1L1375.3,943L1378,942.7L1380.7,942.3L1383.3,941.9L1386,941.4L1388.7,940.8L1391.4,940.2L1394.1,939.6L1396.7,938.9L1399.4,937.8L1402.1,936.3L1404.8,934.6L1407.5,932.6L1410.1,930.6L1412.8,928.6L1415.5,926.7L1418.2,925L1420.8,923.6L1423.5,922.6L1426.2,921.5L1428.9,920.5L1431.6,919.6L1434.2,918.9L1436.9,918.4L1439.6,918.2L1442.3,918.4L1445,919L1447.6,920L1450.3,921.1L1453,922.5L1455.7,924L1458.4,925.6L1461,927.2L1463.7,929L1466.4,931.1L1469.1,933.4L1471.7,936L1474.4,938.8L1477.1,941.6L1479.8,944.4L1482.5,947.2L1485.1,950.2L1487.8,953.6L1490.5,957.1L1493.2,960.3L1495.9,962.9L1498.5,964.7L1501.2,965.9L1503.9,966.9L1506.6,967.7L1509.3,968.2L1511.9,967.2L1514.6,962.3L1517.3,954.9L1520,947.2L1522.6,939.3L1525.3,930L1528,919.7L1530.7,907.8L1533.4,894.2L1536,879.8L1538.7,865.5L1541.4,852.2L1544.1,840.1L1546.8,828.3L1549.4,816.8L1552.1,805.8L1554.8,795.3L1557.5,785.4L1560.2,776.1L1562.8,767.3L1565.5,759L1568.2,751.1L1570.9,743.4L1573.5,736L1576.2,728.7L1578.9,721.2L1581.6,713.5L1584.3,706L1586.9,699.2L1589.6,693.9L1592.3,689.9L1595,686.3L1597.7,683L1600.3,680.5L1603,679L1605.7,678.8L1608.4,680.1L1611.1,682.6L1613.7,685.8L1616.4,689.3L1619.1,692.9L1621.8,697.3L1624.5,702.5L1627.1,708.3L1629.8,714.3L1632.5,720.2L1635.2,726.2L1637.8,732.5L1640.5,738.9L1643.2,745L1645.9,750.7L1648.6,755.8L1651.2,760.8L1653.9,765.8L1656.6,770.5L1659.3,774.9L1662,779L1664.6,782.8L1667.3,786.1L1670,789.1L1672.7,792L1675.4,794.7L1678,797.3L1680.7,799.6L1683.4,801.6L1686.1,803.1L1688.7,804.2L1691.4,805L1694.1,805.7L1696.8,806.4L1699.5,806.9L1702.1,807.3L1704.8,807.6L1707.5,807.7" fill="none" stroke="#1FA39A" stroke-opacity="0.8" stroke-width="6.3" stroke-linecap="round" stroke-linejoin="round"/>
<path d="M1171.7,796.2L1174.4,794.3L1177.1,792.8L1179.7,791.8L1182.4,791.2L1185.1,791.3L1187.8,791.9L1190.5,793L1193.1,794.3L1195.8,795.8L1198.5,797.4L1201.2,799.2L1203.8,801.5L1206.5,804.3L1209.2,807.2L1211.9,810.2L1214.6,812.9L1217.2,815.3L1219.9,817.4L1222.6,819.6L1225.3,821.7L1228,823.5L1230.6,824.7L1233.3,825.2L1236,825.1L1238.7,824.9L1241.4,824.6L1244,824.3L1246.7,824L1249.4,823.8L1252.1,823.7L1254.7,823.8L1257.4,824L1260.1,824.3L1262.8,824.7L1265.5,825.1L1268.1,825.6L1270.8,826.2L1273.5,826.8L1276.2,827.4L1278.9,827.9L1281.5,828.5L1284.2,829.2L1286.9,830L1289.6,830.8L1292.3,831.7L1294.9,832.7L1297.6,833.7L1300.3,834.9L1303,836.4L1305.7,838L1308.3,839.9L1311,842L1313.7,844.2L1316.4,846.7L1319,849.5L1321.7,852.8L1324.4,856.6L1327.1,860.7L1329.8,864.9L1332.4,869.3L1335.1,874.1L1337.8,879.1L1340.5,884.3L1343.2,889.2L1345.8,894.1L1348.5,899.1L1351.2,904L1353.9,908.6L1356.6,912.7L1359.2,916.5L1361.9,920.1L1364.6,923.4L1367.3,926.3L1369.9,928.7L1372.6,930.9L1375.3,932.9L1378,934.7L1380.7,935.9L1383.3,936.2L1386,936.1L1388.7,935.8L1391.4,935.4L1394.1,934.9L1396.7,934.3L1399.4,933.7L1402.1,933L1404.8,932.3L1407.5,931.6L1410.1,930.9L1412.8,930.1L1415.5,929.2L1418.2,928.1L1420.8,927L1423.5,925.9L1426.2,924.7L1428.9,923.7L1431.6,922.7L1434.2,921.8L1436.9,921.2L1439.6,920.7L1442.3,920.4L1445,920L1447.6,919.8L1450.3,919.7L1453,920L1455.7,921.3L1458.4,923.2L1461,925.7L1463.7,928.6L1466.4,931.5L1469.1,934.5L1471.7,937.2L1474.4,939.8L1477.1,942.6L1479.8,945.5L1482.5,948.5L1485.1,951.6L1487.8,954.7L1490.5,957.7L1493.2,960.8L1495.9,963.7L1498.5,966.6L1501.2,969.3L1503.9,972.5L1506.6,975.8L1509.3,978.9L1511.9,981.6L1514.6,983.5L1517.3,984.2L1520,983.7L1522.6,982.5L1525.3,980.5L1528,978L1530.7,975.2L1533.4,972.2L1536,968.1L1538.7,962.2L1541.4,955.2L1544.1,947.5L1546.8,939.6L1549.4,932.2L1552.1,925L1554.8,917.4L1557.5,909.7L1560.2,902L1562.8,894.3L1565.5,886.8L1568.2,879.7L1570.9,872.8L1573.5,866.1L1576.2,859.5L1578.9,853L1581.6,846.8L1584.3,840.6L1586.9,834.7L1589.6,828.9L1592.3,823.2L1595,817.7L1597.7,812.3L1600.3,807.1L1603,802.1L1605.7,797.2L1608.4,792.5L1611.1,787.9L1613.7,783.5L1616.4,779.2L1619.1,775L1621.8,771L1624.5,767.2L1627.1,763.4L1629.8,759.6L1632.5,755.9L1635.2,752.5L1637.8,749.6L1640.5,747.2L1643.2,745.2L1645.9,743.2L1648.6,741.6L1651.2,740.5L1653.9,740.2L1656.6,740.7L1659.3,741.9L1662,743.4L1664.6,745.3L1667.3,747.2L1670,749.7L1672.7,753L1675.4,756.8L1678,760.8L1680.7,764.7L1683.4,768.5L1686.1,772.5L1688.7,776.6L1691.4,780.7L1694.1,784.7L1696.8,788.6L1699.5,792.6L1702.1,796.5L1704.8,800.3L1707.5,804.2" fill="none" stroke="#1FA39A" stroke-opacity="0.85" stroke-width="6.3" stroke-linecap="round" stroke-linejoin="round"/>
<path d="M1171.7,796.2L1174.4,798.5L1177.1,800.8L1179.7,803.1L1182.4,805.3L1185.1,807.4L1187.8,809.4L1190.5,811.3L1193.1,813.2L1195.8,815.1L1198.5,816.9L1201.2,818.6L1203.8,820.4L1206.5,822.2L1209.2,824L1211.9,825.8L1214.6,827.7L1217.2,829.6L1219.9,831.4L1222.6,833.3L1225.3,835.2L1228,837.1L1230.6,839L1233.3,840.9L1236,842.8L1238.7,844.7L1241.4,846.6L1244,848.5L1246.7,850.4L1249.4,852.3L1252.1,854.2L1254.7,856.1L1257.4,858L1260.1,859.8L1262.8,861.7L1265.5,863.6L1268.1,865.5L1270.8,867.3L1273.5,869.2L1276.2,871.1L1278.9,873L1281.5,874.9L1284.2,876.7L1286.9,878.5L1289.6,880.2L1292.3,881.9L1294.9,883.6L1297.6,885.3L1300.3,887L1303,888.7L1305.7,890.3L1308.3,891.8L1311,893.2L1313.7,894.4L1316.4,895.5L1319,896.4L1321.7,897.2L1324.4,897.8L1327.1,898.5L1329.8,899L1332.4,899.6L1335.1,900.2L1337.8,900.8L1340.5,901.4L1343.2,902.2L1345.8,903L1348.5,903.9L1351.2,904.8L1353.9,905.7L1356.6,906.7L1359.2,907.7L1361.9,908.9L1364.6,910L1367.3,911.3L1369.9,912.7L1372.6,914.3L1375.3,916.1L1378,918.2L1380.7,920.5L1383.3,922.8L1386,925.2L1388.7,927.7L1391.4,930.1L1394.1,932.4L1396.7,934.6L1399.4,936.8L1402.1,939.1L1404.8,941.3L1407.5,943.2L1410.1,944.8L1412.8,946.3L1415.5,947.6L1418.2,948.9L1420.8,950.1L1423.5,951.2L1426.2,952.3L1428.9,953.3L1431.6,954.3L1434.2,955.3L1436.9,956.3L1439.6,957.2L1442.3,958.1L1445,958.9L1447.6,959.7L1450.3,960.4L1453,961.1L1455.7,961.8L1458.4,962.6L1461,963.4L1463.7,964.3L1466.4,965.3L1469.1,966.4L1471.7,967.7L1474.4,969L1477.1,970.5L1479.8,971.9L1482.5,973.4L1485.1,974.9L1487.8,976.3L1490.5,977.8L1493.2,979.1L1495.9,980.4L1498.5,981.6L1501.2,982.6L1503.9,983.7L1506.6,984.9L1509.3,986L1511.9,986.9L1514.6,987.5L1517.3,987.7L1520,987.2L1522.6,986L1525.3,984.1L1528,981.8L1530.7,979.2L1533.4,975.9L1536,970.8L1538.7,964.4L1541.4,957.3L1544.1,950L1546.8,942.8L1549.4,934.9L1552.1,926.4L1554.8,917.5L1557.5,908.6L1560.2,899.9L1562.8,891.7L1565.5,883.8L1568.2,876.1L1570.9,868.4L1573.5,861L1576.2,853.7L1578.9,846.7L1581.6,840.1L1584.3,833.6L1586.9,827.3L1589.6,821.2L1592.3,815.3L1595,809.6L1597.7,804.2L1600.3,799L1603,793.9L1605.7,789L1608.4,784.3L1611.1,779.7L1613.7,775.3L1616.4,771L1619.1,766.7L1621.8,762.4L1624.5,758.3L1627.1,754.5L1629.8,751.1L1632.5,748.2L1635.2,745.5L1637.8,742.8L1640.5,740.3L1643.2,738.6L1645.9,737.7L1648.6,737.8L1651.2,738.2L1653.9,738.8L1656.6,739.6L1659.3,740.6L1662,741.7L1664.6,743.7L1667.3,746.4L1670,749.5L1672.7,752.7L1675.4,755.8L1678,758.9L1680.7,762.2L1683.4,765.5L1686.1,768.9L1688.7,772.3L1691.4,775.6L1694.1,778.7L1696.8,781.8L1699.5,784.8L1702.1,787.8L1704.8,790.8L1707.5,793.7" fill="none" stroke="#1FA39A" stroke-opacity="1.0" stroke-width="6.3" stroke-linecap="round" stroke-linejoin="round"/>
</g>
</g>
<g id="part_axes_build">
<line x1="1171.8" y1="207.0" x2="1171.8" y2="584.3" stroke="#262626" stroke-width="1.7"/>
<line x1="1171.8" y1="558.3" x2="1177.6" y2="558.3" stroke="#262626" stroke-width="1.7"/>
<line x1="1171.8" y1="508.3" x2="1177.6" y2="508.3" stroke="#262626" stroke-width="1.7"/>
<line x1="1171.8" y1="458.3" x2="1177.6" y2="458.3" stroke="#262626" stroke-width="1.7"/>
<line x1="1171.8" y1="408.3" x2="1177.6" y2="408.3" stroke="#262626" stroke-width="1.7"/>
<line x1="1171.8" y1="358.3" x2="1177.6" y2="358.3" stroke="#262626" stroke-width="1.7"/>
<line x1="1171.8" y1="308.3" x2="1177.6" y2="308.3" stroke="#262626" stroke-width="1.7"/>
<line x1="1171.8" y1="258.3" x2="1177.6" y2="258.3" stroke="#262626" stroke-width="1.7"/>
<line x1="1171.8" y1="208.3" x2="1177.6" y2="208.3" stroke="#262626" stroke-width="1.7"/>
<line x1="1171.8" y1="656.0" x2="1171.8" y2="1033.2" stroke="#262626" stroke-width="1.7"/>
<line x1="1171.8" y1="982.2" x2="1177.6" y2="982.2" stroke="#262626" stroke-width="1.7"/>
<line x1="1171.8" y1="932.2" x2="1177.6" y2="932.2" stroke="#262626" stroke-width="1.7"/>
<line x1="1171.8" y1="882.2" x2="1177.6" y2="882.2" stroke="#262626" stroke-width="1.7"/>
<line x1="1171.8" y1="832.2" x2="1177.6" y2="832.2" stroke="#262626" stroke-width="1.7"/>
<line x1="1171.8" y1="782.2" x2="1177.6" y2="782.2" stroke="#262626" stroke-width="1.7"/>
<line x1="1171.8" y1="732.2" x2="1177.6" y2="732.2" stroke="#262626" stroke-width="1.7"/>
<line x1="1171.8" y1="682.2" x2="1177.6" y2="682.2" stroke="#262626" stroke-width="1.7"/>
<line x1="1171.0" y1="1032.5" x2="1708.3" y2="1032.5" stroke="#262626" stroke-width="1.7"/>
<line x1="1171.8" y1="1032.5" x2="1171.8" y2="1026.2" stroke="#262626" stroke-width="1.7"/>
<line x1="1438.5" y1="1032.5" x2="1438.5" y2="1026.2" stroke="#262626" stroke-width="1.7"/>
<line x1="1707.5" y1="1032.5" x2="1707.5" y2="1026.2" stroke="#262626" stroke-width="1.7"/>
<line x1="1901.3" y1="207.6" x2="1901.3" y2="584.8" stroke="#262626" stroke-width="1.7"/>
<line x1="1895.8" y1="584.0" x2="1901.3" y2="584.0" stroke="#262626" stroke-width="1.7"/>
<line x1="1895.8" y1="521.3" x2="1901.3" y2="521.3" stroke="#262626" stroke-width="1.7"/>
<line x1="1895.8" y1="458.6" x2="1901.3" y2="458.6" stroke="#262626" stroke-width="1.7"/>
<line x1="1895.8" y1="395.9" x2="1901.3" y2="395.9" stroke="#262626" stroke-width="1.7"/>
<line x1="1895.8" y1="333.20000000000005" x2="1901.3" y2="333.20000000000005" stroke="#262626" stroke-width="1.7"/>
<line x1="1895.8" y1="270.5" x2="1901.3" y2="270.5" stroke="#262626" stroke-width="1.7"/>
<line x1="1895.8" y1="207.8" x2="1901.3" y2="207.8" stroke="#262626" stroke-width="1.7"/>
<line x1="1901.3" y1="656.0" x2="1901.3" y2="1033.2" stroke="#262626" stroke-width="1.7"/>
<line x1="1895.8" y1="1032.5" x2="1901.3" y2="1032.5" stroke="#262626" stroke-width="1.7"/>
<line x1="1895.8" y1="969.9" x2="1901.3" y2="969.9" stroke="#262626" stroke-width="1.7"/>
<line x1="1895.8" y1="907.3" x2="1901.3" y2="907.3" stroke="#262626" stroke-width="1.7"/>
<line x1="1895.8" y1="844.7" x2="1901.3" y2="844.7" stroke="#262626" stroke-width="1.7"/>
<line x1="1895.8" y1="782.1" x2="1901.3" y2="782.1" stroke="#262626" stroke-width="1.7"/>
<line x1="1895.8" y1="719.5" x2="1901.3" y2="719.5" stroke="#262626" stroke-width="1.7"/>
<line x1="1895.8" y1="656.9000000000001" x2="1901.3" y2="656.9000000000001" stroke="#262626" stroke-width="1.7"/>
</g>
<g id="part_axes_bars">
<line x1="1818" y1="280" x2="1818" y2="532" stroke="#111" stroke-width="1.7"/>
<rect x="1787.0" y="532.5" width="39.2" height="51.4" fill="#D95319" stroke="#000" stroke-width="2.5"/>
<rect x="1829.2" y="269.0" width="38.6" height="315.0" fill="#1FA39A" stroke="#000" stroke-width="2.2"/>
<line x1="1806.4" y1="513.3" x2="1806.4" y2="552.8" stroke="#000" stroke-width="4.4"/>
<line x1="1848.0" y1="233.2" x2="1848.0" y2="305.4" stroke="#000" stroke-width="4.2"/>
<line x1="1779.3" y1="269.2" x2="1830" y2="269.2" stroke="#000" stroke-width="2.8"/>
<path d="M1818,270.5 L1824.8,294.5 L1818,288.5 L1811.2,294.5 Z" fill="#000"/>
<path d="M1808.2,214.6 V200.5 H1847.8 V214.6" fill="none" stroke="#000" stroke-width="2"/>
<line x1="1816.8" y1="706" x2="1816.8" y2="809" stroke="#111" stroke-width="1.7"/>
<rect x="1787.0" y="809.5" width="39.3" height="222.7" fill="#D95319" stroke="#000" stroke-width="2.5"/>
<rect x="1829.1" y="696.0" width="38.7" height="336.2" fill="#1FA39A" stroke="#000" stroke-width="2.2"/>
<line x1="1806.4" y1="747.3" x2="1806.4" y2="872.6" stroke="#000" stroke-width="4.4"/>
<line x1="1848.0" y1="660.5" x2="1848.0" y2="731.5" stroke="#000" stroke-width="4.2"/>
<line x1="1780.5" y1="696.2" x2="1830" y2="696.2" stroke="#000" stroke-width="2.8"/>
<path d="M1816.8,697.5 L1822.6,716.5 L1816.8,711.5 L1811,716.5 Z" fill="#000"/>
<path d="M1806,649.5 V635.2 H1846.2 V649.5" fill="none" stroke="#000" stroke-width="2"/>
<path d="M50.7,1027.2 V1083.5 H106.8" fill="none" stroke="#000" stroke-width="7.2"/>
</g>
<g id="part_text_build">
<text transform="translate(18.94,196.40) scale(0.8216,1)" font-size="50.30" font-weight="bold" fill="#000" stroke="#000" stroke-width="0.55" stroke-linejoin="round">a</text>
<text transform="translate(1004.24,200.70) scale(0.9626,1)" font-size="49.00" font-weight="bold" fill="#000" stroke="#000" stroke-width="0.55" stroke-linejoin="round">b</text>
<text transform="translate(1005.75,679.00) scale(0.8619,1)" font-size="47.30" font-weight="bold" fill="#000" stroke="#000" stroke-width="0.55" stroke-linejoin="round">c</text>
<text transform="translate(791.33,136.60) scale(0.8971,1)" font-size="47.60" font-weight="bold" fill="#D95319" stroke="#D95319" stroke-width="0.55" stroke-linejoin="round">KAFO</text>
<text transform="translate(1150.90,138.90) scale(0.8590,1)" font-size="47.30" font-weight="bold" fill="#1FA39A" stroke="#1FA39A" stroke-width="0.55" stroke-linejoin="round">ABLE</text>
<text transform="translate(395.97,221.40) scale(0.9799,1)" font-size="37.90" font-weight="bold" fill="#000" stroke="#000" stroke-width="0.55" stroke-linejoin="round">Swing pattern</text>
<text transform="translate(145.32,308.00) scale(0.9635,1)" font-size="32.00" font-weight="bold" fill="#000" stroke="#000" stroke-width="0.55" stroke-linejoin="round">P1</text>
<text transform="translate(317.09,308.00) scale(0.9778,1)" font-size="32.00" font-weight="bold" fill="#000" stroke="#000" stroke-width="0.55" stroke-linejoin="round">P2</text>
<text transform="translate(498.41,308.00) scale(0.9721,1)" font-size="32.00" font-weight="bold" fill="#000" stroke="#000" stroke-width="0.55" stroke-linejoin="round">P3</text>
<text transform="translate(676.93,308.00) scale(0.9603,1)" font-size="32.00" font-weight="bold" fill="#000" stroke="#000" stroke-width="0.55" stroke-linejoin="round">P4</text>
<text transform="translate(851.92,308.00) scale(0.9663,1)" font-size="32.00" font-weight="bold" fill="#000" stroke="#000" stroke-width="0.55" stroke-linejoin="round">P5</text>
<text transform="translate(143.08,524.00) scale(0.9860,1)" font-size="32.00" font-weight="bold" fill="#000" stroke="#000" stroke-width="0.55" stroke-linejoin="round">P6</text>
<text transform="translate(315.76,524.00) scale(0.9920,1)" font-size="32.00" font-weight="bold" fill="#000" stroke="#000" stroke-width="0.55" stroke-linejoin="round">P7</text>
<text transform="translate(497.49,524.00) scale(0.9802,1)" font-size="32.00" font-weight="bold" fill="#000" stroke="#000" stroke-width="0.55" stroke-linejoin="round">P8</text>
<text transform="translate(675.58,524.00) scale(0.9860,1)" font-size="32.00" font-weight="bold" fill="#000" stroke="#000" stroke-width="0.55" stroke-linejoin="round">P9</text>
<text transform="translate(850.51,524.00) scale(1.0186,1)" font-size="32.00" font-weight="bold" fill="#000" stroke="#000" stroke-width="0.55" stroke-linejoin="round">P10</text>
<text transform="translate(141.70,730.50) scale(0.9773,1)" font-size="32.00" font-weight="bold" fill="#000" stroke="#000" stroke-width="0.55" stroke-linejoin="round">P1</text>
<text transform="translate(314.37,730.50) scale(0.9890,1)" font-size="32.00" font-weight="bold" fill="#000" stroke="#000" stroke-width="0.55" stroke-linejoin="round">P2</text>
<text transform="translate(495.68,730.50) scale(0.9860,1)" font-size="32.00" font-weight="bold" fill="#000" stroke="#000" stroke-width="0.55" stroke-linejoin="round">P3</text>
<text transform="translate(673.83,730.50) scale(0.9603,1)" font-size="32.00" font-weight="bold" fill="#000" stroke="#000" stroke-width="0.55" stroke-linejoin="round">P4</text>
<text transform="translate(848.79,730.50) scale(0.9802,1)" font-size="32.00" font-weight="bold" fill="#000" stroke="#000" stroke-width="0.55" stroke-linejoin="round">P5</text>
<text transform="translate(136.25,938.50) scale(1.0000,1)" font-size="32.00" font-weight="bold" fill="#000" stroke="#000" stroke-width="0.55" stroke-linejoin="round">P6</text>
<text transform="translate(309.06,938.50) scale(0.9920,1)" font-size="32.00" font-weight="bold" fill="#000" stroke="#000" stroke-width="0.55" stroke-linejoin="round">P7</text>
<text transform="translate(490.79,938.50) scale(0.9774,1)" font-size="32.00" font-weight="bold" fill="#000" stroke="#000" stroke-width="0.55" stroke-linejoin="round">P8</text>
<text transform="translate(668.85,938.50) scale(0.9972,1)" font-size="32.00" font-weight="bold" fill="#000" stroke="#000" stroke-width="0.55" stroke-linejoin="round">P9</text>
<text transform="translate(843.70,938.50) scale(1.0204,1)" font-size="32.00" font-weight="bold" fill="#000" stroke="#000" stroke-width="0.55" stroke-linejoin="round">P10</text>
<text transform="translate(44.60,746.96) rotate(-90) scale(1.0018,1)" font-size="32.00" font-weight="bold" fill="#000" stroke="#000" stroke-width="0.55" stroke-linejoin="round">Inferiosuperior</text>
<text transform="translate(30.00,1093.83) rotate(-90) scale(1.0175,1)" font-size="32.30" font-weight="bold" fill="#000" stroke="#000" stroke-width="0.55" stroke-linejoin="round">0.5m</text>
<text transform="translate(43.33,1131.90) scale(1.0474,1)" font-size="32.30" font-weight="bold" fill="#000" stroke="#000" stroke-width="0.55" stroke-linejoin="round">0.4m</text>
<text transform="translate(394.32,1131.80) scale(0.9945,1)" font-size="32.30" font-weight="bold" fill="#000" stroke="#000" stroke-width="0.55" stroke-linejoin="round">Anteroposterior</text>
<text transform="translate(1335.74,1125.70) scale(0.9878,1)" font-size="31.30" font-weight="bold" fill="#000" stroke="#000" stroke-width="0.55" stroke-linejoin="round">Gait cycle (%)</text>
<text transform="translate(1073.00,545.63) rotate(-90) scale(0.9814,1)" font-size="32.30" font-weight="bold" fill="#000" stroke="#000" stroke-width="0.55" stroke-linejoin="round">Knee joint angle (deg)</text>
<text transform="translate(1073.00,1040.03) rotate(-90) scale(0.9709,1)" font-size="32.30" font-weight="bold" fill="#000" stroke="#000" stroke-width="0.55" stroke-linejoin="round">Thigh segment angle (deg)</text>
<text transform="translate(1994.20,522.53) rotate(-90) scale(0.9799,1)" font-size="32.30" font-weight="bold" fill="#000" stroke="#000" stroke-width="0.55" stroke-linejoin="round">Knee ROM (deg)</text>
<text transform="translate(1994.30,953.24) rotate(-90) scale(0.9770,1)" font-size="32.30" font-weight="bold" fill="#000" stroke="#000" stroke-width="0.55" stroke-linejoin="round">Thigh ROM (deg)</text>
<text transform="translate(1121.37,223.20) scale(1.0256,1)" font-size="32.30" font-weight="bold" fill="#000" stroke="#000" stroke-width="0.55" stroke-linejoin="round">60</text>
<text transform="translate(1122.03,320.40) scale(1.0149,1)" font-size="32.30" font-weight="bold" fill="#000" stroke="#000" stroke-width="0.55" stroke-linejoin="round">40</text>
<text transform="translate(1121.48,417.80) scale(1.0223,1)" font-size="32.30" font-weight="bold" fill="#000" stroke="#000" stroke-width="0.55" stroke-linejoin="round">20</text>
<text transform="translate(1138.12,516.90) scale(1.0548,1)" font-size="32.30" font-weight="bold" fill="#000" stroke="#000" stroke-width="0.55" stroke-linejoin="round">0</text>
<text transform="translate(1122.03,691.30) scale(1.0149,1)" font-size="32.30" font-weight="bold" fill="#000" stroke="#000" stroke-width="0.55" stroke-linejoin="round">40</text>
<text transform="translate(1121.07,792.00) scale(1.0342,1)" font-size="32.30" font-weight="bold" fill="#000" stroke="#000" stroke-width="0.55" stroke-linejoin="round">20</text>
<text transform="translate(1138.12,893.00) scale(1.0548,1)" font-size="32.30" font-weight="bold" fill="#000" stroke="#000" stroke-width="0.55" stroke-linejoin="round">0</text>
<text transform="translate(1109.12,994.30) scale(1.0498,1)" font-size="32.30" font-weight="bold" fill="#000" stroke="#000" stroke-width="0.55" stroke-linejoin="round">-20</text>
<text transform="translate(1162.14,1065.20) scale(1.0353,1)" font-size="32.30" font-weight="bold" fill="#000" stroke="#000" stroke-width="0.55" stroke-linejoin="round">0</text>
<text transform="translate(1418.08,1065.40) scale(1.0309,1)" font-size="32.30" font-weight="bold" fill="#000" stroke="#000" stroke-width="0.55" stroke-linejoin="round">50</text>
<text transform="translate(1676.57,1065.40) scale(1.0304,1)" font-size="32.30" font-weight="bold" fill="#000" stroke="#000" stroke-width="0.55" stroke-linejoin="round">100</text>
<text transform="translate(1905.67,220.10) scale(1.0256,1)" font-size="32.30" font-weight="bold" fill="#000" stroke="#000" stroke-width="0.55" stroke-linejoin="round">60</text>
<text transform="translate(1906.33,344.50) scale(1.0149,1)" font-size="32.30" font-weight="bold" fill="#000" stroke="#000" stroke-width="0.55" stroke-linejoin="round">40</text>
<text transform="translate(1905.78,470.00) scale(1.0223,1)" font-size="32.30" font-weight="bold" fill="#000" stroke="#000" stroke-width="0.55" stroke-linejoin="round">20</text>
<text transform="translate(1906.09,595.30) scale(1.0743,1)" font-size="32.30" font-weight="bold" fill="#000" stroke="#000" stroke-width="0.55" stroke-linejoin="round">0</text>
<text transform="translate(1904.96,668.50) scale(1.0285,1)" font-size="32.30" font-weight="bold" fill="#000" stroke="#000" stroke-width="0.55" stroke-linejoin="round">60</text>
<text transform="translate(1906.03,794.00) scale(1.0296,1)" font-size="32.30" font-weight="bold" fill="#000" stroke="#000" stroke-width="0.55" stroke-linejoin="round">40</text>
<text transform="translate(1905.47,918.60) scale(1.0342,1)" font-size="32.30" font-weight="bold" fill="#000" stroke="#000" stroke-width="0.55" stroke-linejoin="round">20</text>
<text transform="translate(1905.23,1044.60) scale(1.0483,1)" font-size="32.30" font-weight="bold" fill="#000" stroke="#000" stroke-width="0.55" stroke-linejoin="round">0</text>
<text transform="translate(1776.74,263.30) scale(0.9710,1)" font-size="19.50" font-weight="normal" fill="#000">517.9%</text>
<text transform="translate(1787.25,690.30) scale(0.9606,1)" font-size="19.50" font-weight="normal" fill="#000">51.3%</text>
<text transform="translate(1816.82,207.21) scale(1.3239,1.2054)" font-size="40" font-weight="bold" fill="#000">*</text>
<text transform="translate(1814.72,641.74) scale(1.3174,1.1920)" font-size="40" font-weight="bold" fill="#000">*</text>
<text transform="translate(1408.59,719.11) scale(0.9850,0.8824)" font-size="40" font-weight="bold" fill="#000">+</text>
</g>
</svg>
</body></html>
